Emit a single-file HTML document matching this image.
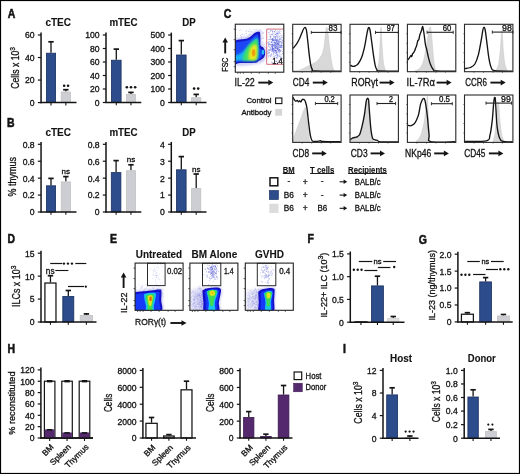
<!DOCTYPE html>
<html><head><meta charset="utf-8"><title>Figure</title>
<style>
html,body{margin:0;padding:0;background:#fff;}
body{width:520px;height:474px;overflow:hidden;}
svg{display:block;font-family:"Liberation Sans", sans-serif;will-change:transform;}
text{stroke:#141414;stroke-width:0.32px;}
text[font-weight=bold]{stroke-width:0.12px;}
</style></head><body>
<svg width="520" height="474" viewBox="0 0 520 474" fill="#141414">
<defs><filter id="b06" x="-30%" y="-30%" width="160%" height="160%"><feGaussianBlur stdDeviation="0.6"/></filter><filter id="b10" x="-30%" y="-30%" width="160%" height="160%"><feGaussianBlur stdDeviation="1.0"/></filter><filter id="b15" x="-30%" y="-30%" width="160%" height="160%"><feGaussianBlur stdDeviation="1.5"/></filter><filter id="b25" x="-30%" y="-30%" width="160%" height="160%"><feGaussianBlur stdDeviation="2.5"/></filter></defs>
<rect x="0" y="0" width="520" height="474" fill="#fff"/>
<rect x="0.5" y="0.5" width="519" height="473" fill="none" stroke="#000" stroke-width="1.2" />
<text font-size="12.2" font-weight="bold" style="stroke-width:0.55px" transform="translate(7.8 17.5) scale(0.86 1)" x="0" y="0">A</text>
<text x="58.2" y="26.4" font-size="10.2" text-anchor="middle" font-weight="bold" textLength="25.6" lengthAdjust="spacingAndGlyphs">cTEC</text>
<text x="123.5" y="26.4" font-size="10.2" text-anchor="middle" font-weight="bold" textLength="28.2" lengthAdjust="spacingAndGlyphs">mTEC</text>
<text x="189" y="26.4" font-size="10.2" text-anchor="middle" font-weight="bold" textLength="13.4" lengthAdjust="spacingAndGlyphs">DP</text>
<text font-size="10.4" transform="translate(19.4 88.7) rotate(-90)" textLength="41.7" lengthAdjust="spacingAndGlyphs" x="0" y="0">Cells x 10<tspan font-size="7.9" dy="-4.16">3</tspan></text>
<line x1="41.05" y1="103.2" x2="41.05" y2="32.6" stroke="#141414" stroke-width="1.5" />
<line x1="37.85" y1="102.6" x2="41.05" y2="102.6" stroke="#141414" stroke-width="1.2" />
<text x="34.65" y="106" font-size="8.6" text-anchor="end">0</text>
<line x1="37.85" y1="80.07" x2="41.05" y2="80.07" stroke="#141414" stroke-width="1.2" />
<text x="34.65" y="83.47" font-size="8.6" text-anchor="end">20</text>
<line x1="37.85" y1="57.53" x2="41.05" y2="57.53" stroke="#141414" stroke-width="1.2" />
<text x="34.65" y="60.93" font-size="8.6" text-anchor="end">40</text>
<line x1="37.85" y1="35" x2="41.05" y2="35" stroke="#141414" stroke-width="1.2" />
<text x="34.65" y="38.4" font-size="8.6" text-anchor="end">60</text>
<line x1="51" y1="52.8" x2="51" y2="41.8" stroke="#141414" stroke-width="1.3" />
<line x1="48.3" y1="41.8" x2="53.7" y2="41.8" stroke="#141414" stroke-width="1.7" />
<rect x="46.4" y="53.2" width="9.2" height="49.4" fill="#2c4c8c" stroke="#1b2f5e" stroke-width="0.8" />
<line x1="51" y1="102.6" x2="51" y2="105.4" stroke="#141414" stroke-width="1.1" />
<line x1="65.85" y1="91.6" x2="65.85" y2="89.7" stroke="#141414" stroke-width="1.3" />
<line x1="63.15" y1="89.7" x2="68.55" y2="89.7" stroke="#141414" stroke-width="1.7" />
<rect x="61.2" y="92" width="9.3" height="10.6" fill="#cdced3" stroke="#c2c2c2" stroke-width="0.8" />
<line x1="65.85" y1="102.6" x2="65.85" y2="105.4" stroke="#141414" stroke-width="1.1" />
<line x1="40.4" y1="102.6" x2="76.5" y2="102.6" stroke="#141414" stroke-width="1.5" />
<circle cx="64.15" cy="85.8" r="1.3" fill="#141414"/>
<circle cx="68.05" cy="85.8" r="1.3" fill="#141414"/>
<line x1="106" y1="103.1" x2="106" y2="32.6" stroke="#141414" stroke-width="1.5" />
<line x1="102.8" y1="102.5" x2="106" y2="102.5" stroke="#141414" stroke-width="1.2" />
<text x="99.6" y="105.9" font-size="8.6" text-anchor="end">0</text>
<line x1="102.8" y1="89" x2="106" y2="89" stroke="#141414" stroke-width="1.2" />
<text x="99.6" y="92.4" font-size="8.6" text-anchor="end">20</text>
<line x1="102.8" y1="75.5" x2="106" y2="75.5" stroke="#141414" stroke-width="1.2" />
<text x="99.6" y="78.9" font-size="8.6" text-anchor="end">40</text>
<line x1="102.8" y1="62" x2="106" y2="62" stroke="#141414" stroke-width="1.2" />
<text x="99.6" y="65.4" font-size="8.6" text-anchor="end">60</text>
<line x1="102.8" y1="48.5" x2="106" y2="48.5" stroke="#141414" stroke-width="1.2" />
<text x="99.6" y="51.9" font-size="8.6" text-anchor="end">80</text>
<line x1="102.8" y1="35" x2="106" y2="35" stroke="#141414" stroke-width="1.2" />
<text x="99.6" y="38.4" font-size="8.6" text-anchor="end">100</text>
<line x1="116.3" y1="59.8" x2="116.3" y2="49.1" stroke="#141414" stroke-width="1.3" />
<line x1="113.6" y1="49.1" x2="119" y2="49.1" stroke="#141414" stroke-width="1.7" />
<rect x="111.5" y="60.2" width="9.6" height="42.3" fill="#2c4c8c" stroke="#1b2f5e" stroke-width="0.8" />
<line x1="116.3" y1="102.5" x2="116.3" y2="105.3" stroke="#141414" stroke-width="1.1" />
<line x1="130.95" y1="94.1" x2="130.95" y2="92.4" stroke="#141414" stroke-width="1.3" />
<line x1="128.25" y1="92.4" x2="133.65" y2="92.4" stroke="#141414" stroke-width="1.7" />
<rect x="126.4" y="94.5" width="9.1" height="8" fill="#cdced3" stroke="#c2c2c2" stroke-width="0.8" />
<line x1="130.95" y1="102.5" x2="130.95" y2="105.3" stroke="#141414" stroke-width="1.1" />
<line x1="105.35" y1="102.5" x2="141.3" y2="102.5" stroke="#141414" stroke-width="1.5" />
<circle cx="126.85" cy="87.3" r="1.3" fill="#141414"/>
<circle cx="131" cy="87.3" r="1.3" fill="#141414"/>
<circle cx="135.15" cy="87.3" r="1.3" fill="#141414"/>
<line x1="171.3" y1="103.1" x2="171.3" y2="32.6" stroke="#141414" stroke-width="1.5" />
<line x1="168.1" y1="102.5" x2="171.3" y2="102.5" stroke="#141414" stroke-width="1.2" />
<text x="164.9" y="105.9" font-size="8.6" text-anchor="end">0</text>
<line x1="168.1" y1="89" x2="171.3" y2="89" stroke="#141414" stroke-width="1.2" />
<text x="164.9" y="92.4" font-size="8.6" text-anchor="end">100</text>
<line x1="168.1" y1="75.5" x2="171.3" y2="75.5" stroke="#141414" stroke-width="1.2" />
<text x="164.9" y="78.9" font-size="8.6" text-anchor="end">200</text>
<line x1="168.1" y1="62" x2="171.3" y2="62" stroke="#141414" stroke-width="1.2" />
<text x="164.9" y="65.4" font-size="8.6" text-anchor="end">300</text>
<line x1="168.1" y1="48.5" x2="171.3" y2="48.5" stroke="#141414" stroke-width="1.2" />
<text x="164.9" y="51.9" font-size="8.6" text-anchor="end">400</text>
<line x1="168.1" y1="35" x2="171.3" y2="35" stroke="#141414" stroke-width="1.2" />
<text x="164.9" y="38.4" font-size="8.6" text-anchor="end">500</text>
<line x1="181.3" y1="54.6" x2="181.3" y2="40.6" stroke="#141414" stroke-width="1.3" />
<line x1="178.6" y1="40.6" x2="184" y2="40.6" stroke="#141414" stroke-width="1.7" />
<rect x="176.5" y="55" width="9.6" height="47.5" fill="#2c4c8c" stroke="#1b2f5e" stroke-width="0.8" />
<line x1="181.3" y1="102.5" x2="181.3" y2="105.3" stroke="#141414" stroke-width="1.1" />
<line x1="196.2" y1="97.3" x2="196.2" y2="94.4" stroke="#141414" stroke-width="1.3" />
<line x1="193.5" y1="94.4" x2="198.9" y2="94.4" stroke="#141414" stroke-width="1.7" />
<rect x="191.6" y="97.7" width="9.2" height="4.8" fill="#cdced3" stroke="#c2c2c2" stroke-width="0.8" />
<line x1="196.2" y1="102.5" x2="196.2" y2="105.3" stroke="#141414" stroke-width="1.1" />
<line x1="170.65" y1="102.5" x2="206.5" y2="102.5" stroke="#141414" stroke-width="1.5" />
<circle cx="194.1" cy="88.6" r="1.3" fill="#141414"/>
<circle cx="198.2" cy="88.6" r="1.3" fill="#141414"/>
<text font-size="12.2" font-weight="bold" style="stroke-width:0.55px" transform="translate(7.1 127.3) scale(0.86 1)" x="0" y="0">B</text>
<text x="58.2" y="136.3" font-size="10.2" text-anchor="middle" font-weight="bold" textLength="25.6" lengthAdjust="spacingAndGlyphs">cTEC</text>
<text x="123.5" y="136.3" font-size="10.2" text-anchor="middle" font-weight="bold" textLength="28.2" lengthAdjust="spacingAndGlyphs">mTEC</text>
<text x="189" y="136.3" font-size="10.2" text-anchor="middle" font-weight="bold" textLength="13.4" lengthAdjust="spacingAndGlyphs">DP</text>
<text font-size="10.2" transform="translate(16.4 196.4) rotate(-90)" textLength="39.4" lengthAdjust="spacingAndGlyphs" x="0" y="0">% thymus</text>
<line x1="41.05" y1="212.6" x2="41.05" y2="141.9" stroke="#141414" stroke-width="1.5" />
<line x1="37.85" y1="212" x2="41.05" y2="212" stroke="#141414" stroke-width="1.2" />
<text x="34.65" y="215.4" font-size="8.6" text-anchor="end">0</text>
<line x1="37.85" y1="195.07" x2="41.05" y2="195.07" stroke="#141414" stroke-width="1.2" />
<text x="34.65" y="198.47" font-size="8.6" text-anchor="end">0.2</text>
<line x1="37.85" y1="178.15" x2="41.05" y2="178.15" stroke="#141414" stroke-width="1.2" />
<text x="34.65" y="181.55" font-size="8.6" text-anchor="end">0.4</text>
<line x1="37.85" y1="161.23" x2="41.05" y2="161.23" stroke="#141414" stroke-width="1.2" />
<text x="34.65" y="164.63" font-size="8.6" text-anchor="end">0.6</text>
<line x1="37.85" y1="144.3" x2="41.05" y2="144.3" stroke="#141414" stroke-width="1.2" />
<text x="34.65" y="147.7" font-size="8.6" text-anchor="end">0.8</text>
<line x1="51" y1="185.4" x2="51" y2="178.4" stroke="#141414" stroke-width="1.3" />
<line x1="48.3" y1="178.4" x2="53.7" y2="178.4" stroke="#141414" stroke-width="1.7" />
<rect x="46.4" y="185.8" width="9.2" height="26.2" fill="#2c4c8c" stroke="#1b2f5e" stroke-width="0.8" />
<line x1="51" y1="212" x2="51" y2="214.8" stroke="#141414" stroke-width="1.1" />
<line x1="65.85" y1="181.5" x2="65.85" y2="176.6" stroke="#141414" stroke-width="1.3" />
<line x1="63.15" y1="176.6" x2="68.55" y2="176.6" stroke="#141414" stroke-width="1.7" />
<rect x="61.2" y="181.9" width="9.3" height="30.1" fill="#cdced3" stroke="#c2c2c2" stroke-width="0.8" />
<line x1="65.85" y1="212" x2="65.85" y2="214.8" stroke="#141414" stroke-width="1.1" />
<line x1="40.4" y1="212" x2="76.5" y2="212" stroke="#141414" stroke-width="1.5" />
<text x="65.8" y="174.2" font-size="8" text-anchor="middle">ns</text>
<line x1="106" y1="212.6" x2="106" y2="141.9" stroke="#141414" stroke-width="1.5" />
<line x1="102.8" y1="212" x2="106" y2="212" stroke="#141414" stroke-width="1.2" />
<text x="99.6" y="215.4" font-size="8.6" text-anchor="end">0</text>
<line x1="102.8" y1="195.07" x2="106" y2="195.07" stroke="#141414" stroke-width="1.2" />
<text x="99.6" y="198.47" font-size="8.6" text-anchor="end">0.2</text>
<line x1="102.8" y1="178.15" x2="106" y2="178.15" stroke="#141414" stroke-width="1.2" />
<text x="99.6" y="181.55" font-size="8.6" text-anchor="end">0.4</text>
<line x1="102.8" y1="161.23" x2="106" y2="161.23" stroke="#141414" stroke-width="1.2" />
<text x="99.6" y="164.63" font-size="8.6" text-anchor="end">0.6</text>
<line x1="102.8" y1="144.3" x2="106" y2="144.3" stroke="#141414" stroke-width="1.2" />
<text x="99.6" y="147.7" font-size="8.6" text-anchor="end">0.8</text>
<line x1="116.1" y1="172.2" x2="116.1" y2="160.6" stroke="#141414" stroke-width="1.3" />
<line x1="113.4" y1="160.6" x2="118.8" y2="160.6" stroke="#141414" stroke-width="1.7" />
<rect x="111.3" y="172.6" width="9.6" height="39.4" fill="#2c4c8c" stroke="#1b2f5e" stroke-width="0.8" />
<line x1="116.1" y1="212" x2="116.1" y2="214.8" stroke="#141414" stroke-width="1.1" />
<line x1="130.95" y1="170.3" x2="130.95" y2="164.8" stroke="#141414" stroke-width="1.3" />
<line x1="128.25" y1="164.8" x2="133.65" y2="164.8" stroke="#141414" stroke-width="1.7" />
<rect x="126.4" y="170.7" width="9.1" height="41.3" fill="#cdced3" stroke="#c2c2c2" stroke-width="0.8" />
<line x1="130.95" y1="212" x2="130.95" y2="214.8" stroke="#141414" stroke-width="1.1" />
<line x1="105.35" y1="212" x2="141.3" y2="212" stroke="#141414" stroke-width="1.5" />
<text x="131" y="161.6" font-size="8" text-anchor="middle">ns</text>
<line x1="171.3" y1="212.6" x2="171.3" y2="141.9" stroke="#141414" stroke-width="1.5" />
<line x1="168.1" y1="212" x2="171.3" y2="212" stroke="#141414" stroke-width="1.2" />
<text x="164.9" y="215.4" font-size="8.6" text-anchor="end">0</text>
<line x1="168.1" y1="195.07" x2="171.3" y2="195.07" stroke="#141414" stroke-width="1.2" />
<text x="164.9" y="198.47" font-size="8.6" text-anchor="end">1</text>
<line x1="168.1" y1="178.15" x2="171.3" y2="178.15" stroke="#141414" stroke-width="1.2" />
<text x="164.9" y="181.55" font-size="8.6" text-anchor="end">2</text>
<line x1="168.1" y1="161.23" x2="171.3" y2="161.23" stroke="#141414" stroke-width="1.2" />
<text x="164.9" y="164.63" font-size="8.6" text-anchor="end">3</text>
<line x1="168.1" y1="144.3" x2="171.3" y2="144.3" stroke="#141414" stroke-width="1.2" />
<text x="164.9" y="147.7" font-size="8.6" text-anchor="end">4</text>
<line x1="181.3" y1="169.4" x2="181.3" y2="156.6" stroke="#141414" stroke-width="1.3" />
<line x1="178.6" y1="156.6" x2="184" y2="156.6" stroke="#141414" stroke-width="1.7" />
<rect x="176.5" y="169.8" width="9.6" height="42.2" fill="#2c4c8c" stroke="#1b2f5e" stroke-width="0.8" />
<line x1="181.3" y1="212" x2="181.3" y2="214.8" stroke="#141414" stroke-width="1.1" />
<line x1="196.2" y1="188.2" x2="196.2" y2="174" stroke="#141414" stroke-width="1.3" />
<line x1="193.5" y1="174" x2="198.9" y2="174" stroke="#141414" stroke-width="1.7" />
<rect x="191.6" y="188.6" width="9.2" height="23.4" fill="#cdced3" stroke="#c2c2c2" stroke-width="0.8" />
<line x1="196.2" y1="212" x2="196.2" y2="214.8" stroke="#141414" stroke-width="1.1" />
<line x1="170.65" y1="212" x2="206.5" y2="212" stroke="#141414" stroke-width="1.5" />
<text x="196.3" y="171.8" font-size="8" text-anchor="middle">ns</text>
<text font-size="12.2" font-weight="bold" style="stroke-width:0.55px" transform="translate(223.8 17.5) scale(0.86 1)" x="0" y="0">C</text>
<g transform="translate(292.7 24.3)">
<rect x="0" y="0" width="48.4" height="47.4" fill="#fff" />
<path d="M0 46.6 C1.33 46.4 5.58 46.13 8 45.4 C10.42 44.67 12.5 43.18 14.5 42.2 C16.5 41.22 18.25 40.48 20 39.5 C21.75 38.52 23.42 37.97 25 36.3 C26.58 34.63 28.42 32.05 29.5 29.5 C30.58 26.95 30.95 24.42 31.5 21 C32.05 17.58 32.45 11.9 32.8 9 C33.15 6.1 33.33 4.57 33.6 3.6 C33.87 2.63 34.13 2.47 34.4 3.2 C34.67 3.93 34.77 4.53 35.2 8 C35.63 11.47 36.37 19 37 24 C37.63 29 38.37 34.45 39 38 C39.63 41.55 40.3 43.87 40.8 45.3 C41.3 46.73 41.8 46.38 42 46.6 L42 47.4 L0 47.4 Z" fill="#d8d8d8" stroke="#c6c6c6" stroke-width="0.5"/>
<path d="M0.3 24 C0.82 23.4 2.38 21.87 3.4 20.4 C4.42 18.93 5.47 17.1 6.4 15.2 C7.33 13.3 8.28 10.7 9 9 C9.72 7.3 10.2 5.97 10.7 5 C11.2 4.03 11.6 3.38 12 3.2 C12.4 3.02 12.77 3.18 13.1 3.9 C13.43 4.62 13.63 4.98 14 7.5 C14.37 10.02 14.87 15.08 15.3 19 C15.73 22.92 16.15 27.42 16.6 31 C17.05 34.58 17.5 38.13 18 40.5 C18.5 42.87 18.93 44.2 19.6 45.2 C20.27 46.2 17.27 46.23 22 46.5 C26.73 46.77 43.67 46.75 48 46.8" fill="none" stroke="#141414" stroke-width="1.35" stroke-linejoin="round"/>
<line x1="-1.2" y1="9.5" x2="0.4" y2="9.5" stroke="#555" stroke-width="0.7" />
<line x1="-1.2" y1="19" x2="0.4" y2="19" stroke="#555" stroke-width="0.7" />
<line x1="-1.2" y1="28.5" x2="0.4" y2="28.5" stroke="#555" stroke-width="0.7" />
<line x1="-1.2" y1="38" x2="0.4" y2="38" stroke="#555" stroke-width="0.7" />
<line x1="9.5" y1="47" x2="9.5" y2="48.6" stroke="#555" stroke-width="0.7" />
<line x1="19" y1="47" x2="19" y2="48.6" stroke="#555" stroke-width="0.7" />
<line x1="28.5" y1="47" x2="28.5" y2="48.6" stroke="#555" stroke-width="0.7" />
<line x1="38" y1="47" x2="38" y2="48.6" stroke="#555" stroke-width="0.7" />
<line x1="18.6" y1="8.1" x2="48.4" y2="8.1" stroke="#222" stroke-width="1.1" />
<line x1="18.6" y1="6.5" x2="18.6" y2="9.7" stroke="#222" stroke-width="0.9" />
<line x1="48.4" y1="6.5" x2="48.4" y2="9.7" stroke="#222" stroke-width="0.9" />
<text x="35.9" y="7" font-size="8.3" textLength="9" lengthAdjust="spacingAndGlyphs" fill="#1a1a1a">83</text>
<rect x="0" y="0" width="48.4" height="47.4" fill="none" stroke="#2a2a2a" stroke-width="1.1" />
</g>
<g transform="translate(350 24.3)">
<rect x="0" y="0" width="48.4" height="47.4" fill="#fff" />
<path d="M26.8 46.6 C27.13 45.17 28.27 42.43 28.8 38 C29.33 33.57 29.63 25.87 30 20 C30.37 14.13 30.67 2.8 31 2.8 C31.33 2.8 31.6 14.13 32 20 C32.4 25.87 32.8 33.57 33.4 38 C34 42.43 35.23 45.17 35.6 46.6 L35.6 47.4 L26.8 47.4 Z" fill="#d8d8d8" stroke="#c6c6c6" stroke-width="0.5"/>
<path d="M0.3 40.8 C0.68 41 1.73 41.88 2.6 42 C3.47 42.12 4.53 41.97 5.5 41.5 C6.47 41.03 7.35 40.65 8.4 39.2 C9.45 37.75 10.87 35.17 11.8 32.8 C12.73 30.43 13.42 27.33 14 25 C14.58 22.67 14.8 21.47 15.3 18.8 C15.8 16.13 16.52 11.47 17 9 C17.48 6.53 17.87 4.97 18.2 4 C18.53 3.03 18.72 3 19 3.2 C19.28 3.4 19.55 3.57 19.9 5.2 C20.25 6.83 20.52 8.8 21.1 13 C21.68 17.2 22.7 25.65 23.4 30.4 C24.1 35.15 24.7 38.97 25.3 41.5 C25.9 44.03 26.38 44.75 27 45.6 C27.62 46.45 25.5 46.4 29 46.6 C32.5 46.8 44.83 46.77 48 46.8" fill="none" stroke="#141414" stroke-width="1.35" stroke-linejoin="round"/>
<line x1="-1.2" y1="9.5" x2="0.4" y2="9.5" stroke="#555" stroke-width="0.7" />
<line x1="-1.2" y1="19" x2="0.4" y2="19" stroke="#555" stroke-width="0.7" />
<line x1="-1.2" y1="28.5" x2="0.4" y2="28.5" stroke="#555" stroke-width="0.7" />
<line x1="-1.2" y1="38" x2="0.4" y2="38" stroke="#555" stroke-width="0.7" />
<line x1="9.5" y1="47" x2="9.5" y2="48.6" stroke="#555" stroke-width="0.7" />
<line x1="19" y1="47" x2="19" y2="48.6" stroke="#555" stroke-width="0.7" />
<line x1="28.5" y1="47" x2="28.5" y2="48.6" stroke="#555" stroke-width="0.7" />
<line x1="38" y1="47" x2="38" y2="48.6" stroke="#555" stroke-width="0.7" />
<line x1="25.5" y1="8.1" x2="48.4" y2="8.1" stroke="#222" stroke-width="1.1" />
<line x1="25.5" y1="6.5" x2="25.5" y2="9.7" stroke="#222" stroke-width="0.9" />
<line x1="48.4" y1="6.5" x2="48.4" y2="9.7" stroke="#222" stroke-width="0.9" />
<text x="36.7" y="7" font-size="8.3" textLength="8" lengthAdjust="spacingAndGlyphs" fill="#1a1a1a">97</text>
<rect x="0" y="0" width="48.4" height="47.4" fill="none" stroke="#2a2a2a" stroke-width="1.1" />
</g>
<g transform="translate(407.4 24.3)">
<rect x="0" y="0" width="48.4" height="47.4" fill="#fff" />
<path d="M7.5 46.6 C8.08 46.33 9.93 45.77 11 45 C12.07 44.23 13.07 43.33 13.9 42 C14.73 40.67 15.42 38.93 16 37 C16.58 35.07 16.9 32.9 17.4 30.4 C17.9 27.9 18.48 25.07 19 22 C19.52 18.93 20.03 14.83 20.5 12 C20.97 9.17 21.45 6.57 21.8 5 C22.15 3.43 22.32 2.6 22.6 2.6 C22.88 2.6 23.12 2.3 23.5 5 C23.88 7.7 24.48 14.3 24.9 18.8 C25.32 23.3 25.67 28.47 26 32 C26.33 35.53 26.5 37.75 26.9 40 C27.3 42.25 27.88 44.4 28.4 45.5 C28.92 46.6 29.73 46.42 30 46.6 L30 47.4 L7.5 47.4 Z" fill="#d8d8d8" stroke="#c6c6c6" stroke-width="0.5"/>
<path d="M0.3 35.6 C0.58 35.25 1.47 34.23 2 33.5 C2.53 32.77 3.12 31.4 3.5 31.2 C3.88 31 4.02 32.58 4.3 32.3 C4.58 32.02 4.85 30.22 5.2 29.5 C5.55 28.78 6.02 28.58 6.4 28 C6.78 27.42 7.22 26.67 7.5 26 C7.78 25.33 7.82 24.75 8.1 24 C8.38 23.25 8.82 22.75 9.2 21.5 C9.58 20.25 10.03 17.5 10.4 16.5 C10.77 15.5 11.1 16.33 11.4 15.5 C11.7 14.67 11.97 12.5 12.2 11.5 C12.43 10.5 12.5 10.33 12.8 9.5 C13.1 8.67 13.62 7.72 14 6.5 C14.38 5.28 14.77 2.37 15.1 2.2 C15.43 2.03 15.72 4.08 16 5.5 C16.28 6.92 16.47 8.28 16.8 10.7 C17.13 13.12 17.55 17.45 18 20 C18.45 22.55 19 23.83 19.5 26 C20 28.17 20.42 30.67 21 33 C21.58 35.33 22.17 37.92 23 40 C23.83 42.08 25 44.4 26 45.5 C27 46.6 25.33 46.38 29 46.6 C32.67 46.82 44.83 46.77 48 46.8" fill="none" stroke="#141414" stroke-width="1.35" stroke-linejoin="round"/>
<line x1="-1.2" y1="9.5" x2="0.4" y2="9.5" stroke="#555" stroke-width="0.7" />
<line x1="-1.2" y1="19" x2="0.4" y2="19" stroke="#555" stroke-width="0.7" />
<line x1="-1.2" y1="28.5" x2="0.4" y2="28.5" stroke="#555" stroke-width="0.7" />
<line x1="-1.2" y1="38" x2="0.4" y2="38" stroke="#555" stroke-width="0.7" />
<line x1="9.5" y1="47" x2="9.5" y2="48.6" stroke="#555" stroke-width="0.7" />
<line x1="19" y1="47" x2="19" y2="48.6" stroke="#555" stroke-width="0.7" />
<line x1="28.5" y1="47" x2="28.5" y2="48.6" stroke="#555" stroke-width="0.7" />
<line x1="38" y1="47" x2="38" y2="48.6" stroke="#555" stroke-width="0.7" />
<line x1="19.7" y1="8" x2="45.8" y2="8" stroke="#222" stroke-width="1.1" />
<line x1="19.7" y1="6.4" x2="19.7" y2="9.6" stroke="#222" stroke-width="0.9" />
<line x1="45.8" y1="6.4" x2="45.8" y2="9.6" stroke="#222" stroke-width="0.9" />
<text x="35.4" y="7" font-size="8.3" textLength="8.6" lengthAdjust="spacingAndGlyphs" fill="#1a1a1a">60</text>
<rect x="0" y="0" width="48.4" height="47.4" fill="none" stroke="#2a2a2a" stroke-width="1.1" />
</g>
<g transform="translate(464.5 24.3)">
<rect x="0" y="0" width="48.4" height="47.4" fill="#fff" />
<path d="M31.3 46.6 C31.75 45.5 33.25 43.43 34 40 C34.75 36.57 35.35 30.67 35.8 26 C36.25 21.33 36.45 15.23 36.7 12 C36.95 8.77 37.08 6.6 37.3 6.6 C37.52 6.6 37.75 8.77 38 12 C38.25 15.23 38.38 21.33 38.8 26 C39.22 30.67 39.82 36.57 40.5 40 C41.18 43.43 42.5 45.5 42.9 46.6 L42.9 47.4 L31.3 47.4 Z" fill="#d8d8d8" stroke="#c6c6c6" stroke-width="0.5"/>
<path d="M0.3 44.3 C1.22 44.12 4.12 43.97 5.8 43.2 C7.48 42.43 9.05 41.83 10.4 39.7 C11.75 37.57 12.83 34.47 13.9 30.4 C14.97 26.33 16.05 19.43 16.8 15.3 C17.55 11.17 17.95 7.68 18.4 5.6 C18.85 3.52 19.13 2.87 19.5 2.8 C19.87 2.73 20.18 3.12 20.6 5.2 C21.02 7.28 21.37 10.52 22 15.3 C22.63 20.08 23.62 29.25 24.4 33.9 C25.18 38.55 25.73 41.12 26.7 43.2 C27.67 45.28 26.65 45.8 30.2 46.4 C33.75 47 45.03 46.73 48 46.8" fill="none" stroke="#141414" stroke-width="1.35" stroke-linejoin="round"/>
<line x1="-1.2" y1="9.5" x2="0.4" y2="9.5" stroke="#555" stroke-width="0.7" />
<line x1="-1.2" y1="19" x2="0.4" y2="19" stroke="#555" stroke-width="0.7" />
<line x1="-1.2" y1="28.5" x2="0.4" y2="28.5" stroke="#555" stroke-width="0.7" />
<line x1="-1.2" y1="38" x2="0.4" y2="38" stroke="#555" stroke-width="0.7" />
<line x1="9.5" y1="47" x2="9.5" y2="48.6" stroke="#555" stroke-width="0.7" />
<line x1="19" y1="47" x2="19" y2="48.6" stroke="#555" stroke-width="0.7" />
<line x1="28.5" y1="47" x2="28.5" y2="48.6" stroke="#555" stroke-width="0.7" />
<line x1="38" y1="47" x2="38" y2="48.6" stroke="#555" stroke-width="0.7" />
<line x1="27.8" y1="7.8" x2="48.4" y2="7.8" stroke="#222" stroke-width="1.1" />
<line x1="27.8" y1="6.2" x2="27.8" y2="9.4" stroke="#222" stroke-width="0.9" />
<line x1="48.4" y1="6.2" x2="48.4" y2="9.4" stroke="#222" stroke-width="0.9" />
<text x="37.6" y="7" font-size="8.3" textLength="9.8" lengthAdjust="spacingAndGlyphs" fill="#1a1a1a">98</text>
<rect x="0" y="0" width="48.4" height="47.4" fill="none" stroke="#2a2a2a" stroke-width="1.1" />
</g>
<g transform="translate(292.7 95)">
<rect x="0" y="0" width="48.4" height="47.4" fill="#fff" />
<path d="M0 44 C0.5 42.83 2 39.5 3 37 C4 34.5 5 31.67 6 29 C7 26.33 8.1 23.4 9 21 C9.9 18.6 10.78 16.03 11.4 14.6 C12.02 13.17 12.3 11.83 12.7 12.4 C13.1 12.97 13.38 14.73 13.8 18 C14.22 21.27 14.73 27.67 15.2 32 C15.67 36.33 16.23 41.57 16.6 44 C16.97 46.43 17.27 46.17 17.4 46.6 L17.4 47.4 L0 47.4 Z" fill="#d8d8d8" stroke="#c6c6c6" stroke-width="0.5"/>
<path d="M0.3 2.3 C0.5 2.68 1.05 3.95 1.5 4.6 C1.95 5.25 2.5 6.07 3 6.2 C3.5 6.33 4.03 5.3 4.5 5.4 C4.97 5.5 5.38 6.73 5.8 6.8 C6.22 6.87 6.6 5.78 7 5.8 C7.4 5.82 7.8 7.07 8.2 6.9 C8.6 6.73 9 5.23 9.4 4.8 C9.8 4.37 10.2 4.27 10.6 4.3 C11 4.33 11.43 4.55 11.8 5 C12.17 5.45 12.38 5.62 12.8 7 C13.22 8.38 13.77 9.73 14.3 13.3 C14.83 16.87 15.42 23.75 16 28.4 C16.58 33.05 17.22 38.28 17.8 41.2 C18.38 44.12 18.8 45.03 19.5 45.9 C20.2 46.77 20.92 46.35 22 46.4 C23.08 46.45 25 46.33 26 46.2 C27 46.07 27.33 45.58 28 45.6 C28.67 45.62 26.67 46.13 30 46.3 C33.33 46.47 45 46.55 48 46.6" fill="none" stroke="#141414" stroke-width="1.35" stroke-linejoin="round"/>
<line x1="-1.2" y1="9.5" x2="0.4" y2="9.5" stroke="#555" stroke-width="0.7" />
<line x1="-1.2" y1="19" x2="0.4" y2="19" stroke="#555" stroke-width="0.7" />
<line x1="-1.2" y1="28.5" x2="0.4" y2="28.5" stroke="#555" stroke-width="0.7" />
<line x1="-1.2" y1="38" x2="0.4" y2="38" stroke="#555" stroke-width="0.7" />
<line x1="9.5" y1="47" x2="9.5" y2="48.6" stroke="#555" stroke-width="0.7" />
<line x1="19" y1="47" x2="19" y2="48.6" stroke="#555" stroke-width="0.7" />
<line x1="28.5" y1="47" x2="28.5" y2="48.6" stroke="#555" stroke-width="0.7" />
<line x1="38" y1="47" x2="38" y2="48.6" stroke="#555" stroke-width="0.7" />
<line x1="22.7" y1="8.5" x2="45" y2="8.5" stroke="#222" stroke-width="1.1" />
<line x1="22.7" y1="6.9" x2="22.7" y2="10.1" stroke="#222" stroke-width="0.9" />
<line x1="45" y1="6.9" x2="45" y2="10.1" stroke="#222" stroke-width="0.9" />
<text x="31.7" y="7" font-size="8.3" textLength="10.4" lengthAdjust="spacingAndGlyphs" fill="#1a1a1a">0.2</text>
<rect x="0" y="0" width="48.4" height="47.4" fill="none" stroke="#2a2a2a" stroke-width="1.1" />
</g>
<g transform="translate(350 95)">
<rect x="0" y="0" width="48.4" height="47.4" fill="#fff" />
<path d="M0 45.5 C0.5 45.25 1.75 44.42 3 44 C4.25 43.58 6.35 43.67 7.5 43 C8.65 42.33 9.12 41.83 9.9 40 C10.68 38.17 11.43 35.17 12.2 32 C12.97 28.83 13.83 24.83 14.5 21 C15.17 17.17 15.72 11.43 16.2 9 C16.68 6.57 17 6.4 17.4 6.4 C17.8 6.4 18.1 4.4 18.6 9 C19.1 13.6 19.8 28.17 20.4 34 C21 39.83 21.6 41.9 22.2 44 C22.8 46.1 23.7 46.17 24 46.6 L24 47.4 L0 47.4 Z" fill="#d8d8d8" stroke="#c6c6c6" stroke-width="0.5"/>
<path d="M0.3 44.7 C0.73 44.4 2.03 43.3 2.9 42.9 C3.77 42.5 4.73 42.52 5.5 42.3 C6.27 42.08 6.77 42.17 7.5 41.6 C8.23 41.03 9.12 40.72 9.9 38.9 C10.68 37.08 11.43 34 12.2 30.7 C12.97 27.4 13.83 23.15 14.5 19.1 C15.17 15.05 15.75 8.95 16.2 6.4 C16.65 3.85 16.92 4.3 17.2 3.8 C17.48 3.3 17.67 3.17 17.9 3.4 C18.13 3.63 18.38 3.55 18.6 5.2 C18.82 6.85 18.82 8.47 19.2 13.3 C19.58 18.13 20.33 29.22 20.9 34.2 C21.47 39.18 21.92 41.43 22.6 43.2 C23.28 44.97 24.22 44.45 25 44.8 C25.78 45.15 26.35 44.97 27.3 45.3 C28.25 45.63 27.25 46.55 30.7 46.8 C34.15 47.05 45.12 46.8 48 46.8" fill="none" stroke="#141414" stroke-width="1.35" stroke-linejoin="round"/>
<line x1="-1.2" y1="9.5" x2="0.4" y2="9.5" stroke="#555" stroke-width="0.7" />
<line x1="-1.2" y1="19" x2="0.4" y2="19" stroke="#555" stroke-width="0.7" />
<line x1="-1.2" y1="28.5" x2="0.4" y2="28.5" stroke="#555" stroke-width="0.7" />
<line x1="-1.2" y1="38" x2="0.4" y2="38" stroke="#555" stroke-width="0.7" />
<line x1="9.5" y1="47" x2="9.5" y2="48.6" stroke="#555" stroke-width="0.7" />
<line x1="19" y1="47" x2="19" y2="48.6" stroke="#555" stroke-width="0.7" />
<line x1="28.5" y1="47" x2="28.5" y2="48.6" stroke="#555" stroke-width="0.7" />
<line x1="38" y1="47" x2="38" y2="48.6" stroke="#555" stroke-width="0.7" />
<line x1="27" y1="8.5" x2="45.6" y2="8.5" stroke="#222" stroke-width="1.1" />
<line x1="27" y1="6.9" x2="27" y2="10.1" stroke="#222" stroke-width="0.9" />
<line x1="45.6" y1="6.9" x2="45.6" y2="10.1" stroke="#222" stroke-width="0.9" />
<text x="38.9" y="7" font-size="8.3" textLength="4" lengthAdjust="spacingAndGlyphs" fill="#1a1a1a">2</text>
<rect x="0" y="0" width="48.4" height="47.4" fill="none" stroke="#2a2a2a" stroke-width="1.1" />
</g>
<g transform="translate(407.4 95)">
<rect x="0" y="0" width="48.4" height="47.4" fill="#fff" />
<path d="M8.4 46.6 C8.92 46.08 10.53 44.98 11.5 43.5 C12.47 42.02 13.27 40.78 14.2 37.7 C15.13 34.62 16.33 29.45 17.1 25 C17.87 20.55 18.37 14.67 18.8 11 C19.23 7.33 19.47 4.33 19.7 3 C19.93 1.67 19.97 -0.67 20.2 3 C20.43 6.67 20.75 17.87 21.1 25 C21.45 32.13 21.98 42.2 22.3 45.8 C22.62 49.4 22.88 46.47 23 46.6 L23 47.4 L8.4 47.4 Z" fill="#d8d8d8" stroke="#c6c6c6" stroke-width="0.5"/>
<path d="M0.3 30.2 C0.77 30.3 2.05 31 3.1 30.8 C4.15 30.6 5.63 29.88 6.6 29 C7.57 28.12 8.12 27.15 8.9 25.5 C9.68 23.85 10.62 21.7 11.3 19.1 C11.98 16.5 12.42 12.25 13 9.9 C13.58 7.55 14.3 6.05 14.8 5 C15.3 3.95 15.6 3.73 16 3.6 C16.4 3.47 16.83 3.35 17.2 4.2 C17.57 5.05 17.73 5.82 18.2 8.7 C18.67 11.58 19.42 16.28 20 21.5 C20.58 26.72 21.13 35.82 21.7 40 C22.27 44.18 19.02 45.47 23.4 46.6 C27.78 47.73 43.9 46.77 48 46.8" fill="none" stroke="#141414" stroke-width="1.35" stroke-linejoin="round"/>
<line x1="-1.2" y1="9.5" x2="0.4" y2="9.5" stroke="#555" stroke-width="0.7" />
<line x1="-1.2" y1="19" x2="0.4" y2="19" stroke="#555" stroke-width="0.7" />
<line x1="-1.2" y1="28.5" x2="0.4" y2="28.5" stroke="#555" stroke-width="0.7" />
<line x1="-1.2" y1="38" x2="0.4" y2="38" stroke="#555" stroke-width="0.7" />
<line x1="9.5" y1="47" x2="9.5" y2="48.6" stroke="#555" stroke-width="0.7" />
<line x1="19" y1="47" x2="19" y2="48.6" stroke="#555" stroke-width="0.7" />
<line x1="28.5" y1="47" x2="28.5" y2="48.6" stroke="#555" stroke-width="0.7" />
<line x1="38" y1="47" x2="38" y2="48.6" stroke="#555" stroke-width="0.7" />
<line x1="24" y1="8.7" x2="44.9" y2="8.7" stroke="#222" stroke-width="1.1" />
<line x1="24" y1="7.1" x2="24" y2="10.3" stroke="#222" stroke-width="0.9" />
<line x1="44.9" y1="7.1" x2="44.9" y2="10.3" stroke="#222" stroke-width="0.9" />
<text x="31.6" y="7" font-size="8.3" textLength="11" lengthAdjust="spacingAndGlyphs" fill="#1a1a1a">0.5</text>
<rect x="0" y="0" width="48.4" height="47.4" fill="none" stroke="#2a2a2a" stroke-width="1.1" />
</g>
<g transform="translate(464.5 95)">
<rect x="0" y="0" width="48.4" height="47.4" fill="#fff" />
<path d="M28.5 46.6 C28.83 45.17 29.95 41.77 30.5 38 C31.05 34.23 31.38 28.67 31.8 24 C32.22 19.33 32.7 12.75 33 10 C33.3 7.25 33.37 7.17 33.6 7.5 C33.83 7.83 34.08 8.92 34.4 12 C34.72 15.08 35.03 21.33 35.5 26 C35.97 30.67 36.45 36.57 37.2 40 C37.95 43.43 39.53 45.5 40 46.6 L40 47.4 L28.5 47.4 Z" fill="#d8d8d8" stroke="#c6c6c6" stroke-width="0.5"/>
<path d="M0.3 46.5 C3.92 46.38 17.8 46.88 22 45.8 C26.2 44.72 24.53 43.47 25.5 40 C26.47 36.53 27.22 30.02 27.8 25 C28.38 19.98 28.67 13.5 29 9.9 C29.33 6.3 29.58 4.65 29.8 3.4 C30.02 2.15 30.13 2.37 30.3 2.4 C30.47 2.43 30.62 1.78 30.8 3.6 C30.98 5.42 31.12 8.78 31.4 13.3 C31.68 17.82 31.93 25.85 32.5 30.7 C33.07 35.55 33.83 39.78 34.8 42.4 C35.77 45.02 36.1 45.67 38.3 46.4 C40.5 47.13 46.38 46.73 48 46.8" fill="none" stroke="#141414" stroke-width="1.35" stroke-linejoin="round"/>
<line x1="-1.2" y1="9.5" x2="0.4" y2="9.5" stroke="#555" stroke-width="0.7" />
<line x1="-1.2" y1="19" x2="0.4" y2="19" stroke="#555" stroke-width="0.7" />
<line x1="-1.2" y1="28.5" x2="0.4" y2="28.5" stroke="#555" stroke-width="0.7" />
<line x1="-1.2" y1="38" x2="0.4" y2="38" stroke="#555" stroke-width="0.7" />
<line x1="9.5" y1="47" x2="9.5" y2="48.6" stroke="#555" stroke-width="0.7" />
<line x1="19" y1="47" x2="19" y2="48.6" stroke="#555" stroke-width="0.7" />
<line x1="28.5" y1="47" x2="28.5" y2="48.6" stroke="#555" stroke-width="0.7" />
<line x1="38" y1="47" x2="38" y2="48.6" stroke="#555" stroke-width="0.7" />
<line x1="21.5" y1="8.1" x2="47" y2="8.1" stroke="#222" stroke-width="1.1" />
<line x1="21.5" y1="6.5" x2="21.5" y2="9.7" stroke="#222" stroke-width="0.9" />
<line x1="47" y1="6.5" x2="47" y2="9.7" stroke="#222" stroke-width="0.9" />
<text x="36.6" y="7" font-size="8.3" textLength="9.8" lengthAdjust="spacingAndGlyphs" fill="#1a1a1a">99</text>
<rect x="0" y="0" width="48.4" height="47.4" fill="none" stroke="#2a2a2a" stroke-width="1.1" />
</g>
<text x="292.8" y="86.2" font-size="10.4" textLength="16.5" lengthAdjust="spacingAndGlyphs">CD4</text>
<line x1="312.8" y1="82.6" x2="323.3" y2="82.6" stroke="#141414" stroke-width="1.9" />
<path d="M322.8 79.8 L327.8 82.6 L322.8 85.4 Z" fill="#141414"/>
<text x="351.3" y="86.2" font-size="10.4" textLength="26.6" lengthAdjust="spacingAndGlyphs">ROR&#947;t</text>
<line x1="379.6" y1="82.6" x2="390.1" y2="82.6" stroke="#141414" stroke-width="1.9" />
<path d="M389.6 79.8 L394.6 82.6 L389.6 85.4 Z" fill="#141414"/>
<text x="406.6" y="86.2" font-size="10.4" textLength="28.3" lengthAdjust="spacingAndGlyphs">IL-7R&#945;</text>
<line x1="436.6" y1="82.6" x2="447.1" y2="82.6" stroke="#141414" stroke-width="1.9" />
<path d="M446.6 79.8 L451.6 82.6 L446.6 85.4 Z" fill="#141414"/>
<text x="465.3" y="86.2" font-size="10.4" textLength="21.7" lengthAdjust="spacingAndGlyphs">CCR6</text>
<line x1="490.4" y1="82.6" x2="501.2" y2="82.6" stroke="#141414" stroke-width="1.9" />
<path d="M500.7 79.8 L505.7 82.6 L500.7 85.4 Z" fill="#141414"/>
<text x="292.6" y="157" font-size="10.4" textLength="16.6" lengthAdjust="spacingAndGlyphs">CD8</text>
<line x1="312.2" y1="153.4" x2="322.3" y2="153.4" stroke="#141414" stroke-width="1.9" />
<path d="M321.8 150.6 L326.8 153.4 L321.8 156.2 Z" fill="#141414"/>
<text x="350.8" y="157" font-size="10.4" textLength="16.8" lengthAdjust="spacingAndGlyphs">CD3</text>
<line x1="370.6" y1="153.4" x2="380.5" y2="153.4" stroke="#141414" stroke-width="1.9" />
<path d="M380 150.6 L385 153.4 L380 156.2 Z" fill="#141414"/>
<text x="405.1" y="157" font-size="10.4" textLength="26.1" lengthAdjust="spacingAndGlyphs">NKp46</text>
<line x1="434.2" y1="153.4" x2="444.4" y2="153.4" stroke="#141414" stroke-width="1.9" />
<path d="M443.9 150.6 L448.9 153.4 L443.9 156.2 Z" fill="#141414"/>
<text x="464.2" y="157" font-size="10.4" textLength="21.2" lengthAdjust="spacingAndGlyphs">CD45</text>
<line x1="488.9" y1="153.4" x2="498.9" y2="153.4" stroke="#141414" stroke-width="1.9" />
<path d="M498.4 150.6 L503.4 153.4 L498.4 156.2 Z" fill="#141414"/>
<text x="234.6" y="86.2" font-size="10.4" textLength="20.2" lengthAdjust="spacingAndGlyphs">IL-22</text>
<line x1="258.3" y1="82.6" x2="268.8" y2="82.6" stroke="#141414" stroke-width="1.9" />
<path d="M268.3 79.8 L273.3 82.6 L268.3 85.4 Z" fill="#141414"/>
<text font-size="8.6" transform="translate(228.4 71.7) rotate(-90)" textLength="14.2" lengthAdjust="spacingAndGlyphs" x="0" y="0" fill="#141414">FSC</text>
<line x1="225.2" y1="53.4" x2="225.2" y2="42.1" stroke="#141414" stroke-width="1.9" />
<path d="M222.4 42.6 L225.2 37.6 L228 42.6 Z" fill="#141414"/>
<text x="271.5" y="103.3" font-size="7.8" text-anchor="end" textLength="25" lengthAdjust="spacingAndGlyphs">Control</text>
<rect x="275.6" y="98" width="6.3" height="5.6" fill="#fff" stroke="#141414" stroke-width="1.1" />
<text x="271.5" y="114.9" font-size="7.8" text-anchor="end" textLength="30.1" lengthAdjust="spacingAndGlyphs">Antibody</text>
<rect x="275.2" y="109" width="6.9" height="6.7" fill="#d6d6d6" />
<text x="282.8" y="172.7" font-size="8.6" font-weight="bold" textLength="11.9" lengthAdjust="spacingAndGlyphs">BM</text>
<line x1="282.8" y1="173.5" x2="294.7" y2="173.5" stroke="#141414" stroke-width="0.95" />
<text x="310.1" y="172.7" font-size="8.6" font-weight="bold" textLength="24.2" lengthAdjust="spacingAndGlyphs">T cells</text>
<line x1="310.1" y1="173.5" x2="334.3" y2="173.5" stroke="#141414" stroke-width="0.95" />
<text x="348.1" y="172.7" font-size="8.6" font-weight="bold" textLength="38.8" lengthAdjust="spacingAndGlyphs">Recipients</text>
<line x1="348.1" y1="173.5" x2="386.9" y2="173.5" stroke="#141414" stroke-width="0.95" />
<rect x="270" y="177.8" width="7.8" height="8" fill="#fff" stroke="#141414" stroke-width="1.5" />
<text x="289" y="184.2" font-size="8.4" text-anchor="middle">-</text>
<text x="305.1" y="184.7" font-size="8.4" text-anchor="middle">+</text>
<text x="322.2" y="184.2" font-size="8.4" text-anchor="middle">-</text>
<line x1="339.6" y1="181.8" x2="344.4" y2="181.8" stroke="#141414" stroke-width="1.1" />
<path d="M343.6 179.6 L347.2 181.8 L343.6 184 Z" fill="#141414"/>
<text x="354.8" y="184.7" font-size="8.3" textLength="25.8" lengthAdjust="spacingAndGlyphs">BALB/c</text>
<rect x="269.3" y="190.4" width="9.2" height="9.2" fill="#2c4c8c" stroke="#1b2f5e" stroke-width="0.6" />
<text x="283.8" y="198.1" font-size="8.5" textLength="10.1" lengthAdjust="spacingAndGlyphs">B6</text>
<text x="305.1" y="198" font-size="8.4" text-anchor="middle">+</text>
<text x="322.2" y="197.5" font-size="8.4" text-anchor="middle">-</text>
<line x1="339.6" y1="195.1" x2="344.4" y2="195.1" stroke="#141414" stroke-width="1.1" />
<path d="M343.6 192.9 L347.2 195.1 L343.6 197.3 Z" fill="#141414"/>
<text x="354.8" y="198" font-size="8.3" textLength="25.8" lengthAdjust="spacingAndGlyphs">BALB/c</text>
<rect x="269.3" y="203.7" width="9.2" height="9.2" fill="#dcdcdc" />
<text x="283.8" y="211.3" font-size="8.5" textLength="10.1" lengthAdjust="spacingAndGlyphs">B6</text>
<text x="305.1" y="211.2" font-size="8.4" text-anchor="middle">+</text>
<text x="317.5" y="211.3" font-size="8.5" textLength="9.7" lengthAdjust="spacingAndGlyphs">B6</text>
<line x1="339.6" y1="208.3" x2="344.4" y2="208.3" stroke="#141414" stroke-width="1.1" />
<path d="M343.6 206.1 L347.2 208.3 L343.6 210.5 Z" fill="#141414"/>
<text x="354.8" y="211.2" font-size="8.3" textLength="25.8" lengthAdjust="spacingAndGlyphs">BALB/c</text>
<clipPath id="cpC"><rect x="235.3" y="24.2" width="48.5" height="48.0"/></clipPath>
<rect x="235.3" y="24.2" width="48.5" height="48" fill="#fff" />
<g clip-path="url(#cpC)">
<circle cx="247.7" cy="43.58" r="0.5" fill="#8888e0" opacity="0.45"/>
<circle cx="247.97" cy="37.79" r="0.5" fill="#8888e0" opacity="0.45"/>
<circle cx="241.63" cy="38.51" r="0.5" fill="#8888e0" opacity="0.45"/>
<circle cx="260.01" cy="42.97" r="0.5" fill="#8888e0" opacity="0.45"/>
<circle cx="259.33" cy="41.74" r="0.5" fill="#8888e0" opacity="0.45"/>
<circle cx="253.55" cy="41.3" r="0.5" fill="#8888e0" opacity="0.45"/>
<circle cx="254.56" cy="43.49" r="0.5" fill="#8888e0" opacity="0.45"/>
<circle cx="241.99" cy="36.72" r="0.5" fill="#8888e0" opacity="0.45"/>
<circle cx="252.75" cy="39.68" r="0.5" fill="#8888e0" opacity="0.45"/>
<circle cx="254.69" cy="35.5" r="0.5" fill="#8888e0" opacity="0.45"/>
<circle cx="252.78" cy="42.76" r="0.5" fill="#8888e0" opacity="0.45"/>
<circle cx="244.05" cy="52.02" r="0.5" fill="#8888e0" opacity="0.45"/>
<circle cx="255.01" cy="48.38" r="0.5" fill="#8888e0" opacity="0.45"/>
<circle cx="244.42" cy="34.82" r="0.5" fill="#8888e0" opacity="0.45"/>
<circle cx="246.9" cy="39.26" r="0.5" fill="#8888e0" opacity="0.45"/>
<circle cx="255.69" cy="41.74" r="0.5" fill="#8888e0" opacity="0.45"/>
<circle cx="245.97" cy="33.3" r="0.5" fill="#8888e0" opacity="0.45"/>
<circle cx="245.31" cy="48.55" r="0.5" fill="#8888e0" opacity="0.45"/>
<circle cx="242.73" cy="41.71" r="0.5" fill="#8888e0" opacity="0.45"/>
<circle cx="253.84" cy="29.57" r="0.5" fill="#8888e0" opacity="0.45"/>
<circle cx="250.44" cy="49.14" r="0.5" fill="#8888e0" opacity="0.45"/>
<circle cx="249.04" cy="34.28" r="0.5" fill="#8888e0" opacity="0.45"/>
<circle cx="254.48" cy="39.56" r="0.5" fill="#8888e0" opacity="0.45"/>
<circle cx="236.82" cy="45.79" r="0.5" fill="#8888e0" opacity="0.45"/>
<circle cx="256.02" cy="46.62" r="0.5" fill="#8888e0" opacity="0.45"/>
<circle cx="262.97" cy="42.54" r="0.5" fill="#8888e0" opacity="0.45"/>
<circle cx="251.07" cy="30.91" r="0.5" fill="#8888e0" opacity="0.45"/>
<circle cx="255.54" cy="35.72" r="0.5" fill="#8888e0" opacity="0.45"/>
<circle cx="245.93" cy="31.15" r="0.5" fill="#8888e0" opacity="0.45"/>
<circle cx="241.29" cy="36.28" r="0.5" fill="#8888e0" opacity="0.45"/>
<circle cx="236.88" cy="41.68" r="0.5" fill="#8888e0" opacity="0.45"/>
<circle cx="262.99" cy="44.05" r="0.5" fill="#8888e0" opacity="0.45"/>
<circle cx="253.22" cy="34.85" r="0.5" fill="#8888e0" opacity="0.45"/>
<circle cx="239.92" cy="46.84" r="0.5" fill="#8888e0" opacity="0.45"/>
<circle cx="259.92" cy="41.1" r="0.5" fill="#8888e0" opacity="0.45"/>
<circle cx="252.21" cy="43.04" r="0.5" fill="#8888e0" opacity="0.45"/>
<circle cx="264.35" cy="44.33" r="0.5" fill="#8888e0" opacity="0.45"/>
<circle cx="254.67" cy="43.83" r="0.5" fill="#8888e0" opacity="0.45"/>
<circle cx="258.6" cy="43.71" r="0.5" fill="#8888e0" opacity="0.45"/>
<circle cx="248.34" cy="47.14" r="0.5" fill="#8888e0" opacity="0.45"/>
<circle cx="238.2" cy="51.27" r="0.5" fill="#8888e0" opacity="0.45"/>
<circle cx="254.97" cy="38.95" r="0.5" fill="#8888e0" opacity="0.45"/>
<circle cx="252.92" cy="44.55" r="0.5" fill="#8888e0" opacity="0.45"/>
<circle cx="251.08" cy="48.02" r="0.5" fill="#8888e0" opacity="0.45"/>
<circle cx="244.05" cy="37.1" r="0.5" fill="#8888e0" opacity="0.45"/>
<circle cx="259.38" cy="40.19" r="0.5" fill="#8888e0" opacity="0.45"/>
<circle cx="242.08" cy="46.63" r="0.5" fill="#8888e0" opacity="0.45"/>
<circle cx="263.19" cy="36.89" r="0.5" fill="#8888e0" opacity="0.45"/>
<circle cx="237.58" cy="39.06" r="0.5" fill="#8888e0" opacity="0.45"/>
<circle cx="248.66" cy="37.91" r="0.5" fill="#8888e0" opacity="0.45"/>
<circle cx="262.64" cy="32.81" r="0.5" fill="#8888e0" opacity="0.45"/>
<circle cx="261.35" cy="31.12" r="0.5" fill="#8888e0" opacity="0.45"/>
<circle cx="242.92" cy="44.42" r="0.5" fill="#8888e0" opacity="0.45"/>
<circle cx="260.16" cy="46.01" r="0.5" fill="#8888e0" opacity="0.45"/>
<circle cx="253.11" cy="41" r="0.5" fill="#8888e0" opacity="0.45"/>
<circle cx="251.37" cy="44.03" r="0.5" fill="#8888e0" opacity="0.45"/>
<circle cx="248.41" cy="41.94" r="0.5" fill="#8888e0" opacity="0.45"/>
<circle cx="255.15" cy="40.01" r="0.5" fill="#8888e0" opacity="0.45"/>
<circle cx="256.88" cy="43.96" r="0.5" fill="#8888e0" opacity="0.45"/>
<circle cx="246.15" cy="37.39" r="0.5" fill="#8888e0" opacity="0.45"/>
<circle cx="249.88" cy="46.47" r="0.5" fill="#8888e0" opacity="0.45"/>
<circle cx="246.97" cy="42.7" r="0.5" fill="#8888e0" opacity="0.45"/>
<circle cx="239.88" cy="41.71" r="0.5" fill="#8888e0" opacity="0.45"/>
<circle cx="253.59" cy="41.67" r="0.5" fill="#8888e0" opacity="0.45"/>
<circle cx="246.12" cy="44.59" r="0.5" fill="#8888e0" opacity="0.45"/>
<circle cx="252.54" cy="36.35" r="0.5" fill="#8888e0" opacity="0.45"/>
<circle cx="245.01" cy="39.3" r="0.5" fill="#8888e0" opacity="0.45"/>
<circle cx="247.97" cy="39.56" r="0.5" fill="#8888e0" opacity="0.45"/>
<circle cx="259.08" cy="31.82" r="0.5" fill="#8888e0" opacity="0.45"/>
<circle cx="249.4" cy="46.67" r="0.5" fill="#8888e0" opacity="0.45"/>
<circle cx="257.71" cy="50.44" r="0.5" fill="#8888e0" opacity="0.45"/>
<circle cx="246.93" cy="44.36" r="0.5" fill="#8888e0" opacity="0.45"/>
<circle cx="259.8" cy="29.87" r="0.5" fill="#8888e0" opacity="0.45"/>
<circle cx="256.15" cy="29.56" r="0.5" fill="#8888e0" opacity="0.45"/>
<circle cx="251.58" cy="48.36" r="0.5" fill="#8888e0" opacity="0.45"/>
<circle cx="248.66" cy="41.34" r="0.5" fill="#8888e0" opacity="0.45"/>
<circle cx="257.17" cy="40.99" r="0.5" fill="#8888e0" opacity="0.45"/>
<circle cx="249.2" cy="50.73" r="0.5" fill="#8888e0" opacity="0.45"/>
<circle cx="259.44" cy="37.94" r="0.5" fill="#8888e0" opacity="0.45"/>
<circle cx="258.23" cy="38.14" r="0.5" fill="#8888e0" opacity="0.45"/>
<circle cx="251.19" cy="44.94" r="0.5" fill="#8888e0" opacity="0.45"/>
<circle cx="252" cy="44.47" r="0.5" fill="#8888e0" opacity="0.45"/>
<circle cx="236.25" cy="29.43" r="0.5" fill="#8888e0" opacity="0.45"/>
<circle cx="255.53" cy="33.26" r="0.5" fill="#8888e0" opacity="0.45"/>
<circle cx="240.76" cy="29.71" r="0.5" fill="#8888e0" opacity="0.45"/>
<circle cx="261.4" cy="45.23" r="0.5" fill="#8888e0" opacity="0.45"/>
<circle cx="263.26" cy="33.44" r="0.5" fill="#8888e0" opacity="0.45"/>
<circle cx="250.01" cy="32.02" r="0.5" fill="#8888e0" opacity="0.45"/>
<circle cx="256.89" cy="51.13" r="0.5" fill="#8888e0" opacity="0.45"/>
<circle cx="241.99" cy="50.92" r="0.5" fill="#8888e0" opacity="0.45"/>
<circle cx="258.89" cy="38.76" r="0.5" fill="#8888e0" opacity="0.45"/>
<circle cx="249.13" cy="35.78" r="0.5" fill="#8888e0" opacity="0.45"/>
<circle cx="253.6" cy="42.87" r="0.5" fill="#8888e0" opacity="0.45"/>
<circle cx="263.48" cy="32.86" r="0.5" fill="#8888e0" opacity="0.45"/>
<circle cx="260.23" cy="50.41" r="0.5" fill="#8888e0" opacity="0.45"/>
<circle cx="263.07" cy="38.74" r="0.5" fill="#8888e0" opacity="0.45"/>
<circle cx="243.3" cy="47.13" r="0.5" fill="#8888e0" opacity="0.45"/>
<circle cx="251.04" cy="40.87" r="0.5" fill="#8888e0" opacity="0.45"/>
<circle cx="262.82" cy="38.16" r="0.5" fill="#8888e0" opacity="0.45"/>
<circle cx="252.85" cy="35.72" r="0.5" fill="#8888e0" opacity="0.45"/>
<circle cx="249.91" cy="45.83" r="0.5" fill="#8888e0" opacity="0.45"/>
<circle cx="250.71" cy="49.29" r="0.5" fill="#8888e0" opacity="0.45"/>
<circle cx="249.45" cy="47.28" r="0.5" fill="#8888e0" opacity="0.45"/>
<circle cx="263.42" cy="51.27" r="0.5" fill="#8888e0" opacity="0.45"/>
<circle cx="243.95" cy="46.16" r="0.5" fill="#8888e0" opacity="0.45"/>
<circle cx="238.91" cy="39.91" r="0.5" fill="#8888e0" opacity="0.45"/>
<circle cx="248.27" cy="39.8" r="0.5" fill="#8888e0" opacity="0.45"/>
<circle cx="244.68" cy="41.64" r="0.5" fill="#8888e0" opacity="0.45"/>
<circle cx="254.78" cy="47" r="0.5" fill="#8888e0" opacity="0.45"/>
<circle cx="248.22" cy="31.18" r="0.5" fill="#8888e0" opacity="0.45"/>
<circle cx="245" cy="47.52" r="0.5" fill="#8888e0" opacity="0.45"/>
<circle cx="259.07" cy="45.55" r="0.5" fill="#8888e0" opacity="0.45"/>
<circle cx="250.07" cy="45.64" r="0.5" fill="#8888e0" opacity="0.45"/>
<circle cx="251.49" cy="31.75" r="0.5" fill="#8888e0" opacity="0.45"/>
<circle cx="258.3" cy="36.04" r="0.5" fill="#8888e0" opacity="0.45"/>
<circle cx="241.88" cy="34.6" r="0.5" fill="#8888e0" opacity="0.45"/>
<circle cx="236.21" cy="39.18" r="0.5" fill="#8888e0" opacity="0.45"/>
<circle cx="239.38" cy="42.55" r="0.5" fill="#8888e0" opacity="0.45"/>
<circle cx="256.52" cy="38.07" r="0.5" fill="#8888e0" opacity="0.45"/>
<circle cx="252.62" cy="36.79" r="0.5" fill="#8888e0" opacity="0.45"/>
<circle cx="257.02" cy="45.23" r="0.5" fill="#8888e0" opacity="0.45"/>
<circle cx="256" cy="42.29" r="0.5" fill="#8888e0" opacity="0.45"/>
<circle cx="262" cy="44.62" r="0.5" fill="#8888e0" opacity="0.45"/>
<circle cx="258.07" cy="49.17" r="0.5" fill="#8888e0" opacity="0.45"/>
<circle cx="247.33" cy="36.71" r="0.5" fill="#8888e0" opacity="0.45"/>
<circle cx="254.22" cy="56.97" r="0.5" fill="#8888e0" opacity="0.45"/>
<circle cx="241.65" cy="44.83" r="0.5" fill="#8888e0" opacity="0.45"/>
<circle cx="255.05" cy="46.32" r="0.5" fill="#8888e0" opacity="0.45"/>
<circle cx="241.85" cy="39.38" r="0.5" fill="#8888e0" opacity="0.45"/>
<circle cx="252.64" cy="45.78" r="0.5" fill="#8888e0" opacity="0.45"/>
<circle cx="249.69" cy="38.63" r="0.5" fill="#8888e0" opacity="0.45"/>
<circle cx="240.86" cy="37.49" r="0.5" fill="#8888e0" opacity="0.45"/>
<circle cx="258.03" cy="40.71" r="0.5" fill="#8888e0" opacity="0.45"/>
<circle cx="242.32" cy="34.11" r="0.5" fill="#8888e0" opacity="0.45"/>
<circle cx="255.59" cy="43.36" r="0.5" fill="#8888e0" opacity="0.45"/>
<circle cx="265.16" cy="42.99" r="0.5" fill="#8888e0" opacity="0.45"/>
<circle cx="249.39" cy="43.66" r="0.5" fill="#8888e0" opacity="0.45"/>
<circle cx="252.92" cy="35.09" r="0.5" fill="#8888e0" opacity="0.45"/>
<circle cx="261.93" cy="52.67" r="0.5" fill="#8888e0" opacity="0.45"/>
<circle cx="237.38" cy="35.34" r="0.5" fill="#8888e0" opacity="0.45"/>
<circle cx="252.62" cy="41.28" r="0.5" fill="#8888e0" opacity="0.45"/>
<circle cx="246.41" cy="33.18" r="0.5" fill="#8888e0" opacity="0.45"/>
<circle cx="239.25" cy="30.58" r="0.5" fill="#8888e0" opacity="0.45"/>
<circle cx="265.33" cy="46.92" r="0.5" fill="#8888e0" opacity="0.45"/>
<circle cx="242.15" cy="41.82" r="0.5" fill="#8888e0" opacity="0.45"/>
<circle cx="249.47" cy="43.66" r="0.5" fill="#8888e0" opacity="0.45"/>
<circle cx="243.45" cy="39.13" r="0.5" fill="#8888e0" opacity="0.45"/>
<circle cx="254.13" cy="42.64" r="0.5" fill="#8888e0" opacity="0.45"/>
<circle cx="255.74" cy="41.46" r="0.5" fill="#8888e0" opacity="0.45"/>
<circle cx="247.08" cy="45.52" r="0.5" fill="#8888e0" opacity="0.45"/>
<circle cx="250.44" cy="34.22" r="0.5" fill="#8888e0" opacity="0.45"/>
<circle cx="244.37" cy="40" r="0.5" fill="#8888e0" opacity="0.45"/>
<circle cx="249.01" cy="41.1" r="0.5" fill="#8888e0" opacity="0.45"/>
<circle cx="250" cy="41.23" r="0.5" fill="#8888e0" opacity="0.45"/>
<circle cx="248.79" cy="31.19" r="0.5" fill="#8888e0" opacity="0.45"/>
<circle cx="253.79" cy="47.38" r="0.5" fill="#8888e0" opacity="0.45"/>
<circle cx="253.91" cy="38.68" r="0.5" fill="#8888e0" opacity="0.45"/>
<circle cx="254.02" cy="33.24" r="0.5" fill="#8888e0" opacity="0.45"/>
<circle cx="241.63" cy="45.18" r="0.5" fill="#8888e0" opacity="0.45"/>
<circle cx="240.64" cy="51.05" r="0.5" fill="#8888e0" opacity="0.45"/>
<circle cx="246.56" cy="30.41" r="0.5" fill="#8888e0" opacity="0.45"/>
<circle cx="243.13" cy="43.65" r="0.5" fill="#8888e0" opacity="0.45"/>
<circle cx="254.47" cy="41.24" r="0.5" fill="#8888e0" opacity="0.45"/>
<circle cx="263.35" cy="44.95" r="0.5" fill="#8888e0" opacity="0.45"/>
<circle cx="249.81" cy="44.18" r="0.5" fill="#8888e0" opacity="0.45"/>
<circle cx="264.89" cy="46.8" r="0.5" fill="#8888e0" opacity="0.45"/>
<circle cx="259.21" cy="32.42" r="0.5" fill="#8888e0" opacity="0.45"/>
<circle cx="248.66" cy="45.11" r="0.5" fill="#8888e0" opacity="0.45"/>
<circle cx="247.33" cy="47.48" r="0.5" fill="#8888e0" opacity="0.45"/>
<circle cx="255.37" cy="46.36" r="0.5" fill="#8888e0" opacity="0.45"/>
<circle cx="248.09" cy="57.82" r="0.5" fill="#8888e0" opacity="0.45"/>
<circle cx="261.16" cy="38.49" r="0.5" fill="#8888e0" opacity="0.45"/>
<circle cx="250.82" cy="58.17" r="0.5" fill="#8888e0" opacity="0.45"/>
<circle cx="246.91" cy="46.12" r="0.5" fill="#8888e0" opacity="0.45"/>
<circle cx="258.82" cy="40.05" r="0.5" fill="#8888e0" opacity="0.45"/>
<circle cx="239.5" cy="41.31" r="0.5" fill="#8888e0" opacity="0.45"/>
<circle cx="253.23" cy="47.91" r="0.5" fill="#8888e0" opacity="0.45"/>
<circle cx="257.05" cy="40.17" r="0.5" fill="#8888e0" opacity="0.45"/>
<circle cx="257.68" cy="43.78" r="0.5" fill="#8888e0" opacity="0.45"/>
<circle cx="251.85" cy="40.39" r="0.5" fill="#8888e0" opacity="0.45"/>
<circle cx="247.81" cy="44.8" r="0.5" fill="#8888e0" opacity="0.45"/>
<circle cx="240.51" cy="35.6" r="0.5" fill="#8888e0" opacity="0.45"/>
<circle cx="250.04" cy="29.75" r="0.5" fill="#8888e0" opacity="0.45"/>
<path d="M233 39.2 C234.17 38.97 237.5 38.33 240 37.8 C242.5 37.27 245.67 37.05 248 36 C250.33 34.95 252.25 32.47 254 31.5 C255.75 30.53 257.23 30.2 258.5 30.2 C259.77 30.2 261.02 29.12 261.6 31.5 C262.18 33.88 261.2 41.58 262 44.5 C262.8 47.42 265.67 46.92 266.4 49 C267.13 51.08 267.63 54.57 266.4 57 C265.17 59.43 264.57 62.43 259 63.6 C253.43 64.77 237.33 68.07 233 64 C228.67 59.93 233 43.33 233 39.2 Z" fill="#a8a8ee" filter="url(#b10)" opacity="0.55"/>
<path d="M233 40.8 C234.17 40.6 237.83 39.93 240 39.6 C242.17 39.27 244.33 39.23 246 38.8 C247.67 38.37 248.83 37.72 250 37 C251.17 36.28 252.08 35.23 253 34.5 C253.92 33.77 254.67 33.05 255.5 32.6 C256.33 32.15 257.25 31.8 258 31.8 C258.75 31.8 259.6 31.23 260 32.6 C260.4 33.97 260.3 37.8 260.4 40 C260.5 42.2 260.17 44.58 260.6 45.8 C261.03 47.02 262.27 46.38 263 47.3 C263.73 48.22 264.73 49.85 265 51.3 C265.27 52.75 265.03 54.75 264.6 56 C264.17 57.25 263.5 57.9 262.4 58.8 C261.3 59.7 259.23 60.75 258 61.4 C256.77 62.05 258 62.45 255 62.7 C252 62.95 243.67 62.87 240 62.9 C236.33 62.93 234.17 66.58 233 62.9 C231.83 59.22 233 44.48 233 40.8 Z" fill="#1212c8" filter="url(#b06)"/>
<path d="M233 42.8 C234.33 42.58 238.67 41.87 241 41.5 C243.33 41.13 245.33 41.05 247 40.6 C248.67 40.15 249.75 39.6 251 38.8 C252.25 38 253.37 36.53 254.5 35.8 C255.63 35.07 257.12 33.53 257.8 34.4 C258.48 35.27 258.43 38.82 258.6 41 C258.77 43.18 258.27 46.07 258.8 47.5 C259.33 48.93 261.07 48.68 261.8 49.6 C262.53 50.52 263.27 51.73 263.2 53 C263.13 54.27 262.52 56.03 261.4 57.2 C260.28 58.37 260.07 59.4 256.5 60 C252.93 60.6 243.92 60.67 240 60.8 C236.08 60.93 234.17 63.8 233 60.8 C231.83 57.8 233 45.8 233 42.8 Z" fill="#1a44f6" filter="url(#b06)"/>
<path d="M233 55.5 C233.83 55.33 236.33 55.17 238 54.5 C239.67 53.83 241.5 52.67 243 51.5 C244.5 50.33 245.67 48.92 247 47.5 C248.33 46.08 249.75 44.38 251 43 C252.25 41.62 253.47 40.1 254.5 39.2 C255.53 38.3 256.58 37.3 257.2 37.6 C257.82 37.9 258 38.93 258.2 41 C258.4 43.07 258.47 47.27 258.4 50 C258.33 52.73 258.45 55.7 257.8 57.4 C257.15 59.1 258.63 59.7 254.5 60.2 C250.37 60.7 236.58 61.18 233 60.4 C229.42 59.62 233 56.32 233 55.5 Z" fill="#18b4f2" filter="url(#b10)"/>
<path d="M242.6 60.4 C242.8 59.42 243.17 56.47 243.8 54.5 C244.43 52.53 245.33 50.42 246.4 48.6 C247.47 46.78 248.9 44.97 250.2 43.6 C251.5 42.23 253 41.07 254.2 40.4 C255.4 39.73 256.77 38.33 257.4 39.6 C258.03 40.87 257.97 45.1 258 48 C258.03 50.9 258.17 54.9 257.6 57 C257.03 59.1 257.1 60.03 254.6 60.6 C252.1 61.17 244.6 60.43 242.6 60.4 Z" fill="#3ce068" filter="url(#b10)"/>
<path d="M248.4 59.6 C248.47 58.5 248.43 54.97 248.8 53 C249.17 51.03 249.77 49.17 250.6 47.8 C251.43 46.43 252.77 45.17 253.8 44.8 C254.83 44.43 256.27 43.9 256.8 45.6 C257.33 47.3 257.23 52.63 257 55 C256.77 57.37 256.83 59.03 255.4 59.8 C253.97 60.57 249.57 59.63 248.4 59.6 Z" fill="#e6e820" filter="url(#b10)"/>
<ellipse cx="253.6" cy="52.8" rx="1.8" ry="3.6" fill="#f0a010" filter="url(#b06)"/>
<ellipse cx="263" cy="52.3" rx="1.3" ry="2.8" fill="#20c0f0" filter="url(#b06)"/>
</g>
<circle cx="272.36" cy="49.26" r="0.5" fill="#3c44d4" opacity="0.42"/>
<circle cx="278.11" cy="44.59" r="0.5" fill="#3c44d4" opacity="0.42"/>
<circle cx="274.43" cy="34.37" r="0.5" fill="#3c44d4" opacity="0.42"/>
<circle cx="280.53" cy="38.38" r="0.5" fill="#3c44d4" opacity="0.42"/>
<circle cx="274.65" cy="31.35" r="0.5" fill="#3c44d4" opacity="0.42"/>
<circle cx="279.09" cy="52.01" r="0.5" fill="#3c44d4" opacity="0.42"/>
<circle cx="278.4" cy="31.78" r="0.5" fill="#3c44d4" opacity="0.42"/>
<circle cx="272.61" cy="34.48" r="0.5" fill="#3c44d4" opacity="0.42"/>
<circle cx="275.65" cy="46.87" r="0.5" fill="#3c44d4" opacity="0.42"/>
<circle cx="278.42" cy="50.27" r="0.5" fill="#3c44d4" opacity="0.42"/>
<circle cx="282.41" cy="53.73" r="0.5" fill="#3c44d4" opacity="0.42"/>
<circle cx="269.47" cy="41.21" r="0.5" fill="#3c44d4" opacity="0.42"/>
<circle cx="270.62" cy="36.93" r="0.5" fill="#3c44d4" opacity="0.42"/>
<circle cx="275.13" cy="45.04" r="0.5" fill="#3c44d4" opacity="0.42"/>
<circle cx="277.76" cy="33.1" r="0.5" fill="#3c44d4" opacity="0.42"/>
<circle cx="269.81" cy="44.83" r="0.5" fill="#3c44d4" opacity="0.42"/>
<circle cx="274.58" cy="42.67" r="0.5" fill="#3c44d4" opacity="0.42"/>
<circle cx="275.21" cy="39.3" r="0.5" fill="#3c44d4" opacity="0.42"/>
<circle cx="278.73" cy="47.66" r="0.5" fill="#3c44d4" opacity="0.42"/>
<circle cx="275.1" cy="39.96" r="0.5" fill="#3c44d4" opacity="0.42"/>
<circle cx="270.99" cy="45.28" r="0.5" fill="#3c44d4" opacity="0.42"/>
<circle cx="268.58" cy="46.5" r="0.5" fill="#3c44d4" opacity="0.42"/>
<circle cx="276.18" cy="34.67" r="0.5" fill="#3c44d4" opacity="0.42"/>
<circle cx="274.35" cy="42.65" r="0.5" fill="#3c44d4" opacity="0.42"/>
<circle cx="277.62" cy="49.59" r="0.5" fill="#3c44d4" opacity="0.42"/>
<circle cx="275.33" cy="38.62" r="0.5" fill="#3c44d4" opacity="0.42"/>
<circle cx="274.84" cy="44.51" r="0.5" fill="#3c44d4" opacity="0.42"/>
<circle cx="278.88" cy="47.21" r="0.5" fill="#3c44d4" opacity="0.42"/>
<circle cx="272.18" cy="34.84" r="0.5" fill="#3c44d4" opacity="0.42"/>
<circle cx="273.78" cy="39.45" r="0.5" fill="#3c44d4" opacity="0.42"/>
<circle cx="270.39" cy="44.13" r="0.5" fill="#3c44d4" opacity="0.42"/>
<circle cx="273.24" cy="45.79" r="0.5" fill="#3c44d4" opacity="0.42"/>
<circle cx="277.91" cy="41.9" r="0.5" fill="#3c44d4" opacity="0.42"/>
<circle cx="280.57" cy="45.91" r="0.5" fill="#3c44d4" opacity="0.42"/>
<circle cx="272.04" cy="46.85" r="0.5" fill="#3c44d4" opacity="0.42"/>
<circle cx="278.27" cy="62.52" r="0.5" fill="#3c44d4" opacity="0.42"/>
<circle cx="276.98" cy="54.6" r="0.5" fill="#3c44d4" opacity="0.42"/>
<circle cx="279.03" cy="52.11" r="0.5" fill="#3c44d4" opacity="0.42"/>
<circle cx="277.85" cy="43.83" r="0.5" fill="#3c44d4" opacity="0.42"/>
<circle cx="277.84" cy="36.91" r="0.5" fill="#3c44d4" opacity="0.42"/>
<circle cx="280.93" cy="37.37" r="0.5" fill="#3c44d4" opacity="0.42"/>
<circle cx="276.65" cy="60.91" r="0.5" fill="#3c44d4" opacity="0.42"/>
<circle cx="274.47" cy="45.15" r="0.5" fill="#3c44d4" opacity="0.42"/>
<circle cx="280.85" cy="45.2" r="0.5" fill="#3c44d4" opacity="0.42"/>
<circle cx="271.78" cy="46.94" r="0.5" fill="#3c44d4" opacity="0.42"/>
<circle cx="278.18" cy="50.33" r="0.5" fill="#3c44d4" opacity="0.42"/>
<circle cx="271.95" cy="58.14" r="0.5" fill="#3c44d4" opacity="0.42"/>
<circle cx="283.17" cy="45.14" r="0.5" fill="#3c44d4" opacity="0.42"/>
<circle cx="276.74" cy="41.79" r="0.5" fill="#3c44d4" opacity="0.42"/>
<circle cx="282" cy="39.71" r="0.5" fill="#3c44d4" opacity="0.42"/>
<circle cx="278.6" cy="41.4" r="0.5" fill="#3c44d4" opacity="0.42"/>
<circle cx="272.31" cy="50.39" r="0.5" fill="#3c44d4" opacity="0.42"/>
<circle cx="281.64" cy="44.92" r="0.5" fill="#3c44d4" opacity="0.42"/>
<circle cx="272.38" cy="51.09" r="0.5" fill="#3c44d4" opacity="0.42"/>
<circle cx="275.27" cy="47.33" r="0.5" fill="#3c44d4" opacity="0.42"/>
<circle cx="282.51" cy="53.49" r="0.5" fill="#3c44d4" opacity="0.42"/>
<circle cx="273.11" cy="62.13" r="0.5" fill="#3c44d4" opacity="0.42"/>
<circle cx="275.52" cy="50.89" r="0.5" fill="#3c44d4" opacity="0.42"/>
<circle cx="272.52" cy="44.67" r="0.5" fill="#3c44d4" opacity="0.42"/>
<circle cx="281.78" cy="35.89" r="0.5" fill="#3c44d4" opacity="0.42"/>
<circle cx="268.58" cy="32.84" r="0.5" fill="#3c44d4" opacity="0.42"/>
<circle cx="280.91" cy="41.55" r="0.5" fill="#3c44d4" opacity="0.42"/>
<circle cx="275.22" cy="42.65" r="0.5" fill="#3c44d4" opacity="0.42"/>
<circle cx="274.94" cy="36.84" r="0.5" fill="#3c44d4" opacity="0.42"/>
<circle cx="275.61" cy="34.22" r="0.5" fill="#3c44d4" opacity="0.42"/>
<circle cx="275.17" cy="47.32" r="0.5" fill="#3c44d4" opacity="0.42"/>
<circle cx="277.65" cy="43.26" r="0.5" fill="#3c44d4" opacity="0.42"/>
<circle cx="271.34" cy="46.2" r="0.5" fill="#3c44d4" opacity="0.42"/>
<circle cx="273.27" cy="56.74" r="0.5" fill="#3c44d4" opacity="0.42"/>
<circle cx="279.03" cy="44.14" r="0.5" fill="#3c44d4" opacity="0.42"/>
<circle cx="273.33" cy="39.73" r="0.5" fill="#3c44d4" opacity="0.42"/>
<circle cx="271.19" cy="42.35" r="0.5" fill="#3c44d4" opacity="0.42"/>
<circle cx="276.86" cy="48.87" r="0.5" fill="#3c44d4" opacity="0.42"/>
<circle cx="278.12" cy="60.74" r="0.5" fill="#3c44d4" opacity="0.42"/>
<circle cx="272.26" cy="45.1" r="0.5" fill="#3c44d4" opacity="0.42"/>
<circle cx="273.1" cy="46.27" r="0.5" fill="#3c44d4" opacity="0.42"/>
<circle cx="276.21" cy="48.06" r="0.5" fill="#3c44d4" opacity="0.42"/>
<circle cx="274.4" cy="47.75" r="0.5" fill="#3c44d4" opacity="0.42"/>
<circle cx="275.74" cy="50.79" r="0.5" fill="#3c44d4" opacity="0.42"/>
<circle cx="275.49" cy="37.26" r="0.5" fill="#3c44d4" opacity="0.42"/>
<circle cx="270.69" cy="49.71" r="0.5" fill="#3c44d4" opacity="0.42"/>
<circle cx="272.51" cy="49.76" r="0.5" fill="#3c44d4" opacity="0.42"/>
<circle cx="278.93" cy="47.3" r="0.5" fill="#3c44d4" opacity="0.42"/>
<circle cx="277.84" cy="44.22" r="0.5" fill="#3c44d4" opacity="0.42"/>
<circle cx="269.02" cy="44.77" r="0.5" fill="#3c44d4" opacity="0.42"/>
<circle cx="277.59" cy="41.03" r="0.5" fill="#3c44d4" opacity="0.42"/>
<circle cx="275.04" cy="50.62" r="0.5" fill="#3c44d4" opacity="0.42"/>
<circle cx="271.46" cy="49.8" r="0.5" fill="#3c44d4" opacity="0.42"/>
<circle cx="276.17" cy="43.87" r="0.5" fill="#3c44d4" opacity="0.42"/>
<circle cx="282.59" cy="47.37" r="0.5" fill="#3c44d4" opacity="0.42"/>
<circle cx="279.63" cy="39.82" r="0.5" fill="#3c44d4" opacity="0.42"/>
<circle cx="275.43" cy="44.93" r="0.5" fill="#3c44d4" opacity="0.42"/>
<circle cx="279.64" cy="31.88" r="0.5" fill="#3c44d4" opacity="0.42"/>
<circle cx="278.92" cy="44.02" r="0.5" fill="#3c44d4" opacity="0.42"/>
<circle cx="277.56" cy="47.75" r="0.5" fill="#3c44d4" opacity="0.42"/>
<circle cx="268.6" cy="43.41" r="0.5" fill="#3c44d4" opacity="0.42"/>
<circle cx="282.37" cy="40.69" r="0.5" fill="#3c44d4" opacity="0.42"/>
<circle cx="270.79" cy="34.8" r="0.5" fill="#3c44d4" opacity="0.42"/>
<circle cx="269.88" cy="47.52" r="0.5" fill="#3c44d4" opacity="0.42"/>
<circle cx="283.29" cy="48.22" r="0.5" fill="#3c44d4" opacity="0.42"/>
<circle cx="276.63" cy="61.75" r="0.5" fill="#3c44d4" opacity="0.42"/>
<circle cx="273.11" cy="39.94" r="0.5" fill="#3c44d4" opacity="0.42"/>
<circle cx="277.93" cy="49.11" r="0.5" fill="#3c44d4" opacity="0.42"/>
<circle cx="270.83" cy="36.23" r="0.5" fill="#3c44d4" opacity="0.42"/>
<circle cx="276.84" cy="46.86" r="0.5" fill="#3c44d4" opacity="0.42"/>
<circle cx="269.49" cy="43.48" r="0.5" fill="#3c44d4" opacity="0.42"/>
<circle cx="273" cy="48.45" r="0.5" fill="#3c44d4" opacity="0.42"/>
<circle cx="274.96" cy="44.35" r="0.5" fill="#3c44d4" opacity="0.42"/>
<circle cx="273.87" cy="52.9" r="0.5" fill="#3c44d4" opacity="0.42"/>
<circle cx="281.9" cy="42.25" r="0.5" fill="#3c44d4" opacity="0.42"/>
<circle cx="279.39" cy="39.32" r="0.5" fill="#3c44d4" opacity="0.42"/>
<circle cx="275.83" cy="50.62" r="0.5" fill="#3c44d4" opacity="0.42"/>
<circle cx="282.47" cy="42.13" r="0.5" fill="#3c44d4" opacity="0.42"/>
<circle cx="275.16" cy="46.47" r="0.5" fill="#3c44d4" opacity="0.42"/>
<circle cx="268.61" cy="45.12" r="0.5" fill="#3c44d4" opacity="0.42"/>
<circle cx="272.39" cy="47.79" r="0.5" fill="#3c44d4" opacity="0.42"/>
<circle cx="270.3" cy="30.17" r="0.5" fill="#3c44d4" opacity="0.42"/>
<circle cx="275.68" cy="46.95" r="0.5" fill="#3c44d4" opacity="0.42"/>
<circle cx="272.97" cy="51.67" r="0.5" fill="#3c44d4" opacity="0.42"/>
<circle cx="274.24" cy="40.46" r="0.5" fill="#3c44d4" opacity="0.42"/>
<circle cx="277.7" cy="33.24" r="0.5" fill="#3c44d4" opacity="0.42"/>
<circle cx="272.38" cy="44.84" r="0.5" fill="#3c44d4" opacity="0.42"/>
<circle cx="279.4" cy="43.78" r="0.5" fill="#3c44d4" opacity="0.42"/>
<circle cx="276.92" cy="40.08" r="0.5" fill="#3c44d4" opacity="0.42"/>
<circle cx="276.89" cy="57.48" r="0.5" fill="#3c44d4" opacity="0.42"/>
<circle cx="272.34" cy="62.75" r="0.5" fill="#3c44d4" opacity="0.42"/>
<circle cx="272.54" cy="45.13" r="0.5" fill="#3c44d4" opacity="0.42"/>
<circle cx="276.3" cy="52.68" r="0.5" fill="#3c44d4" opacity="0.42"/>
<circle cx="278.29" cy="50.97" r="0.5" fill="#3c44d4" opacity="0.42"/>
<circle cx="276.44" cy="46.9" r="0.5" fill="#3c44d4" opacity="0.42"/>
<circle cx="279.77" cy="47.77" r="0.5" fill="#3c44d4" opacity="0.42"/>
<circle cx="283.15" cy="35.71" r="0.5" fill="#3c44d4" opacity="0.42"/>
<circle cx="279.24" cy="42.21" r="0.5" fill="#3c44d4" opacity="0.42"/>
<circle cx="279.75" cy="61.16" r="0.5" fill="#3c44d4" opacity="0.42"/>
<circle cx="275.47" cy="43.09" r="0.5" fill="#3c44d4" opacity="0.42"/>
<circle cx="273.2" cy="38.72" r="0.5" fill="#3c44d4" opacity="0.42"/>
<circle cx="272.6" cy="49.79" r="0.5" fill="#3c44d4" opacity="0.42"/>
<circle cx="275.67" cy="45.5" r="0.5" fill="#3c44d4" opacity="0.42"/>
<circle cx="274.7" cy="51.86" r="0.5" fill="#3c44d4" opacity="0.42"/>
<circle cx="277.77" cy="43.94" r="0.5" fill="#3c44d4" opacity="0.42"/>
<circle cx="278.56" cy="43.86" r="0.5" fill="#3c44d4" opacity="0.42"/>
<circle cx="270.2" cy="55.91" r="0.5" fill="#3c44d4" opacity="0.42"/>
<circle cx="277.64" cy="37.82" r="0.5" fill="#3c44d4" opacity="0.42"/>
<circle cx="280.46" cy="47.59" r="0.5" fill="#3c44d4" opacity="0.42"/>
<circle cx="268.3" cy="57.07" r="0.5" fill="#3c44d4" opacity="0.42"/>
<circle cx="277.03" cy="51.69" r="0.5" fill="#3c44d4" opacity="0.42"/>
<circle cx="276.41" cy="43.88" r="0.5" fill="#3c44d4" opacity="0.42"/>
<circle cx="268.38" cy="52.29" r="0.5" fill="#3c44d4" opacity="0.42"/>
<circle cx="275.64" cy="42.85" r="0.5" fill="#3c44d4" opacity="0.42"/>
<circle cx="277.11" cy="45.59" r="0.5" fill="#3c44d4" opacity="0.42"/>
<circle cx="278.61" cy="42.22" r="0.5" fill="#3c44d4" opacity="0.42"/>
<circle cx="273.55" cy="50.07" r="0.5" fill="#3c44d4" opacity="0.42"/>
<circle cx="281.65" cy="42.27" r="0.5" fill="#3c44d4" opacity="0.42"/>
<circle cx="274.94" cy="56.88" r="0.5" fill="#3c44d4" opacity="0.42"/>
<circle cx="274" cy="50.51" r="0.5" fill="#3c44d4" opacity="0.42"/>
<circle cx="283.22" cy="45.3" r="0.5" fill="#3c44d4" opacity="0.42"/>
<circle cx="281.14" cy="39.67" r="0.5" fill="#3c44d4" opacity="0.42"/>
<circle cx="276.46" cy="44.42" r="0.5" fill="#3c44d4" opacity="0.42"/>
<circle cx="276.03" cy="53.47" r="0.5" fill="#3c44d4" opacity="0.42"/>
<circle cx="272.85" cy="48.73" r="0.5" fill="#3c44d4" opacity="0.42"/>
<circle cx="270.65" cy="48.73" r="0.5" fill="#3c44d4" opacity="0.42"/>
<circle cx="278.13" cy="42.92" r="0.5" fill="#3c44d4" opacity="0.42"/>
<circle cx="277.94" cy="33.38" r="0.5" fill="#3c44d4" opacity="0.42"/>
<circle cx="279" cy="33.41" r="0.5" fill="#3c44d4" opacity="0.42"/>
<circle cx="272.3" cy="40.83" r="0.5" fill="#3c44d4" opacity="0.42"/>
<circle cx="273.65" cy="51.44" r="0.5" fill="#3c44d4" opacity="0.42"/>
<circle cx="275.88" cy="42.02" r="0.5" fill="#3c44d4" opacity="0.42"/>
<circle cx="278" cy="56.86" r="0.5" fill="#3c44d4" opacity="0.42"/>
<circle cx="275.53" cy="47.74" r="0.5" fill="#3c44d4" opacity="0.42"/>
<circle cx="281.2" cy="47.01" r="0.5" fill="#3c44d4" opacity="0.42"/>
<circle cx="275.32" cy="48.13" r="0.5" fill="#3c44d4" opacity="0.42"/>
<circle cx="279.94" cy="50.02" r="0.5" fill="#3c44d4" opacity="0.42"/>
<circle cx="274.25" cy="37.1" r="0.5" fill="#3c44d4" opacity="0.42"/>
<circle cx="275.97" cy="52.75" r="0.5" fill="#3c44d4" opacity="0.42"/>
<circle cx="270.49" cy="37.3" r="0.5" fill="#3c44d4" opacity="0.42"/>
<circle cx="275.39" cy="30.47" r="0.5" fill="#3c44d4" opacity="0.42"/>
<circle cx="274.3" cy="41.73" r="0.5" fill="#3c44d4" opacity="0.42"/>
<circle cx="277.57" cy="39.74" r="0.5" fill="#3c44d4" opacity="0.42"/>
<circle cx="271.44" cy="42.04" r="0.5" fill="#3c44d4" opacity="0.42"/>
<circle cx="275.27" cy="40.02" r="0.5" fill="#3c44d4" opacity="0.42"/>
<circle cx="275.56" cy="50.63" r="0.5" fill="#3c44d4" opacity="0.42"/>
<circle cx="280.95" cy="57.79" r="0.5" fill="#3c44d4" opacity="0.42"/>
<circle cx="271.9" cy="41.85" r="0.5" fill="#3c44d4" opacity="0.42"/>
<circle cx="272.17" cy="44.75" r="0.5" fill="#3c44d4" opacity="0.42"/>
<circle cx="277.9" cy="34.81" r="0.5" fill="#3c44d4" opacity="0.42"/>
<circle cx="277.63" cy="44.8" r="0.5" fill="#3c44d4" opacity="0.42"/>
<circle cx="280.99" cy="30.99" r="0.5" fill="#3c44d4" opacity="0.42"/>
<circle cx="279.21" cy="46.57" r="0.5" fill="#3c44d4" opacity="0.42"/>
<circle cx="277.68" cy="48.31" r="0.5" fill="#3c44d4" opacity="0.42"/>
<circle cx="281.5" cy="43.32" r="0.5" fill="#3c44d4" opacity="0.42"/>
<circle cx="279.52" cy="41.93" r="0.5" fill="#3c44d4" opacity="0.42"/>
<circle cx="278.85" cy="38.9" r="0.5" fill="#3c44d4" opacity="0.42"/>
<circle cx="275" cy="57.98" r="0.5" fill="#3c44d4" opacity="0.42"/>
<circle cx="277.55" cy="43.81" r="0.5" fill="#3c44d4" opacity="0.42"/>
<circle cx="270.23" cy="39.07" r="0.5" fill="#3c44d4" opacity="0.42"/>
<circle cx="276.39" cy="52.05" r="0.5" fill="#3c44d4" opacity="0.42"/>
<circle cx="277.46" cy="48.93" r="0.5" fill="#3c44d4" opacity="0.42"/>
<circle cx="275.31" cy="55.14" r="0.5" fill="#3c44d4" opacity="0.42"/>
<circle cx="273.7" cy="40.88" r="0.5" fill="#3c44d4" opacity="0.42"/>
<circle cx="279.59" cy="45.48" r="0.5" fill="#3c44d4" opacity="0.42"/>
<circle cx="274.22" cy="40.68" r="0.5" fill="#3c44d4" opacity="0.42"/>
<circle cx="274.32" cy="49.68" r="0.5" fill="#3c44d4" opacity="0.42"/>
<circle cx="277.13" cy="35.93" r="0.5" fill="#3c44d4" opacity="0.42"/>
<circle cx="277.46" cy="46.34" r="0.5" fill="#3c44d4" opacity="0.42"/>
<circle cx="270.9" cy="50.8" r="0.5" fill="#3c44d4" opacity="0.42"/>
<circle cx="274.21" cy="42.48" r="0.5" fill="#3c44d4" opacity="0.42"/>
<circle cx="279.16" cy="54.91" r="0.5" fill="#3c44d4" opacity="0.42"/>
<circle cx="272.33" cy="48.29" r="0.5" fill="#3c44d4" opacity="0.42"/>
<circle cx="271.47" cy="62.36" r="0.5" fill="#3c44d4" opacity="0.42"/>
<circle cx="273.23" cy="53.96" r="0.5" fill="#3c44d4" opacity="0.42"/>
<circle cx="272.52" cy="51.08" r="0.5" fill="#3c44d4" opacity="0.42"/>
<circle cx="273.5" cy="48.75" r="0.5" fill="#3c44d4" opacity="0.42"/>
<circle cx="275.07" cy="39.99" r="0.5" fill="#3c44d4" opacity="0.42"/>
<circle cx="267.94" cy="51.41" r="0.5" fill="#3c44d4" opacity="0.42"/>
<circle cx="267.58" cy="53.63" r="0.5" fill="#3c44d4" opacity="0.42"/>
<circle cx="272.84" cy="46.09" r="0.5" fill="#3c44d4" opacity="0.42"/>
<circle cx="281.3" cy="45.88" r="0.5" fill="#3c44d4" opacity="0.42"/>
<circle cx="269.1" cy="32.28" r="0.5" fill="#3c44d4" opacity="0.42"/>
<circle cx="280.94" cy="50.55" r="0.5" fill="#3c44d4" opacity="0.42"/>
<circle cx="271.75" cy="51.45" r="0.5" fill="#3c44d4" opacity="0.42"/>
<circle cx="277.78" cy="49.86" r="0.5" fill="#3c44d4" opacity="0.42"/>
<circle cx="279.64" cy="50.5" r="0.5" fill="#3c44d4" opacity="0.42"/>
<circle cx="276.28" cy="48.69" r="0.5" fill="#3c44d4" opacity="0.42"/>
<circle cx="273.99" cy="45.27" r="0.5" fill="#3c44d4" opacity="0.42"/>
<circle cx="279.58" cy="41.68" r="0.5" fill="#3c44d4" opacity="0.42"/>
<circle cx="280.78" cy="39.09" r="0.5" fill="#3c44d4" opacity="0.42"/>
<circle cx="276.73" cy="41.04" r="0.5" fill="#3c44d4" opacity="0.42"/>
<circle cx="276.23" cy="39.82" r="0.5" fill="#3c44d4" opacity="0.42"/>
<circle cx="268.15" cy="53.2" r="0.5" fill="#3c44d4" opacity="0.42"/>
<circle cx="276.9" cy="40.81" r="0.5" fill="#3c44d4" opacity="0.42"/>
<circle cx="276.42" cy="52.43" r="0.5" fill="#3c44d4" opacity="0.42"/>
<circle cx="271" cy="44.17" r="0.5" fill="#3c44d4" opacity="0.42"/>
<circle cx="277.98" cy="48.95" r="0.5" fill="#3c44d4" opacity="0.42"/>
<circle cx="281.22" cy="47.46" r="0.5" fill="#3c44d4" opacity="0.42"/>
<circle cx="275.56" cy="42.91" r="0.5" fill="#3c44d4" opacity="0.42"/>
<circle cx="276.71" cy="41.81" r="0.5" fill="#3c44d4" opacity="0.42"/>
<circle cx="270.79" cy="39.45" r="0.5" fill="#3c44d4" opacity="0.42"/>
<circle cx="272.75" cy="40.41" r="0.5" fill="#3c44d4" opacity="0.42"/>
<circle cx="270.17" cy="49.77" r="0.5" fill="#3c44d4" opacity="0.42"/>
<circle cx="269.47" cy="49.95" r="0.5" fill="#3c44d4" opacity="0.42"/>
<circle cx="270.83" cy="47.64" r="0.5" fill="#3c44d4" opacity="0.42"/>
<circle cx="281.82" cy="46.52" r="0.5" fill="#3c44d4" opacity="0.42"/>
<circle cx="272.14" cy="45.36" r="0.5" fill="#3c44d4" opacity="0.42"/>
<circle cx="276.18" cy="32" r="0.5" fill="#3c44d4" opacity="0.42"/>
<circle cx="272.7" cy="46.22" r="0.5" fill="#3c44d4" opacity="0.42"/>
<circle cx="273.34" cy="45.6" r="0.5" fill="#3c44d4" opacity="0.42"/>
<circle cx="278.88" cy="50.75" r="0.5" fill="#3c44d4" opacity="0.42"/>
<circle cx="279.67" cy="49.41" r="0.5" fill="#3c44d4" opacity="0.42"/>
<circle cx="274.18" cy="44.86" r="0.5" fill="#3c44d4" opacity="0.42"/>
<circle cx="274.25" cy="42.65" r="0.5" fill="#3c44d4" opacity="0.42"/>
<circle cx="274.67" cy="32.06" r="0.5" fill="#3c44d4" opacity="0.42"/>
<circle cx="273.97" cy="44.82" r="0.5" fill="#3c44d4" opacity="0.42"/>
<circle cx="271.02" cy="44.82" r="0.5" fill="#3c44d4" opacity="0.42"/>
<circle cx="277.87" cy="43.77" r="0.5" fill="#3c44d4" opacity="0.42"/>
<circle cx="274.55" cy="31.31" r="0.5" fill="#3c44d4" opacity="0.42"/>
<circle cx="277.89" cy="42.73" r="0.5" fill="#3c44d4" opacity="0.42"/>
<circle cx="279.42" cy="47.79" r="0.5" fill="#3c44d4" opacity="0.42"/>
<circle cx="275.61" cy="40.59" r="0.5" fill="#3c44d4" opacity="0.42"/>
<circle cx="278.44" cy="41.36" r="0.5" fill="#3c44d4" opacity="0.42"/>
<circle cx="276.53" cy="41.17" r="0.5" fill="#3c44d4" opacity="0.42"/>
<circle cx="276.43" cy="50.66" r="0.5" fill="#3c44d4" opacity="0.42"/>
<circle cx="271.47" cy="44.75" r="0.5" fill="#3c44d4" opacity="0.42"/>
<circle cx="278.34" cy="46.09" r="0.5" fill="#3c44d4" opacity="0.42"/>
<circle cx="281.22" cy="59.94" r="0.5" fill="#3c44d4" opacity="0.42"/>
<circle cx="271.32" cy="30.59" r="0.5" fill="#3c44d4" opacity="0.42"/>
<circle cx="279.44" cy="56.47" r="0.5" fill="#3c44d4" opacity="0.42"/>
<circle cx="279.74" cy="51.1" r="0.5" fill="#3c44d4" opacity="0.42"/>
<circle cx="272.65" cy="39.65" r="0.5" fill="#3c44d4" opacity="0.42"/>
<circle cx="279.59" cy="38.16" r="0.5" fill="#3c44d4" opacity="0.42"/>
<circle cx="272.34" cy="39.53" r="0.5" fill="#3c44d4" opacity="0.42"/>
<circle cx="276.56" cy="39.38" r="0.5" fill="#3c44d4" opacity="0.42"/>
<circle cx="281.53" cy="44.41" r="0.5" fill="#3c44d4" opacity="0.42"/>
<circle cx="270.5" cy="54.82" r="0.5" fill="#3c44d4" opacity="0.42"/>
<circle cx="272.82" cy="46.66" r="0.5" fill="#3c44d4" opacity="0.42"/>
<circle cx="275.44" cy="42.64" r="0.5" fill="#3c44d4" opacity="0.42"/>
<circle cx="276.99" cy="39.81" r="0.5" fill="#3c44d4" opacity="0.42"/>
<circle cx="269.67" cy="39.31" r="0.5" fill="#3c44d4" opacity="0.42"/>
<circle cx="275.39" cy="45.41" r="0.5" fill="#3c44d4" opacity="0.42"/>
<circle cx="278.06" cy="45.9" r="0.5" fill="#3c44d4" opacity="0.42"/>
<circle cx="271.85" cy="39.68" r="0.5" fill="#3c44d4" opacity="0.42"/>
<circle cx="277.73" cy="48.97" r="0.5" fill="#3c44d4" opacity="0.42"/>
<circle cx="274.94" cy="43.69" r="0.5" fill="#3c44d4" opacity="0.42"/>
<circle cx="279.81" cy="45.12" r="0.5" fill="#3c44d4" opacity="0.42"/>
<circle cx="278.89" cy="49.37" r="0.5" fill="#3c44d4" opacity="0.42"/>
<circle cx="276.48" cy="54.8" r="0.5" fill="#3c44d4" opacity="0.42"/>
<circle cx="272.87" cy="42.31" r="0.5" fill="#3c44d4" opacity="0.42"/>
<circle cx="271.78" cy="39.02" r="0.5" fill="#3c44d4" opacity="0.42"/>
<circle cx="282.66" cy="58.19" r="0.5" fill="#3c44d4" opacity="0.42"/>
<circle cx="275.61" cy="49.26" r="0.5" fill="#3c44d4" opacity="0.42"/>
<circle cx="280.91" cy="51.06" r="0.5" fill="#3c44d4" opacity="0.42"/>
<circle cx="281.04" cy="35.53" r="0.5" fill="#3c44d4" opacity="0.42"/>
<circle cx="272.56" cy="48.39" r="0.5" fill="#3c44d4" opacity="0.42"/>
<circle cx="282.1" cy="45.78" r="0.5" fill="#3c44d4" opacity="0.42"/>
<circle cx="271.55" cy="42.34" r="0.5" fill="#3c44d4" opacity="0.42"/>
<circle cx="272.46" cy="38.56" r="0.5" fill="#3c44d4" opacity="0.42"/>
<circle cx="282.41" cy="40.31" r="0.5" fill="#3c44d4" opacity="0.42"/>
<circle cx="275.59" cy="61.22" r="0.5" fill="#3c44d4" opacity="0.42"/>
<circle cx="280.95" cy="47.52" r="0.5" fill="#3c44d4" opacity="0.42"/>
<circle cx="272.69" cy="48.08" r="0.5" fill="#3c44d4" opacity="0.42"/>
<circle cx="282.96" cy="49.67" r="0.5" fill="#3c44d4" opacity="0.42"/>
<circle cx="281.3" cy="45.74" r="0.5" fill="#3c44d4" opacity="0.42"/>
<circle cx="277.87" cy="43.49" r="0.5" fill="#3c44d4" opacity="0.42"/>
<circle cx="277.46" cy="54.75" r="0.5" fill="#3c44d4" opacity="0.42"/>
<circle cx="268.92" cy="44.53" r="0.5" fill="#3c44d4" opacity="0.42"/>
<circle cx="276.61" cy="40.72" r="0.5" fill="#3c44d4" opacity="0.42"/>
<circle cx="274.08" cy="50.9" r="0.5" fill="#3c44d4" opacity="0.42"/>
<circle cx="277" cy="33.36" r="0.5" fill="#3c44d4" opacity="0.42"/>
<circle cx="275.34" cy="36.61" r="0.5" fill="#3c44d4" opacity="0.42"/>
<circle cx="275.24" cy="36.78" r="0.5" fill="#3c44d4" opacity="0.42"/>
<circle cx="275.83" cy="48.5" r="0.5" fill="#3c44d4" opacity="0.42"/>
<circle cx="275.64" cy="47.1" r="0.5" fill="#3c44d4" opacity="0.42"/>
<circle cx="271.58" cy="55.72" r="0.5" fill="#3c44d4" opacity="0.42"/>
<circle cx="272.5" cy="31.36" r="0.5" fill="#3c44d4" opacity="0.42"/>
<circle cx="274.64" cy="39.27" r="0.5" fill="#3c44d4" opacity="0.42"/>
<circle cx="270.86" cy="42.34" r="0.5" fill="#3c44d4" opacity="0.42"/>
<circle cx="276.84" cy="36.14" r="0.5" fill="#3c44d4" opacity="0.42"/>
<circle cx="274.87" cy="55.7" r="0.5" fill="#3c44d4" opacity="0.42"/>
<circle cx="278.64" cy="43.86" r="0.5" fill="#3c44d4" opacity="0.42"/>
<circle cx="276.09" cy="44.1" r="0.5" fill="#3c44d4" opacity="0.42"/>
<circle cx="275.28" cy="50.49" r="0.5" fill="#3c44d4" opacity="0.42"/>
<circle cx="275.4" cy="38.33" r="0.5" fill="#3c44d4" opacity="0.42"/>
<circle cx="278.5" cy="40.42" r="0.5" fill="#3c44d4" opacity="0.42"/>
<circle cx="276.18" cy="61.33" r="0.5" fill="#3c44d4" opacity="0.42"/>
<circle cx="270.68" cy="36.57" r="0.5" fill="#3c44d4" opacity="0.42"/>
<circle cx="272.56" cy="30.99" r="0.5" fill="#3c44d4" opacity="0.42"/>
<circle cx="268.68" cy="49.63" r="0.5" fill="#3c44d4" opacity="0.42"/>
<circle cx="271.93" cy="42.25" r="0.5" fill="#3c44d4" opacity="0.42"/>
<circle cx="277.02" cy="55.17" r="0.5" fill="#3c44d4" opacity="0.42"/>
<circle cx="276.16" cy="46.38" r="0.5" fill="#3c44d4" opacity="0.42"/>
<circle cx="274.07" cy="48.43" r="0.5" fill="#3c44d4" opacity="0.42"/>
<circle cx="276.82" cy="45.39" r="0.5" fill="#3c44d4" opacity="0.42"/>
<circle cx="273.2" cy="35.05" r="0.5" fill="#3c44d4" opacity="0.42"/>
<circle cx="273.04" cy="33.42" r="0.5" fill="#3c44d4" opacity="0.42"/>
<circle cx="281.13" cy="49.02" r="0.5" fill="#3c44d4" opacity="0.42"/>
<circle cx="269.95" cy="55.47" r="0.5" fill="#3c44d4" opacity="0.42"/>
<circle cx="279.6" cy="30.69" r="0.5" fill="#3c44d4" opacity="0.42"/>
<circle cx="277.94" cy="48.17" r="0.5" fill="#3c44d4" opacity="0.42"/>
<circle cx="276.43" cy="46.28" r="0.5" fill="#3c44d4" opacity="0.42"/>
<circle cx="280.35" cy="33.79" r="0.5" fill="#3c44d4" opacity="0.42"/>
<circle cx="269.79" cy="34.54" r="0.5" fill="#3c44d4" opacity="0.42"/>
<circle cx="272.93" cy="40.46" r="0.5" fill="#3c44d4" opacity="0.42"/>
<circle cx="277.19" cy="47" r="0.5" fill="#3c44d4" opacity="0.42"/>
<circle cx="275.64" cy="39.93" r="0.5" fill="#3c44d4" opacity="0.42"/>
<circle cx="273.47" cy="52.14" r="0.5" fill="#3c44d4" opacity="0.42"/>
<circle cx="279.01" cy="45.76" r="0.5" fill="#3c44d4" opacity="0.42"/>
<circle cx="274.02" cy="56.65" r="0.5" fill="#3c44d4" opacity="0.42"/>
<circle cx="272.77" cy="49.86" r="0.5" fill="#3c44d4" opacity="0.42"/>
<circle cx="280.81" cy="43.01" r="0.5" fill="#3c44d4" opacity="0.42"/>
<circle cx="279.3" cy="36.63" r="0.5" fill="#3c44d4" opacity="0.42"/>
<circle cx="280.16" cy="46.5" r="0.5" fill="#3c44d4" opacity="0.42"/>
<circle cx="268.2" cy="50.02" r="0.5" fill="#3c44d4" opacity="0.42"/>
<circle cx="271.4" cy="54.61" r="0.5" fill="#3c44d4" opacity="0.42"/>
<circle cx="272.38" cy="43.76" r="0.5" fill="#3c44d4" opacity="0.42"/>
<circle cx="276.8" cy="42.51" r="0.5" fill="#3c44d4" opacity="0.42"/>
<circle cx="276.69" cy="40.85" r="0.5" fill="#3c44d4" opacity="0.42"/>
<circle cx="278.59" cy="45.04" r="0.5" fill="#3c44d4" opacity="0.42"/>
<circle cx="280.84" cy="45.24" r="0.5" fill="#3c44d4" opacity="0.42"/>
<circle cx="277.65" cy="53.03" r="0.5" fill="#3c44d4" opacity="0.42"/>
<circle cx="270.52" cy="56.6" r="0.5" fill="#3c44d4" opacity="0.42"/>
<circle cx="274.77" cy="62.96" r="0.5" fill="#3c44d4" opacity="0.42"/>
<circle cx="274.83" cy="50.1" r="0.5" fill="#3c44d4" opacity="0.42"/>
<circle cx="273.81" cy="36.63" r="0.5" fill="#3c44d4" opacity="0.42"/>
<circle cx="280.54" cy="51.8" r="0.5" fill="#3c44d4" opacity="0.42"/>
<circle cx="282.58" cy="51.43" r="0.5" fill="#3c44d4" opacity="0.42"/>
<circle cx="272.86" cy="32.53" r="0.5" fill="#3c44d4" opacity="0.42"/>
<circle cx="272.51" cy="39.94" r="0.5" fill="#3c44d4" opacity="0.42"/>
<circle cx="271.75" cy="49.37" r="0.5" fill="#3c44d4" opacity="0.42"/>
<circle cx="277.01" cy="42.98" r="0.5" fill="#3c44d4" opacity="0.42"/>
<circle cx="276.29" cy="43.91" r="0.5" fill="#3c44d4" opacity="0.42"/>
<circle cx="276.48" cy="50.64" r="0.5" fill="#3c44d4" opacity="0.42"/>
<circle cx="279.91" cy="39.86" r="0.5" fill="#3c44d4" opacity="0.42"/>
<circle cx="268.57" cy="55.71" r="0.5" fill="#3c44d4" opacity="0.42"/>
<circle cx="276.03" cy="53.29" r="0.5" fill="#3c44d4" opacity="0.42"/>
<circle cx="267.94" cy="42.53" r="0.5" fill="#3c44d4" opacity="0.42"/>
<circle cx="275.62" cy="34.19" r="0.5" fill="#3c44d4" opacity="0.42"/>
<circle cx="273.13" cy="50.43" r="0.5" fill="#3c44d4" opacity="0.42"/>
<circle cx="280.46" cy="56.96" r="0.5" fill="#3c44d4" opacity="0.42"/>
<circle cx="271.53" cy="34.49" r="0.5" fill="#3c44d4" opacity="0.42"/>
<circle cx="277.89" cy="52.05" r="0.5" fill="#3c44d4" opacity="0.42"/>
<circle cx="276.39" cy="35.24" r="0.5" fill="#3c44d4" opacity="0.42"/>
<circle cx="279.1" cy="50.94" r="0.5" fill="#3c44d4" opacity="0.42"/>
<circle cx="278.05" cy="41.35" r="0.5" fill="#3c44d4" opacity="0.42"/>
<circle cx="276.9" cy="50.93" r="0.5" fill="#3c44d4" opacity="0.42"/>
<circle cx="272.93" cy="31.17" r="0.5" fill="#3c44d4" opacity="0.42"/>
<circle cx="277.01" cy="48.61" r="0.5" fill="#3c44d4" opacity="0.42"/>
<circle cx="275.56" cy="51.67" r="0.5" fill="#3c44d4" opacity="0.42"/>
<circle cx="272.8" cy="44.38" r="0.5" fill="#3c44d4" opacity="0.42"/>
<circle cx="274.1" cy="49.29" r="0.5" fill="#3c44d4" opacity="0.42"/>
<circle cx="282.84" cy="43.12" r="0.5" fill="#3c44d4" opacity="0.42"/>
<circle cx="279.14" cy="49.4" r="0.5" fill="#3c44d4" opacity="0.42"/>
<circle cx="274.99" cy="37.03" r="0.5" fill="#3c44d4" opacity="0.42"/>
<circle cx="277.68" cy="55.09" r="0.5" fill="#3c44d4" opacity="0.42"/>
<circle cx="277.95" cy="48.17" r="0.5" fill="#3c44d4" opacity="0.42"/>
<circle cx="274.58" cy="46.27" r="0.5" fill="#3c44d4" opacity="0.42"/>
<circle cx="268.94" cy="52.87" r="0.5" fill="#3c44d4" opacity="0.42"/>
<circle cx="273.61" cy="36.72" r="0.5" fill="#3c44d4" opacity="0.42"/>
<circle cx="272.04" cy="38.82" r="0.5" fill="#3c44d4" opacity="0.42"/>
<circle cx="279.43" cy="52.94" r="0.5" fill="#3c44d4" opacity="0.42"/>
<circle cx="269.25" cy="51.95" r="0.5" fill="#3c44d4" opacity="0.42"/>
<circle cx="279.59" cy="40.65" r="0.5" fill="#3c44d4" opacity="0.42"/>
<circle cx="268.66" cy="39.41" r="0.5" fill="#3c44d4" opacity="0.42"/>
<circle cx="272.58" cy="47.57" r="0.5" fill="#3c44d4" opacity="0.42"/>
<circle cx="276.57" cy="33.49" r="0.5" fill="#3c44d4" opacity="0.42"/>
<circle cx="279.67" cy="35.95" r="0.5" fill="#3c44d4" opacity="0.42"/>
<circle cx="272.31" cy="38.59" r="0.5" fill="#3c44d4" opacity="0.42"/>
<circle cx="273" cy="54.74" r="0.5" fill="#3c44d4" opacity="0.42"/>
<circle cx="279.42" cy="49.51" r="0.5" fill="#3c44d4" opacity="0.42"/>
<circle cx="276.97" cy="33.39" r="0.5" fill="#3c44d4" opacity="0.42"/>
<circle cx="273.1" cy="40.86" r="0.5" fill="#3c44d4" opacity="0.42"/>
<circle cx="271" cy="48.82" r="0.5" fill="#3c44d4" opacity="0.42"/>
<circle cx="272.09" cy="39.68" r="0.5" fill="#3c44d4" opacity="0.42"/>
<circle cx="278.24" cy="54.98" r="0.5" fill="#3c44d4" opacity="0.42"/>
<circle cx="276.3" cy="37.68" r="0.5" fill="#3c44d4" opacity="0.42"/>
<circle cx="281.09" cy="47.23" r="0.5" fill="#3c44d4" opacity="0.42"/>
<circle cx="279.76" cy="56.09" r="0.5" fill="#3c44d4" opacity="0.42"/>
<circle cx="280.68" cy="41.69" r="0.5" fill="#3c44d4" opacity="0.42"/>
<circle cx="280.34" cy="50.82" r="0.5" fill="#3c44d4" opacity="0.42"/>
<circle cx="268.43" cy="41.96" r="0.5" fill="#3c44d4" opacity="0.42"/>
<circle cx="268.95" cy="44.18" r="0.5" fill="#3c44d4" opacity="0.42"/>
<circle cx="278.16" cy="36.99" r="0.5" fill="#3c44d4" opacity="0.42"/>
<circle cx="277.23" cy="56.03" r="0.5" fill="#3c44d4" opacity="0.42"/>
<circle cx="269.41" cy="52.95" r="0.5" fill="#3c44d4" opacity="0.42"/>
<circle cx="274.53" cy="47.02" r="0.5" fill="#3c44d4" opacity="0.42"/>
<circle cx="274.79" cy="52.49" r="0.5" fill="#3c44d4" opacity="0.42"/>
<circle cx="280.27" cy="45.65" r="0.5" fill="#3c44d4" opacity="0.42"/>
<circle cx="269.25" cy="50.56" r="0.5" fill="#3c44d4" opacity="0.42"/>
<circle cx="273.34" cy="49.72" r="0.5" fill="#3c44d4" opacity="0.42"/>
<circle cx="276.71" cy="57.18" r="0.5" fill="#3c44d4" opacity="0.42"/>
<circle cx="280.73" cy="41.62" r="0.5" fill="#3c44d4" opacity="0.42"/>
<circle cx="277.11" cy="58.23" r="0.5" fill="#3c44d4" opacity="0.42"/>
<circle cx="273.03" cy="48.25" r="0.5" fill="#3c44d4" opacity="0.42"/>
<circle cx="280.98" cy="54.43" r="0.5" fill="#3c44d4" opacity="0.42"/>
<circle cx="277.89" cy="35.1" r="0.5" fill="#3c44d4" opacity="0.42"/>
<circle cx="269.7" cy="46.86" r="0.5" fill="#3c44d4" opacity="0.42"/>
<circle cx="271.54" cy="53.53" r="0.5" fill="#3c44d4" opacity="0.42"/>
<circle cx="279.04" cy="32.46" r="0.5" fill="#3c44d4" opacity="0.42"/>
<circle cx="271.74" cy="46.25" r="0.5" fill="#3c44d4" opacity="0.42"/>
<circle cx="273.23" cy="43.84" r="0.5" fill="#3c44d4" opacity="0.42"/>
<circle cx="277.66" cy="38.93" r="0.5" fill="#3c44d4" opacity="0.42"/>
<circle cx="277.65" cy="40.23" r="0.5" fill="#3c44d4" opacity="0.42"/>
<circle cx="272.99" cy="49.03" r="0.5" fill="#3c44d4" opacity="0.42"/>
<circle cx="272.86" cy="47.15" r="0.5" fill="#3c44d4" opacity="0.42"/>
<circle cx="282.86" cy="45.2" r="0.5" fill="#3c44d4" opacity="0.42"/>
<circle cx="274.83" cy="50.51" r="0.5" fill="#3c44d4" opacity="0.42"/>
<circle cx="273.82" cy="53.12" r="0.5" fill="#3c44d4" opacity="0.42"/>
<circle cx="269.6" cy="49.64" r="0.5" fill="#3c44d4" opacity="0.42"/>
<circle cx="273.14" cy="39.01" r="0.5" fill="#3c44d4" opacity="0.42"/>
<circle cx="282.18" cy="37.67" r="0.5" fill="#3c44d4" opacity="0.42"/>
<circle cx="281.02" cy="55.93" r="0.5" fill="#3c44d4" opacity="0.42"/>
<circle cx="274.96" cy="44.03" r="0.5" fill="#3c44d4" opacity="0.42"/>
<circle cx="273.56" cy="40.28" r="0.5" fill="#3c44d4" opacity="0.42"/>
<circle cx="277.55" cy="47.48" r="0.5" fill="#3c44d4" opacity="0.42"/>
<circle cx="276.32" cy="57.91" r="0.5" fill="#3c44d4" opacity="0.42"/>
<circle cx="273.99" cy="48.55" r="0.5" fill="#3c44d4" opacity="0.42"/>
<circle cx="282.21" cy="37.47" r="0.5" fill="#3c44d4" opacity="0.42"/>
<circle cx="280.28" cy="58.74" r="0.5" fill="#3c44d4" opacity="0.42"/>
<circle cx="269.27" cy="36.77" r="0.5" fill="#3c44d4" opacity="0.42"/>
<circle cx="270.72" cy="31.15" r="0.5" fill="#3c44d4" opacity="0.42"/>
<circle cx="277.58" cy="31.08" r="0.5" fill="#3c44d4" opacity="0.42"/>
<circle cx="277.79" cy="55.9" r="0.5" fill="#3c44d4" opacity="0.42"/>
<circle cx="268.07" cy="42.63" r="0.5" fill="#3c44d4" opacity="0.42"/>
<path d="M283.8 29.1 L266.7 29.1 L266.7 64.3 L283.8 64.3" fill="none" stroke="#d06070" stroke-width="0.9"/>
<text x="272.2" y="63.8" font-size="8.8" textLength="10.6" lengthAdjust="spacingAndGlyphs">1.4</text>
<rect x="235.3" y="24.2" width="48.5" height="48" fill="none" stroke="#222" stroke-width="1.1" />
<line x1="233.7" y1="29.2" x2="235.3" y2="29.2" stroke="#333" stroke-width="0.8" />
<line x1="233.7" y1="39.7" x2="235.3" y2="39.7" stroke="#333" stroke-width="0.8" />
<line x1="233.7" y1="49.7" x2="235.3" y2="49.7" stroke="#333" stroke-width="0.8" />
<line x1="233.7" y1="61.7" x2="235.3" y2="61.7" stroke="#333" stroke-width="0.8" />
<line x1="233.7" y1="66.7" x2="235.3" y2="66.7" stroke="#333" stroke-width="0.8" />
<line x1="237.8" y1="72.2" x2="237.8" y2="73.8" stroke="#333" stroke-width="0.8" />
<line x1="240.3" y1="72.2" x2="240.3" y2="73.8" stroke="#333" stroke-width="0.8" />
<line x1="243.3" y1="72.2" x2="243.3" y2="73.8" stroke="#333" stroke-width="0.8" />
<line x1="251.3" y1="72.2" x2="251.3" y2="73.8" stroke="#333" stroke-width="0.8" />
<line x1="259.3" y1="72.2" x2="259.3" y2="73.8" stroke="#333" stroke-width="0.8" />
<line x1="268.3" y1="72.2" x2="268.3" y2="73.8" stroke="#333" stroke-width="0.8" />
<line x1="275.3" y1="72.2" x2="275.3" y2="73.8" stroke="#333" stroke-width="0.8" />
<clipPath id="cpE0"><rect x="135.1" y="263.1" width="48.0" height="47.2"/></clipPath>
<rect x="135.1" y="263.1" width="48" height="47.2" fill="#fff" />
<clipPath id="cpE1"><rect x="189.9" y="263.1" width="48.0" height="47.2"/></clipPath>
<rect x="189.9" y="263.1" width="48" height="47.2" fill="#fff" />
<clipPath id="cpE2"><rect x="245.3" y="263.1" width="48.0" height="47.2"/></clipPath>
<rect x="245.3" y="263.1" width="48" height="47.2" fill="#fff" />
<g clip-path="url(#cpE0)">
<circle cx="144.1" cy="290.94" r="0.5" fill="#9090e0" opacity="0.35"/>
<circle cx="150.44" cy="294.18" r="0.5" fill="#9090e0" opacity="0.35"/>
<circle cx="147.23" cy="292.06" r="0.5" fill="#9090e0" opacity="0.35"/>
<circle cx="145.63" cy="292.46" r="0.5" fill="#9090e0" opacity="0.35"/>
<circle cx="140.62" cy="292.25" r="0.5" fill="#9090e0" opacity="0.35"/>
<circle cx="134.54" cy="290.04" r="0.5" fill="#9090e0" opacity="0.35"/>
<circle cx="139.92" cy="293.03" r="0.5" fill="#9090e0" opacity="0.35"/>
<circle cx="142.22" cy="285.39" r="0.5" fill="#9090e0" opacity="0.35"/>
<circle cx="144.11" cy="294.95" r="0.5" fill="#9090e0" opacity="0.35"/>
<circle cx="153.07" cy="291.61" r="0.5" fill="#9090e0" opacity="0.35"/>
<circle cx="142.59" cy="287.69" r="0.5" fill="#9090e0" opacity="0.35"/>
<circle cx="160.8" cy="292.98" r="0.5" fill="#9090e0" opacity="0.35"/>
<circle cx="139.04" cy="301.9" r="0.5" fill="#9090e0" opacity="0.35"/>
<circle cx="140.81" cy="291.69" r="0.5" fill="#9090e0" opacity="0.35"/>
<circle cx="151.68" cy="291.37" r="0.5" fill="#9090e0" opacity="0.35"/>
<circle cx="147.77" cy="286.51" r="0.5" fill="#9090e0" opacity="0.35"/>
<circle cx="141.59" cy="298.75" r="0.5" fill="#9090e0" opacity="0.35"/>
<circle cx="143.95" cy="295.38" r="0.5" fill="#9090e0" opacity="0.35"/>
<circle cx="136.45" cy="290.9" r="0.5" fill="#9090e0" opacity="0.35"/>
<circle cx="152.09" cy="296.15" r="0.5" fill="#9090e0" opacity="0.35"/>
<circle cx="141.02" cy="294.38" r="0.5" fill="#9090e0" opacity="0.35"/>
<circle cx="153.09" cy="289.05" r="0.5" fill="#9090e0" opacity="0.35"/>
<circle cx="153.82" cy="288.41" r="0.5" fill="#9090e0" opacity="0.35"/>
<circle cx="143.63" cy="291.92" r="0.5" fill="#9090e0" opacity="0.35"/>
<circle cx="142" cy="286.15" r="0.5" fill="#9090e0" opacity="0.35"/>
<circle cx="146.6" cy="295.05" r="0.5" fill="#9090e0" opacity="0.35"/>
<circle cx="146.76" cy="297.06" r="0.5" fill="#9090e0" opacity="0.35"/>
<circle cx="140.72" cy="286.75" r="0.5" fill="#9090e0" opacity="0.35"/>
<circle cx="162.41" cy="293.6" r="0.5" fill="#9090e0" opacity="0.35"/>
<circle cx="157.56" cy="288.69" r="0.5" fill="#9090e0" opacity="0.35"/>
<circle cx="156.44" cy="293.04" r="0.5" fill="#9090e0" opacity="0.35"/>
<circle cx="155.19" cy="292.1" r="0.5" fill="#9090e0" opacity="0.35"/>
<circle cx="159.65" cy="289.4" r="0.5" fill="#9090e0" opacity="0.35"/>
<circle cx="142.29" cy="286.09" r="0.5" fill="#9090e0" opacity="0.35"/>
<circle cx="159.28" cy="289.05" r="0.5" fill="#9090e0" opacity="0.35"/>
<circle cx="141.65" cy="288.24" r="0.5" fill="#9090e0" opacity="0.35"/>
<circle cx="146.44" cy="286.91" r="0.5" fill="#9090e0" opacity="0.35"/>
<circle cx="147.68" cy="289.49" r="0.5" fill="#9090e0" opacity="0.35"/>
<circle cx="145.59" cy="288.16" r="0.5" fill="#9090e0" opacity="0.35"/>
<circle cx="150.29" cy="290.16" r="0.5" fill="#9090e0" opacity="0.35"/>
<circle cx="150.92" cy="293" r="0.5" fill="#9090e0" opacity="0.35"/>
<circle cx="145.71" cy="288.82" r="0.5" fill="#9090e0" opacity="0.35"/>
<circle cx="156.19" cy="285.69" r="0.5" fill="#9090e0" opacity="0.35"/>
<circle cx="144.28" cy="290.82" r="0.5" fill="#9090e0" opacity="0.35"/>
<circle cx="147.31" cy="295.97" r="0.5" fill="#9090e0" opacity="0.35"/>
<circle cx="146.46" cy="295.86" r="0.5" fill="#9090e0" opacity="0.35"/>
<circle cx="138.28" cy="284.75" r="0.5" fill="#9090e0" opacity="0.35"/>
<circle cx="159.75" cy="293.74" r="0.5" fill="#9090e0" opacity="0.35"/>
<circle cx="153.9" cy="292.49" r="0.5" fill="#9090e0" opacity="0.35"/>
<circle cx="153.87" cy="287.14" r="0.5" fill="#9090e0" opacity="0.35"/>
<circle cx="157.59" cy="289.87" r="0.5" fill="#9090e0" opacity="0.35"/>
<circle cx="157.89" cy="292.35" r="0.5" fill="#9090e0" opacity="0.35"/>
<circle cx="134.21" cy="286.85" r="0.5" fill="#9090e0" opacity="0.35"/>
<circle cx="159.02" cy="291.45" r="0.5" fill="#9090e0" opacity="0.35"/>
<circle cx="146.84" cy="292.97" r="0.5" fill="#9090e0" opacity="0.35"/>
<circle cx="146.6" cy="289.82" r="0.5" fill="#9090e0" opacity="0.35"/>
<circle cx="150.82" cy="292.58" r="0.5" fill="#9090e0" opacity="0.35"/>
<circle cx="162.13" cy="292.18" r="0.5" fill="#9090e0" opacity="0.35"/>
<circle cx="163.73" cy="296.25" r="0.5" fill="#9090e0" opacity="0.35"/>
<circle cx="151.04" cy="292.55" r="0.5" fill="#9090e0" opacity="0.35"/>
<circle cx="148.86" cy="289.08" r="0.5" fill="#9090e0" opacity="0.35"/>
<circle cx="149.47" cy="289.44" r="0.5" fill="#9090e0" opacity="0.35"/>
<circle cx="163.12" cy="294.14" r="0.5" fill="#9090e0" opacity="0.35"/>
<circle cx="146.43" cy="284.34" r="0.5" fill="#9090e0" opacity="0.35"/>
<circle cx="149.57" cy="290.33" r="0.5" fill="#9090e0" opacity="0.35"/>
<circle cx="141.31" cy="287.45" r="0.5" fill="#9090e0" opacity="0.35"/>
<circle cx="149.47" cy="302.32" r="0.5" fill="#9090e0" opacity="0.35"/>
<circle cx="149.75" cy="291.41" r="0.5" fill="#9090e0" opacity="0.35"/>
<circle cx="161.55" cy="292.54" r="0.5" fill="#9090e0" opacity="0.35"/>
<circle cx="151.34" cy="290.51" r="0.5" fill="#9090e0" opacity="0.35"/>
<circle cx="145.16" cy="298" r="0.5" fill="#9090e0" opacity="0.35"/>
<circle cx="158" cy="298.86" r="0.5" fill="#9090e0" opacity="0.35"/>
<circle cx="147.2" cy="292.12" r="0.5" fill="#9090e0" opacity="0.35"/>
<circle cx="142.95" cy="295.87" r="0.5" fill="#9090e0" opacity="0.35"/>
<circle cx="138.86" cy="294.26" r="0.5" fill="#9090e0" opacity="0.35"/>
<circle cx="158.77" cy="297.64" r="0.5" fill="#9090e0" opacity="0.35"/>
<circle cx="142.48" cy="296.36" r="0.5" fill="#9090e0" opacity="0.35"/>
<circle cx="144.29" cy="288.97" r="0.5" fill="#9090e0" opacity="0.35"/>
<circle cx="139.42" cy="296.62" r="0.5" fill="#9090e0" opacity="0.35"/>
<circle cx="163.19" cy="289.62" r="0.5" fill="#9090e0" opacity="0.35"/>
<circle cx="143.92" cy="290.64" r="0.5" fill="#9090e0" opacity="0.35"/>
<circle cx="145.66" cy="284.82" r="0.5" fill="#9090e0" opacity="0.35"/>
<circle cx="144.62" cy="296.75" r="0.5" fill="#9090e0" opacity="0.35"/>
<circle cx="144.47" cy="289.96" r="0.5" fill="#9090e0" opacity="0.35"/>
<circle cx="134.91" cy="295.63" r="0.5" fill="#9090e0" opacity="0.35"/>
<circle cx="141.31" cy="296.25" r="0.5" fill="#9090e0" opacity="0.35"/>
<circle cx="136.34" cy="286.92" r="0.5" fill="#9090e0" opacity="0.35"/>
<circle cx="152.31" cy="288.95" r="0.5" fill="#9090e0" opacity="0.35"/>
<circle cx="156.25" cy="292.03" r="0.5" fill="#9090e0" opacity="0.35"/>
<circle cx="140.6" cy="294.49" r="0.5" fill="#9090e0" opacity="0.35"/>
<circle cx="156.74" cy="284.35" r="0.5" fill="#9090e0" opacity="0.35"/>
<circle cx="156.08" cy="284.56" r="0.5" fill="#9090e0" opacity="0.35"/>
<circle cx="144.24" cy="290.6" r="0.5" fill="#9090e0" opacity="0.35"/>
<circle cx="158.62" cy="286.16" r="0.5" fill="#9090e0" opacity="0.35"/>
<circle cx="148.07" cy="293.38" r="0.5" fill="#9090e0" opacity="0.35"/>
<circle cx="136.51" cy="289.63" r="0.5" fill="#9090e0" opacity="0.35"/>
<circle cx="154.08" cy="298.34" r="0.5" fill="#9090e0" opacity="0.35"/>
<circle cx="155.31" cy="290.79" r="0.5" fill="#9090e0" opacity="0.35"/>
<circle cx="140.58" cy="288.25" r="0.5" fill="#9090e0" opacity="0.35"/>
<circle cx="144.69" cy="292.59" r="0.5" fill="#9090e0" opacity="0.35"/>
<circle cx="149.6" cy="298.67" r="0.5" fill="#9090e0" opacity="0.35"/>
<circle cx="152.3" cy="287.71" r="0.5" fill="#9090e0" opacity="0.35"/>
<circle cx="162.35" cy="295.8" r="0.5" fill="#9090e0" opacity="0.35"/>
<circle cx="150.81" cy="289.12" r="0.5" fill="#9090e0" opacity="0.35"/>
<circle cx="135.03" cy="287.91" r="0.5" fill="#9090e0" opacity="0.35"/>
<circle cx="157.29" cy="288.79" r="0.5" fill="#9090e0" opacity="0.35"/>
<circle cx="139.44" cy="292.78" r="0.5" fill="#9090e0" opacity="0.35"/>
<circle cx="151.95" cy="294.43" r="0.5" fill="#9090e0" opacity="0.35"/>
<circle cx="155.24" cy="297.64" r="0.5" fill="#9090e0" opacity="0.35"/>
<circle cx="143.29" cy="295.91" r="0.5" fill="#9090e0" opacity="0.35"/>
<path d="M133 291.2 C134.17 291.03 137.67 290.47 140 290.2 C142.33 289.93 144.67 289.83 147 289.6 C149.33 289.37 151.92 289 154 288.8 C156.08 288.6 158.1 288.3 159.5 288.4 C160.9 288.5 161.88 287.47 162.4 289.4 C162.92 291.33 162.8 296.23 162.6 300 C162.4 303.77 166.13 310 161.2 312 C156.27 314 137.7 315.47 133 312 C128.3 308.53 133 294.67 133 291.2 Z" fill="#b0b0ee" filter="url(#b10)" opacity="0.6"/>
<path d="M133 292.4 C134.17 292.27 137.73 291.85 140 291.6 C142.27 291.35 144.12 291.18 146.6 290.9 C149.08 290.62 152.63 290.12 154.9 289.9 C157.17 289.68 159.12 289.42 160.2 289.6 C161.28 289.78 161.23 289.27 161.4 291 C161.57 292.73 161.43 296.5 161.2 300 C160.97 303.5 164.7 310 160 312 C155.3 314 137.5 315.27 133 312 C128.5 308.73 133 295.67 133 292.4 Z" fill="#1410c8" filter="url(#b06)"/>
<path d="M133 294.4 C134.17 294.27 137.73 293.85 140 293.6 C142.27 293.35 144.12 293.18 146.6 292.9 C149.08 292.62 152.87 292.08 154.9 291.9 C156.93 291.72 158.05 291.62 158.8 291.8 C159.55 291.98 159.33 291.63 159.4 293 C159.47 294.37 159.4 296.83 159.2 300 C159 303.17 162.57 310 158.2 312 C153.83 314 137.2 314.93 133 312 C128.8 309.07 133 297.33 133 294.4 Z" fill="#1238f8" filter="url(#b06)"/>
<path d="M144 294.2 C144.5 294.03 145.67 293.43 147 293.2 C148.33 292.97 150.53 292.75 152 292.8 C153.47 292.85 155.27 292.3 155.8 293.5 C156.33 294.7 155.53 297.92 155.2 300 C154.87 302.08 154.03 304 153.8 306 C153.57 308 155.07 311 153.8 312 C152.53 313 147.5 313 146.2 312 C144.9 311 146.27 308 146 306 C145.73 304 144.93 301.97 144.6 300 C144.27 298.03 144.1 295.17 144 294.2 Z" fill="#18c4ec" filter="url(#b06)"/>
<path d="M145.6 295.6 C146.08 295.4 147.43 294.62 148.5 294.4 C149.57 294.18 151.03 294.13 152 294.3 C152.97 294.47 154.03 294.45 154.3 295.4 C154.57 296.35 153.92 298.4 153.6 300 C153.28 301.6 152.63 303.33 152.4 305 C152.17 306.67 152.93 309.17 152.2 310 C151.47 310.83 148.77 310.83 148 310 C147.23 309.17 147.9 306.67 147.6 305 C147.3 303.33 146.53 301.57 146.2 300 C145.87 298.43 145.7 296.33 145.6 295.6 Z" fill="#40dc50" filter="url(#b06)"/>
<path d="M147.6 296.2 C148.07 296.05 149.57 295.27 150.4 295.3 C151.23 295.33 152.3 295.53 152.6 296.4 C152.9 297.27 152.43 298.98 152.2 300.5 C151.97 302.02 151.7 304.67 151.2 305.5 C150.7 306.33 149.73 306.33 149.2 305.5 C148.67 304.67 148.27 302.05 148 300.5 C147.73 298.95 147.67 296.92 147.6 296.2 Z" fill="#e4e41c" filter="url(#b06)"/>
<ellipse cx="150.6" cy="298.8" rx="1.3" ry="2.5" fill="#ec6a08" filter="url(#b06)"/>
</g>
<circle cx="152.54" cy="278.16" r="0.45" fill="#6068d8" opacity="0.35"/>
<circle cx="156.63" cy="275.46" r="0.45" fill="#6068d8" opacity="0.35"/>
<circle cx="159.39" cy="273.9" r="0.45" fill="#6068d8" opacity="0.35"/>
<circle cx="159.89" cy="279.25" r="0.45" fill="#6068d8" opacity="0.35"/>
<circle cx="156.47" cy="270.6" r="0.45" fill="#6068d8" opacity="0.35"/>
<circle cx="153.36" cy="270.83" r="0.45" fill="#6068d8" opacity="0.35"/>
<circle cx="155.29" cy="273.85" r="0.45" fill="#6068d8" opacity="0.35"/>
<circle cx="158.69" cy="268.84" r="0.45" fill="#6068d8" opacity="0.35"/>
<circle cx="153.51" cy="272.09" r="0.45" fill="#6068d8" opacity="0.35"/>
<circle cx="156.67" cy="267.78" r="0.45" fill="#6068d8" opacity="0.35"/>
<circle cx="161.64" cy="270.62" r="0.45" fill="#6068d8" opacity="0.35"/>
<circle cx="155.98" cy="275.67" r="0.45" fill="#6068d8" opacity="0.35"/>
<circle cx="156.67" cy="277.61" r="0.45" fill="#6068d8" opacity="0.35"/>
<circle cx="156.98" cy="274.97" r="0.45" fill="#6068d8" opacity="0.35"/>
<circle cx="149.38" cy="269.72" r="0.45" fill="#6068d8" opacity="0.35"/>
<circle cx="157.08" cy="272.83" r="0.45" fill="#6068d8" opacity="0.35"/>
<circle cx="153.13" cy="270.51" r="0.45" fill="#6068d8" opacity="0.35"/>
<circle cx="162.46" cy="284.39" r="0.45" fill="#6068d8" opacity="0.35"/>
<circle cx="155.8" cy="281.73" r="0.45" fill="#6068d8" opacity="0.35"/>
<circle cx="154.31" cy="268.75" r="0.45" fill="#6068d8" opacity="0.35"/>
<circle cx="154.04" cy="275.13" r="0.45" fill="#6068d8" opacity="0.35"/>
<circle cx="156.17" cy="275.66" r="0.45" fill="#6068d8" opacity="0.35"/>
<circle cx="155.88" cy="279.59" r="0.45" fill="#6068d8" opacity="0.35"/>
<circle cx="162.21" cy="266.54" r="0.45" fill="#6068d8" opacity="0.35"/>
<circle cx="156.57" cy="272.41" r="0.45" fill="#6068d8" opacity="0.35"/>
<circle cx="157.25" cy="264.81" r="0.45" fill="#6068d8" opacity="0.35"/>
<circle cx="157.84" cy="275.15" r="0.45" fill="#6068d8" opacity="0.35"/>
<circle cx="154.69" cy="269.47" r="0.45" fill="#6068d8" opacity="0.35"/>
<circle cx="151.05" cy="268.51" r="0.45" fill="#6068d8" opacity="0.35"/>
<circle cx="158.44" cy="277.26" r="0.45" fill="#6068d8" opacity="0.35"/>
<circle cx="155.92" cy="277.09" r="0.45" fill="#6068d8" opacity="0.35"/>
<circle cx="153.89" cy="274.43" r="0.45" fill="#6068d8" opacity="0.35"/>
<circle cx="156.14" cy="277.33" r="0.45" fill="#6068d8" opacity="0.35"/>
<circle cx="155.76" cy="273.14" r="0.45" fill="#6068d8" opacity="0.35"/>
<circle cx="155.53" cy="270.13" r="0.45" fill="#6068d8" opacity="0.35"/>
<circle cx="163.82" cy="277.09" r="0.45" fill="#6068d8" opacity="0.35"/>
<circle cx="160.91" cy="264.66" r="0.45" fill="#6068d8" opacity="0.35"/>
<circle cx="158.43" cy="279.03" r="0.45" fill="#6068d8" opacity="0.35"/>
<circle cx="162.6" cy="281.89" r="0.45" fill="#6068d8" opacity="0.35"/>
<circle cx="158.7" cy="266.94" r="0.45" fill="#6068d8" opacity="0.35"/>
<circle cx="152.95" cy="275.61" r="0.45" fill="#6068d8" opacity="0.35"/>
<circle cx="157.77" cy="267.87" r="0.45" fill="#6068d8" opacity="0.35"/>
<circle cx="154.65" cy="271.6" r="0.45" fill="#6068d8" opacity="0.35"/>
<circle cx="156.21" cy="276.02" r="0.45" fill="#6068d8" opacity="0.35"/>
<circle cx="155" cy="266.58" r="0.45" fill="#6068d8" opacity="0.35"/>
<circle cx="160.35" cy="283.58" r="0.45" fill="#6068d8" opacity="0.35"/>
<circle cx="155.63" cy="280.15" r="0.45" fill="#6068d8" opacity="0.35"/>
<rect x="147.5" y="263.3" width="17.6" height="22.3" fill="none" stroke="#2a2a2a" stroke-width="1" />
<text x="167" y="274.2" font-size="8.4" textLength="15.2" lengthAdjust="spacingAndGlyphs">0.02</text>
<g clip-path="url(#cpE1)">
<path d="M191 290 C192 289.77 195 288.87 197 288.6 C199 288.33 201.83 284.5 203 288.4 C204.17 292.3 206 308.07 204 312 C202 315.93 193.17 315.67 191 312 C188.83 308.33 191 293.67 191 290 Z" fill="#c4c4f2" filter="url(#b15)" opacity="0.55"/>
<circle cx="202.22" cy="304.62" r="0.5" fill="#8080dc" opacity="0.3"/>
<circle cx="202.41" cy="294.66" r="0.5" fill="#8080dc" opacity="0.3"/>
<circle cx="202.87" cy="307.07" r="0.5" fill="#8080dc" opacity="0.3"/>
<circle cx="198.31" cy="295.8" r="0.5" fill="#8080dc" opacity="0.3"/>
<circle cx="195.94" cy="300.81" r="0.5" fill="#8080dc" opacity="0.3"/>
<circle cx="199.84" cy="304.69" r="0.5" fill="#8080dc" opacity="0.3"/>
<circle cx="203.38" cy="303.33" r="0.5" fill="#8080dc" opacity="0.3"/>
<circle cx="201.37" cy="298.54" r="0.5" fill="#8080dc" opacity="0.3"/>
<circle cx="199.39" cy="294.23" r="0.5" fill="#8080dc" opacity="0.3"/>
<circle cx="200.89" cy="299.83" r="0.5" fill="#8080dc" opacity="0.3"/>
<circle cx="201.6" cy="294.01" r="0.5" fill="#8080dc" opacity="0.3"/>
<circle cx="200.2" cy="300.33" r="0.5" fill="#8080dc" opacity="0.3"/>
<circle cx="203.02" cy="292.56" r="0.5" fill="#8080dc" opacity="0.3"/>
<circle cx="202.1" cy="306.88" r="0.5" fill="#8080dc" opacity="0.3"/>
<circle cx="202.99" cy="297.42" r="0.5" fill="#8080dc" opacity="0.3"/>
<circle cx="197.54" cy="298.35" r="0.5" fill="#8080dc" opacity="0.3"/>
<circle cx="203.65" cy="310.87" r="0.5" fill="#8080dc" opacity="0.3"/>
<circle cx="199.21" cy="295.5" r="0.5" fill="#8080dc" opacity="0.3"/>
<circle cx="201.88" cy="301.43" r="0.5" fill="#8080dc" opacity="0.3"/>
<circle cx="195.46" cy="294.84" r="0.5" fill="#8080dc" opacity="0.3"/>
<circle cx="199.49" cy="304.7" r="0.5" fill="#8080dc" opacity="0.3"/>
<circle cx="194.03" cy="292.87" r="0.5" fill="#8080dc" opacity="0.3"/>
<circle cx="202.5" cy="291.43" r="0.5" fill="#8080dc" opacity="0.3"/>
<circle cx="200.54" cy="302.47" r="0.5" fill="#8080dc" opacity="0.3"/>
<circle cx="199.44" cy="292.87" r="0.5" fill="#8080dc" opacity="0.3"/>
<circle cx="199.7" cy="297.67" r="0.5" fill="#8080dc" opacity="0.3"/>
<circle cx="201.68" cy="294.13" r="0.5" fill="#8080dc" opacity="0.3"/>
<circle cx="205.46" cy="288.27" r="0.5" fill="#8080dc" opacity="0.3"/>
<circle cx="199.12" cy="300.05" r="0.5" fill="#8080dc" opacity="0.3"/>
<circle cx="204.81" cy="295.74" r="0.5" fill="#8080dc" opacity="0.3"/>
<circle cx="202.73" cy="296.03" r="0.5" fill="#8080dc" opacity="0.3"/>
<circle cx="197.99" cy="303.1" r="0.5" fill="#8080dc" opacity="0.3"/>
<circle cx="195.36" cy="306.81" r="0.5" fill="#8080dc" opacity="0.3"/>
<circle cx="194.33" cy="302.82" r="0.5" fill="#8080dc" opacity="0.3"/>
<circle cx="205.75" cy="307.63" r="0.5" fill="#8080dc" opacity="0.3"/>
<circle cx="204.07" cy="287.19" r="0.5" fill="#8080dc" opacity="0.3"/>
<circle cx="196.6" cy="309.95" r="0.5" fill="#8080dc" opacity="0.3"/>
<circle cx="193.87" cy="307.92" r="0.5" fill="#8080dc" opacity="0.3"/>
<circle cx="205.6" cy="297.67" r="0.5" fill="#8080dc" opacity="0.3"/>
<circle cx="193.87" cy="299.28" r="0.5" fill="#8080dc" opacity="0.3"/>
<circle cx="199.01" cy="299.67" r="0.5" fill="#8080dc" opacity="0.3"/>
<circle cx="203.48" cy="298.99" r="0.5" fill="#8080dc" opacity="0.3"/>
<circle cx="200.96" cy="302.97" r="0.5" fill="#8080dc" opacity="0.3"/>
<circle cx="202.21" cy="300.59" r="0.5" fill="#8080dc" opacity="0.3"/>
<circle cx="198.96" cy="295.62" r="0.5" fill="#8080dc" opacity="0.3"/>
<circle cx="194.61" cy="296.06" r="0.5" fill="#8080dc" opacity="0.3"/>
<circle cx="199.32" cy="296.88" r="0.5" fill="#8080dc" opacity="0.3"/>
<circle cx="205.42" cy="291.87" r="0.5" fill="#8080dc" opacity="0.3"/>
<circle cx="202.46" cy="301" r="0.5" fill="#8080dc" opacity="0.3"/>
<circle cx="194.11" cy="300.33" r="0.5" fill="#8080dc" opacity="0.3"/>
<circle cx="199.53" cy="303.51" r="0.5" fill="#8080dc" opacity="0.3"/>
<circle cx="197.75" cy="302.12" r="0.5" fill="#8080dc" opacity="0.3"/>
<circle cx="191.67" cy="292.41" r="0.5" fill="#8080dc" opacity="0.3"/>
<circle cx="203.92" cy="307.29" r="0.5" fill="#8080dc" opacity="0.3"/>
<circle cx="199.94" cy="295.81" r="0.5" fill="#8080dc" opacity="0.3"/>
<circle cx="196" cy="304.71" r="0.5" fill="#8080dc" opacity="0.3"/>
<circle cx="203.26" cy="292.77" r="0.5" fill="#8080dc" opacity="0.3"/>
<circle cx="190.56" cy="310.16" r="0.5" fill="#8080dc" opacity="0.3"/>
<circle cx="200.76" cy="293.73" r="0.5" fill="#8080dc" opacity="0.3"/>
<circle cx="200.27" cy="306.31" r="0.5" fill="#8080dc" opacity="0.3"/>
<circle cx="203.85" cy="287.54" r="0.5" fill="#8080dc" opacity="0.3"/>
<circle cx="205.7" cy="302.79" r="0.5" fill="#8080dc" opacity="0.3"/>
<circle cx="200.02" cy="307.33" r="0.5" fill="#8080dc" opacity="0.3"/>
<circle cx="196.8" cy="295.07" r="0.5" fill="#8080dc" opacity="0.3"/>
<circle cx="198.14" cy="299.49" r="0.5" fill="#8080dc" opacity="0.3"/>
<circle cx="194.59" cy="303.39" r="0.5" fill="#8080dc" opacity="0.3"/>
<circle cx="202.72" cy="300.5" r="0.5" fill="#8080dc" opacity="0.3"/>
<circle cx="200.99" cy="298.77" r="0.5" fill="#8080dc" opacity="0.3"/>
<circle cx="197.52" cy="295.73" r="0.5" fill="#8080dc" opacity="0.3"/>
<circle cx="198.26" cy="294.96" r="0.5" fill="#8080dc" opacity="0.3"/>
<circle cx="197.25" cy="296.33" r="0.5" fill="#8080dc" opacity="0.3"/>
<circle cx="194.71" cy="299.05" r="0.5" fill="#8080dc" opacity="0.3"/>
<circle cx="203.92" cy="298.25" r="0.5" fill="#8080dc" opacity="0.3"/>
<circle cx="197.54" cy="309.5" r="0.5" fill="#8080dc" opacity="0.3"/>
<circle cx="204.88" cy="306.45" r="0.5" fill="#8080dc" opacity="0.3"/>
<circle cx="205.78" cy="297.71" r="0.5" fill="#8080dc" opacity="0.3"/>
<circle cx="199.35" cy="307.79" r="0.5" fill="#8080dc" opacity="0.3"/>
<circle cx="197.23" cy="299.16" r="0.5" fill="#8080dc" opacity="0.3"/>
<circle cx="201.89" cy="302.61" r="0.5" fill="#8080dc" opacity="0.3"/>
<circle cx="198.62" cy="306.88" r="0.5" fill="#8080dc" opacity="0.3"/>
<circle cx="199.11" cy="305.08" r="0.5" fill="#8080dc" opacity="0.3"/>
<circle cx="205.35" cy="304.61" r="0.5" fill="#8080dc" opacity="0.3"/>
<circle cx="203.67" cy="291.88" r="0.5" fill="#8080dc" opacity="0.3"/>
<circle cx="193.44" cy="295.67" r="0.5" fill="#8080dc" opacity="0.3"/>
<circle cx="202.38" cy="310.51" r="0.5" fill="#8080dc" opacity="0.3"/>
<circle cx="193.89" cy="302.15" r="0.5" fill="#8080dc" opacity="0.3"/>
<circle cx="195.73" cy="294.87" r="0.5" fill="#8080dc" opacity="0.3"/>
<circle cx="198.62" cy="304.84" r="0.5" fill="#8080dc" opacity="0.3"/>
<circle cx="201.06" cy="308.26" r="0.5" fill="#8080dc" opacity="0.3"/>
<circle cx="195.07" cy="306.22" r="0.5" fill="#8080dc" opacity="0.3"/>
<circle cx="204.65" cy="300.49" r="0.5" fill="#8080dc" opacity="0.3"/>
<circle cx="202.39" cy="296.06" r="0.5" fill="#8080dc" opacity="0.3"/>
<circle cx="194.55" cy="297.16" r="0.5" fill="#8080dc" opacity="0.3"/>
<circle cx="201.01" cy="302.19" r="0.5" fill="#8080dc" opacity="0.3"/>
<circle cx="203.72" cy="294.55" r="0.5" fill="#8080dc" opacity="0.3"/>
<circle cx="204.58" cy="302.63" r="0.5" fill="#8080dc" opacity="0.3"/>
<circle cx="192.42" cy="304.21" r="0.5" fill="#8080dc" opacity="0.3"/>
<circle cx="202.76" cy="303.17" r="0.5" fill="#8080dc" opacity="0.3"/>
<circle cx="202.56" cy="305.24" r="0.5" fill="#8080dc" opacity="0.3"/>
<circle cx="195.5" cy="308.4" r="0.5" fill="#8080dc" opacity="0.3"/>
<circle cx="192.75" cy="290.9" r="0.5" fill="#8080dc" opacity="0.3"/>
<circle cx="202.61" cy="292.38" r="0.5" fill="#8080dc" opacity="0.3"/>
<circle cx="199.42" cy="288.49" r="0.5" fill="#8080dc" opacity="0.3"/>
<circle cx="200.35" cy="292.07" r="0.5" fill="#8080dc" opacity="0.3"/>
<circle cx="201.71" cy="289.27" r="0.5" fill="#8080dc" opacity="0.3"/>
<circle cx="202.24" cy="298.13" r="0.5" fill="#8080dc" opacity="0.3"/>
<circle cx="200.32" cy="299.53" r="0.5" fill="#8080dc" opacity="0.3"/>
<circle cx="200.65" cy="290.75" r="0.5" fill="#8080dc" opacity="0.3"/>
<circle cx="195.32" cy="296.82" r="0.5" fill="#8080dc" opacity="0.3"/>
<circle cx="196.18" cy="295.73" r="0.5" fill="#8080dc" opacity="0.3"/>
<circle cx="194.71" cy="302.29" r="0.5" fill="#8080dc" opacity="0.3"/>
<circle cx="199.3" cy="294.26" r="0.5" fill="#8080dc" opacity="0.3"/>
<circle cx="195.08" cy="305.65" r="0.5" fill="#8080dc" opacity="0.3"/>
<circle cx="196.7" cy="304.1" r="0.5" fill="#8080dc" opacity="0.3"/>
<circle cx="202.25" cy="286.74" r="0.5" fill="#8080dc" opacity="0.3"/>
<circle cx="194.58" cy="300.02" r="0.5" fill="#8080dc" opacity="0.3"/>
<circle cx="201.71" cy="305.46" r="0.5" fill="#8080dc" opacity="0.3"/>
<circle cx="204.01" cy="307.24" r="0.5" fill="#8080dc" opacity="0.3"/>
<circle cx="198.13" cy="298.53" r="0.5" fill="#8080dc" opacity="0.3"/>
<circle cx="203.88" cy="297.02" r="0.5" fill="#8080dc" opacity="0.3"/>
<circle cx="205.28" cy="288.88" r="0.5" fill="#8080dc" opacity="0.3"/>
<circle cx="203.27" cy="298.79" r="0.5" fill="#8080dc" opacity="0.3"/>
<circle cx="201.56" cy="300.15" r="0.5" fill="#8080dc" opacity="0.3"/>
<circle cx="194.62" cy="296.74" r="0.5" fill="#8080dc" opacity="0.3"/>
<circle cx="194" cy="299.08" r="0.5" fill="#8080dc" opacity="0.3"/>
<circle cx="198.03" cy="293.61" r="0.5" fill="#8080dc" opacity="0.3"/>
<circle cx="195.79" cy="307.33" r="0.5" fill="#8080dc" opacity="0.3"/>
<circle cx="197.28" cy="292.35" r="0.5" fill="#8080dc" opacity="0.3"/>
<circle cx="203.94" cy="303.95" r="0.5" fill="#8080dc" opacity="0.3"/>
<circle cx="194.79" cy="305.24" r="0.5" fill="#8080dc" opacity="0.3"/>
<circle cx="190.8" cy="293.53" r="0.5" fill="#8080dc" opacity="0.3"/>
<circle cx="205.63" cy="298.21" r="0.5" fill="#8080dc" opacity="0.3"/>
<circle cx="193.49" cy="303.6" r="0.5" fill="#8080dc" opacity="0.3"/>
<circle cx="204.58" cy="299.84" r="0.5" fill="#8080dc" opacity="0.3"/>
<circle cx="190.97" cy="297.58" r="0.5" fill="#8080dc" opacity="0.3"/>
<circle cx="202.09" cy="305.38" r="0.5" fill="#8080dc" opacity="0.3"/>
<circle cx="197.59" cy="299.73" r="0.5" fill="#8080dc" opacity="0.3"/>
<circle cx="203.99" cy="295.27" r="0.5" fill="#8080dc" opacity="0.3"/>
<circle cx="202.3" cy="304.82" r="0.5" fill="#8080dc" opacity="0.3"/>
<circle cx="194.09" cy="299.4" r="0.5" fill="#8080dc" opacity="0.3"/>
<circle cx="201.2" cy="304.11" r="0.5" fill="#8080dc" opacity="0.3"/>
<circle cx="195.35" cy="293.06" r="0.5" fill="#8080dc" opacity="0.3"/>
<circle cx="199.04" cy="298.44" r="0.5" fill="#8080dc" opacity="0.3"/>
<circle cx="192.53" cy="306.51" r="0.5" fill="#8080dc" opacity="0.3"/>
<circle cx="197.33" cy="310.05" r="0.5" fill="#8080dc" opacity="0.3"/>
<circle cx="204.26" cy="300.15" r="0.5" fill="#8080dc" opacity="0.3"/>
<circle cx="203.63" cy="292.22" r="0.5" fill="#8080dc" opacity="0.3"/>
<circle cx="198.37" cy="295.97" r="0.5" fill="#8080dc" opacity="0.3"/>
<circle cx="193.65" cy="300.12" r="0.5" fill="#8080dc" opacity="0.3"/>
<circle cx="199.28" cy="310.05" r="0.5" fill="#8080dc" opacity="0.3"/>
<circle cx="195.41" cy="296.75" r="0.5" fill="#8080dc" opacity="0.3"/>
<circle cx="202.11" cy="302.83" r="0.5" fill="#8080dc" opacity="0.3"/>
<circle cx="200.14" cy="296.68" r="0.5" fill="#8080dc" opacity="0.3"/>
<circle cx="202.47" cy="302.52" r="0.5" fill="#8080dc" opacity="0.3"/>
<circle cx="190.79" cy="298.16" r="0.5" fill="#8080dc" opacity="0.3"/>
<circle cx="193.13" cy="291.73" r="0.5" fill="#8080dc" opacity="0.3"/>
<circle cx="200.73" cy="300.42" r="0.5" fill="#8080dc" opacity="0.3"/>
<circle cx="200.57" cy="293.87" r="0.5" fill="#8080dc" opacity="0.3"/>
<circle cx="198.99" cy="293.61" r="0.5" fill="#8080dc" opacity="0.3"/>
<circle cx="201.91" cy="304.82" r="0.5" fill="#8080dc" opacity="0.3"/>
<circle cx="195.97" cy="296.8" r="0.5" fill="#8080dc" opacity="0.3"/>
<circle cx="195.31" cy="302.14" r="0.5" fill="#8080dc" opacity="0.3"/>
<circle cx="193.54" cy="303.61" r="0.5" fill="#8080dc" opacity="0.3"/>
<circle cx="200.01" cy="302.1" r="0.5" fill="#8080dc" opacity="0.3"/>
<circle cx="201.71" cy="294.55" r="0.5" fill="#8080dc" opacity="0.3"/>
<circle cx="200.22" cy="306.95" r="0.5" fill="#8080dc" opacity="0.3"/>
<circle cx="199.3" cy="295.14" r="0.5" fill="#8080dc" opacity="0.3"/>
<circle cx="191.17" cy="301.22" r="0.5" fill="#8080dc" opacity="0.3"/>
<circle cx="200.13" cy="304.32" r="0.5" fill="#8080dc" opacity="0.3"/>
<circle cx="197.98" cy="303.49" r="0.5" fill="#8080dc" opacity="0.3"/>
<circle cx="204.08" cy="298.97" r="0.5" fill="#8080dc" opacity="0.3"/>
<circle cx="197.71" cy="298.7" r="0.5" fill="#8080dc" opacity="0.3"/>
<circle cx="195.18" cy="298.55" r="0.5" fill="#8080dc" opacity="0.3"/>
<circle cx="198.49" cy="301.47" r="0.5" fill="#8080dc" opacity="0.3"/>
<circle cx="197.77" cy="304.22" r="0.5" fill="#8080dc" opacity="0.3"/>
<circle cx="201.47" cy="305.33" r="0.5" fill="#8080dc" opacity="0.3"/>
<circle cx="200.11" cy="301.86" r="0.5" fill="#8080dc" opacity="0.3"/>
<circle cx="197.66" cy="294.51" r="0.5" fill="#8080dc" opacity="0.3"/>
<circle cx="204.36" cy="309.09" r="0.5" fill="#8080dc" opacity="0.3"/>
<circle cx="203.31" cy="303.05" r="0.5" fill="#8080dc" opacity="0.3"/>
<circle cx="201.33" cy="296.85" r="0.5" fill="#8080dc" opacity="0.3"/>
<circle cx="191.08" cy="304.64" r="0.5" fill="#8080dc" opacity="0.3"/>
<circle cx="201" cy="296.12" r="0.5" fill="#8080dc" opacity="0.3"/>
<circle cx="195.18" cy="308.95" r="0.5" fill="#8080dc" opacity="0.3"/>
<circle cx="196.41" cy="299.85" r="0.5" fill="#8080dc" opacity="0.3"/>
<circle cx="197.47" cy="301.09" r="0.5" fill="#8080dc" opacity="0.3"/>
<circle cx="198.95" cy="294.76" r="0.5" fill="#8080dc" opacity="0.3"/>
<circle cx="205.37" cy="294.51" r="0.5" fill="#8080dc" opacity="0.3"/>
<circle cx="197.46" cy="303.88" r="0.5" fill="#8080dc" opacity="0.3"/>
<circle cx="197.31" cy="296.96" r="0.5" fill="#8080dc" opacity="0.3"/>
<circle cx="201.78" cy="297.43" r="0.5" fill="#8080dc" opacity="0.3"/>
<circle cx="193.77" cy="299.28" r="0.5" fill="#8080dc" opacity="0.3"/>
<circle cx="194.51" cy="306.79" r="0.5" fill="#8080dc" opacity="0.3"/>
<circle cx="196.07" cy="297.51" r="0.5" fill="#8080dc" opacity="0.3"/>
<circle cx="198.37" cy="301.89" r="0.5" fill="#8080dc" opacity="0.3"/>
<circle cx="196.82" cy="309.31" r="0.5" fill="#8080dc" opacity="0.3"/>
<circle cx="204.98" cy="305.69" r="0.5" fill="#8080dc" opacity="0.3"/>
<circle cx="196.2" cy="306.3" r="0.5" fill="#8080dc" opacity="0.3"/>
<circle cx="199.46" cy="302.47" r="0.5" fill="#8080dc" opacity="0.3"/>
<circle cx="198.65" cy="304.65" r="0.5" fill="#8080dc" opacity="0.3"/>
<circle cx="205.58" cy="307.92" r="0.5" fill="#8080dc" opacity="0.3"/>
<circle cx="198.97" cy="306.97" r="0.5" fill="#8080dc" opacity="0.3"/>
<circle cx="202.71" cy="304.16" r="0.5" fill="#8080dc" opacity="0.3"/>
<circle cx="197.6" cy="294.42" r="0.5" fill="#8080dc" opacity="0.3"/>
<circle cx="193.74" cy="305.36" r="0.5" fill="#8080dc" opacity="0.3"/>
<circle cx="198.82" cy="294.98" r="0.5" fill="#8080dc" opacity="0.3"/>
<circle cx="202.66" cy="294.65" r="0.5" fill="#8080dc" opacity="0.3"/>
<circle cx="197.82" cy="296.79" r="0.5" fill="#8080dc" opacity="0.3"/>
<circle cx="199.21" cy="289" r="0.5" fill="#8080dc" opacity="0.3"/>
<circle cx="201.38" cy="300.5" r="0.5" fill="#8080dc" opacity="0.3"/>
<circle cx="201.74" cy="303.96" r="0.5" fill="#8080dc" opacity="0.3"/>
<circle cx="198.4" cy="306.48" r="0.5" fill="#8080dc" opacity="0.3"/>
<circle cx="204.18" cy="301.47" r="0.5" fill="#8080dc" opacity="0.3"/>
<circle cx="197.97" cy="296.64" r="0.5" fill="#8080dc" opacity="0.3"/>
<circle cx="203.46" cy="292.3" r="0.5" fill="#8080dc" opacity="0.3"/>
<circle cx="199.2" cy="294.75" r="0.5" fill="#8080dc" opacity="0.3"/>
<circle cx="193.03" cy="304.23" r="0.5" fill="#8080dc" opacity="0.3"/>
<circle cx="199.87" cy="300.25" r="0.5" fill="#8080dc" opacity="0.3"/>
<circle cx="204.37" cy="289.54" r="0.5" fill="#8080dc" opacity="0.3"/>
<circle cx="199.66" cy="302.02" r="0.5" fill="#8080dc" opacity="0.3"/>
<circle cx="204.16" cy="292.41" r="0.5" fill="#8080dc" opacity="0.3"/>
<circle cx="203.58" cy="301.54" r="0.5" fill="#8080dc" opacity="0.3"/>
<circle cx="199.99" cy="297.03" r="0.5" fill="#8080dc" opacity="0.3"/>
<circle cx="198.3" cy="293.42" r="0.5" fill="#8080dc" opacity="0.3"/>
<circle cx="199.86" cy="286.85" r="0.5" fill="#8080dc" opacity="0.3"/>
<circle cx="199.58" cy="302.98" r="0.5" fill="#8080dc" opacity="0.3"/>
<circle cx="204.96" cy="297.57" r="0.5" fill="#8080dc" opacity="0.3"/>
<circle cx="199.33" cy="286.86" r="0.5" fill="#8080dc" opacity="0.3"/>
<circle cx="196.19" cy="294.46" r="0.5" fill="#8080dc" opacity="0.3"/>
<circle cx="194.61" cy="303.65" r="0.5" fill="#8080dc" opacity="0.3"/>
<circle cx="202.35" cy="298.4" r="0.5" fill="#8080dc" opacity="0.3"/>
<circle cx="200.11" cy="297.91" r="0.5" fill="#8080dc" opacity="0.3"/>
<circle cx="197.35" cy="287.88" r="0.5" fill="#8080dc" opacity="0.3"/>
<circle cx="199.56" cy="308.78" r="0.5" fill="#8080dc" opacity="0.3"/>
<circle cx="196.35" cy="298.55" r="0.5" fill="#8080dc" opacity="0.3"/>
<circle cx="204.38" cy="302.4" r="0.5" fill="#8080dc" opacity="0.3"/>
<circle cx="197.15" cy="302.47" r="0.5" fill="#8080dc" opacity="0.3"/>
<circle cx="198.99" cy="303.52" r="0.5" fill="#8080dc" opacity="0.3"/>
<circle cx="198.01" cy="289.95" r="0.5" fill="#8080dc" opacity="0.3"/>
<circle cx="200.28" cy="305.19" r="0.5" fill="#8080dc" opacity="0.3"/>
<circle cx="194.6" cy="299.27" r="0.5" fill="#8080dc" opacity="0.3"/>
<circle cx="204.28" cy="297.44" r="0.5" fill="#8080dc" opacity="0.3"/>
<circle cx="204.04" cy="307.01" r="0.5" fill="#8080dc" opacity="0.3"/>
<circle cx="191.93" cy="296.47" r="0.5" fill="#8080dc" opacity="0.3"/>
<circle cx="204.8" cy="309.07" r="0.5" fill="#3a44d8" opacity="0.3"/>
<circle cx="200.74" cy="295.48" r="0.5" fill="#3a44d8" opacity="0.3"/>
<circle cx="204.55" cy="303.81" r="0.5" fill="#3a44d8" opacity="0.3"/>
<circle cx="201.91" cy="303.66" r="0.5" fill="#3a44d8" opacity="0.3"/>
<circle cx="204.89" cy="302.1" r="0.5" fill="#3a44d8" opacity="0.3"/>
<circle cx="204.27" cy="310.29" r="0.5" fill="#3a44d8" opacity="0.3"/>
<circle cx="201.84" cy="301.1" r="0.5" fill="#3a44d8" opacity="0.3"/>
<circle cx="201.73" cy="307.03" r="0.5" fill="#3a44d8" opacity="0.3"/>
<circle cx="202.01" cy="303.22" r="0.5" fill="#3a44d8" opacity="0.3"/>
<circle cx="203.33" cy="300.45" r="0.5" fill="#3a44d8" opacity="0.3"/>
<circle cx="205.25" cy="305.12" r="0.5" fill="#3a44d8" opacity="0.3"/>
<circle cx="201.51" cy="301.82" r="0.5" fill="#3a44d8" opacity="0.3"/>
<circle cx="202.69" cy="299.76" r="0.5" fill="#3a44d8" opacity="0.3"/>
<circle cx="198.94" cy="288.22" r="0.5" fill="#3a44d8" opacity="0.3"/>
<circle cx="201.91" cy="295.64" r="0.5" fill="#3a44d8" opacity="0.3"/>
<circle cx="203.03" cy="303.82" r="0.5" fill="#3a44d8" opacity="0.3"/>
<circle cx="204.12" cy="295.04" r="0.5" fill="#3a44d8" opacity="0.3"/>
<circle cx="204.4" cy="309.18" r="0.5" fill="#3a44d8" opacity="0.3"/>
<circle cx="205.15" cy="310.69" r="0.5" fill="#3a44d8" opacity="0.3"/>
<circle cx="204.99" cy="289.91" r="0.5" fill="#3a44d8" opacity="0.3"/>
<circle cx="202.26" cy="303.96" r="0.5" fill="#3a44d8" opacity="0.3"/>
<circle cx="204" cy="294.53" r="0.5" fill="#3a44d8" opacity="0.3"/>
<circle cx="200.86" cy="306.51" r="0.5" fill="#3a44d8" opacity="0.3"/>
<circle cx="199.79" cy="309.67" r="0.5" fill="#3a44d8" opacity="0.3"/>
<circle cx="203.05" cy="302.03" r="0.5" fill="#3a44d8" opacity="0.3"/>
<circle cx="199.79" cy="295.98" r="0.5" fill="#3a44d8" opacity="0.3"/>
<circle cx="204.66" cy="290.09" r="0.5" fill="#3a44d8" opacity="0.3"/>
<circle cx="200.06" cy="300.29" r="0.5" fill="#3a44d8" opacity="0.3"/>
<circle cx="204.16" cy="304.94" r="0.5" fill="#3a44d8" opacity="0.3"/>
<circle cx="202.11" cy="298.6" r="0.5" fill="#3a44d8" opacity="0.3"/>
<circle cx="202.43" cy="296.13" r="0.5" fill="#3a44d8" opacity="0.3"/>
<circle cx="196.8" cy="306.47" r="0.5" fill="#3a44d8" opacity="0.3"/>
<circle cx="203.6" cy="301.07" r="0.5" fill="#3a44d8" opacity="0.3"/>
<circle cx="201.49" cy="301.69" r="0.5" fill="#3a44d8" opacity="0.3"/>
<circle cx="202.97" cy="299.48" r="0.5" fill="#3a44d8" opacity="0.3"/>
<circle cx="205.66" cy="288.42" r="0.5" fill="#3a44d8" opacity="0.3"/>
<circle cx="203.61" cy="292.83" r="0.5" fill="#3a44d8" opacity="0.3"/>
<circle cx="202.24" cy="310.08" r="0.5" fill="#3a44d8" opacity="0.3"/>
<circle cx="200.4" cy="299.33" r="0.5" fill="#3a44d8" opacity="0.3"/>
<circle cx="201.58" cy="306.39" r="0.5" fill="#3a44d8" opacity="0.3"/>
<circle cx="200.65" cy="288.68" r="0.5" fill="#3a44d8" opacity="0.3"/>
<circle cx="204.23" cy="297.62" r="0.5" fill="#3a44d8" opacity="0.3"/>
<circle cx="202.23" cy="307.26" r="0.5" fill="#3a44d8" opacity="0.3"/>
<circle cx="200.87" cy="297.49" r="0.5" fill="#3a44d8" opacity="0.3"/>
<circle cx="203.35" cy="302.78" r="0.5" fill="#3a44d8" opacity="0.3"/>
<circle cx="201.76" cy="306.96" r="0.5" fill="#3a44d8" opacity="0.3"/>
<circle cx="203.33" cy="297.72" r="0.5" fill="#3a44d8" opacity="0.3"/>
<circle cx="201.47" cy="291.41" r="0.5" fill="#3a44d8" opacity="0.3"/>
<circle cx="202.05" cy="308.71" r="0.5" fill="#3a44d8" opacity="0.3"/>
<circle cx="205.74" cy="297.66" r="0.5" fill="#3a44d8" opacity="0.3"/>
<circle cx="201.73" cy="295.28" r="0.5" fill="#3a44d8" opacity="0.3"/>
<circle cx="204.59" cy="300.79" r="0.5" fill="#3a44d8" opacity="0.3"/>
<circle cx="201.82" cy="293.13" r="0.5" fill="#3a44d8" opacity="0.3"/>
<circle cx="200.71" cy="306.65" r="0.5" fill="#3a44d8" opacity="0.3"/>
<circle cx="200.34" cy="304.31" r="0.5" fill="#3a44d8" opacity="0.3"/>
<circle cx="200.69" cy="297.21" r="0.5" fill="#3a44d8" opacity="0.3"/>
<circle cx="204.19" cy="302.91" r="0.5" fill="#3a44d8" opacity="0.3"/>
<path d="M201.6 290.2 C202.17 289.9 203.6 288.9 205 288.4 C206.4 287.9 208.05 287.47 210 287.2 C211.95 286.93 214.9 286.73 216.7 286.8 C218.5 286.87 219.92 286.98 220.8 287.6 C221.68 288.22 221.97 288.93 222 290.5 C222.03 292.07 221.37 294.92 221 297 C220.63 299.08 220.05 300.5 219.8 303 C219.55 305.5 222.2 310.5 219.5 312 C216.8 313.5 206.45 313.67 203.6 312 C200.75 310.33 202.73 305.63 202.4 302 C202.07 298.37 201.73 292.17 201.6 290.2 Z" fill="#a8a8ee" filter="url(#b10)" opacity="0.6"/>
<path d="M202.4 290.6 C202.92 290.3 204.23 289.25 205.5 288.8 C206.77 288.35 208.13 288.13 210 287.9 C211.87 287.67 215 287.32 216.7 287.4 C218.4 287.48 219.48 287.8 220.2 288.4 C220.92 289 221.05 289.57 221 291 C220.95 292.43 220.27 295 219.9 297 C219.53 299 219.05 300.5 218.8 303 C218.55 305.5 220.77 310.5 218.4 312 C216.03 313.5 207.1 313.67 204.6 312 C202.1 310.33 203.77 305.57 203.4 302 C203.03 298.43 202.57 292.5 202.4 290.6 Z" fill="#1410c8" filter="url(#b06)"/>
<path d="M204.8 291.6 C205.33 291.37 206.8 290.55 208 290.2 C209.2 289.85 210.53 289.65 212 289.5 C213.47 289.35 215.63 289.12 216.8 289.3 C217.97 289.48 218.7 289.32 219 290.6 C219.3 291.88 218.9 294.93 218.6 297 C218.3 299.07 217.53 300.5 217.2 303 C216.87 305.5 218.37 310.5 216.6 312 C214.83 313.5 208.4 313.67 206.6 312 C204.8 310.33 206.1 305.4 205.8 302 C205.5 298.6 204.97 293.33 204.8 291.6 Z" fill="#1238f8" filter="url(#b06)"/>
<path d="M206.6 291.8 C207.17 291.52 208.77 290.43 210 290.1 C211.23 289.77 212.77 289.65 214 289.8 C215.23 289.95 216.9 290.13 217.4 291 C217.9 291.87 217.3 293.67 217 295 C216.7 296.33 215.97 297.5 215.6 299 C215.23 300.5 214.9 301.83 214.8 304 C214.7 306.17 216.03 310.67 215 312 C213.97 313.33 209.63 313.33 208.6 312 C207.57 310.67 208.9 306.33 208.8 304 C208.7 301.67 208.37 300.03 208 298 C207.63 295.97 206.83 292.83 206.6 291.8 Z" fill="#18c4ec" filter="url(#b06)"/>
<path d="M207.4 291.5 C207.92 291.3 209.4 290.53 210.5 290.3 C211.6 290.07 212.97 289.93 214 290.1 C215.03 290.27 216.37 290.57 216.7 291.3 C217.03 292.03 216.37 293.3 216 294.5 C215.63 295.7 214.9 297.25 214.5 298.5 C214.1 299.75 213.82 300.83 213.6 302 C213.38 303.17 213.73 304.92 213.2 305.5 C212.67 306.08 210.93 306.08 210.4 305.5 C209.87 304.92 210.23 303.17 210 302 C209.77 300.83 209.37 299.75 209 298.5 C208.63 297.25 208.07 295.67 207.8 294.5 C207.53 293.33 207.47 292 207.4 291.5 Z" fill="#40dc50" filter="url(#b06)"/>
<ellipse cx="212.3" cy="293.2" rx="2.7" ry="2.6" fill="#e2e41e" filter="url(#b06)"/>
<ellipse cx="212.3" cy="292.9" rx="1.1" ry="1" fill="#eeb010" filter="url(#b06)"/>
</g>
<circle cx="215.41" cy="266.98" r="0.5" fill="#4a52d0" opacity="0.42"/>
<circle cx="217.05" cy="277.45" r="0.5" fill="#4a52d0" opacity="0.42"/>
<circle cx="212.47" cy="273.23" r="0.5" fill="#4a52d0" opacity="0.42"/>
<circle cx="210.26" cy="270.27" r="0.5" fill="#4a52d0" opacity="0.42"/>
<circle cx="208.7" cy="271.43" r="0.5" fill="#4a52d0" opacity="0.42"/>
<circle cx="213.07" cy="277.45" r="0.5" fill="#4a52d0" opacity="0.42"/>
<circle cx="215.23" cy="274.91" r="0.5" fill="#4a52d0" opacity="0.42"/>
<circle cx="211.46" cy="269.92" r="0.5" fill="#4a52d0" opacity="0.42"/>
<circle cx="211.52" cy="272.07" r="0.5" fill="#4a52d0" opacity="0.42"/>
<circle cx="206.94" cy="274.7" r="0.5" fill="#4a52d0" opacity="0.42"/>
<circle cx="207.99" cy="268.53" r="0.5" fill="#4a52d0" opacity="0.42"/>
<circle cx="212.56" cy="268.54" r="0.5" fill="#4a52d0" opacity="0.42"/>
<circle cx="217.29" cy="270.53" r="0.5" fill="#4a52d0" opacity="0.42"/>
<circle cx="217.03" cy="276.63" r="0.5" fill="#4a52d0" opacity="0.42"/>
<circle cx="211.07" cy="272.92" r="0.5" fill="#4a52d0" opacity="0.42"/>
<circle cx="216.24" cy="269.4" r="0.5" fill="#4a52d0" opacity="0.42"/>
<circle cx="212.75" cy="268.32" r="0.5" fill="#4a52d0" opacity="0.42"/>
<circle cx="212.67" cy="269.3" r="0.5" fill="#4a52d0" opacity="0.42"/>
<circle cx="212.74" cy="275.81" r="0.5" fill="#4a52d0" opacity="0.42"/>
<circle cx="216.51" cy="271.64" r="0.5" fill="#4a52d0" opacity="0.42"/>
<circle cx="213.08" cy="275.11" r="0.5" fill="#4a52d0" opacity="0.42"/>
<circle cx="211.66" cy="265.92" r="0.5" fill="#4a52d0" opacity="0.42"/>
<circle cx="215.7" cy="266.51" r="0.5" fill="#4a52d0" opacity="0.42"/>
<circle cx="215.18" cy="266.37" r="0.5" fill="#4a52d0" opacity="0.42"/>
<circle cx="217.77" cy="265.99" r="0.5" fill="#4a52d0" opacity="0.42"/>
<circle cx="214.95" cy="278.2" r="0.5" fill="#4a52d0" opacity="0.42"/>
<circle cx="209.73" cy="278.13" r="0.5" fill="#4a52d0" opacity="0.42"/>
<circle cx="214.58" cy="274.37" r="0.5" fill="#4a52d0" opacity="0.42"/>
<circle cx="212.34" cy="269.53" r="0.5" fill="#4a52d0" opacity="0.42"/>
<circle cx="211.41" cy="269.61" r="0.5" fill="#4a52d0" opacity="0.42"/>
<circle cx="207.34" cy="268.28" r="0.5" fill="#4a52d0" opacity="0.42"/>
<circle cx="217.68" cy="278.42" r="0.5" fill="#4a52d0" opacity="0.42"/>
<circle cx="211.46" cy="267.58" r="0.5" fill="#4a52d0" opacity="0.42"/>
<circle cx="213.64" cy="276.1" r="0.5" fill="#4a52d0" opacity="0.42"/>
<circle cx="214.58" cy="265.39" r="0.5" fill="#4a52d0" opacity="0.42"/>
<circle cx="212.97" cy="271.67" r="0.5" fill="#4a52d0" opacity="0.42"/>
<circle cx="216.64" cy="276.74" r="0.5" fill="#4a52d0" opacity="0.42"/>
<circle cx="214.01" cy="276.84" r="0.5" fill="#4a52d0" opacity="0.42"/>
<circle cx="211.36" cy="278.38" r="0.5" fill="#4a52d0" opacity="0.42"/>
<circle cx="211.27" cy="272.9" r="0.5" fill="#4a52d0" opacity="0.42"/>
<circle cx="215.14" cy="266.61" r="0.5" fill="#4a52d0" opacity="0.42"/>
<circle cx="212.97" cy="270.74" r="0.5" fill="#4a52d0" opacity="0.42"/>
<circle cx="211.56" cy="273.39" r="0.5" fill="#4a52d0" opacity="0.42"/>
<circle cx="206.41" cy="270.89" r="0.5" fill="#4a52d0" opacity="0.42"/>
<circle cx="212.75" cy="269.72" r="0.5" fill="#4a52d0" opacity="0.42"/>
<circle cx="214.79" cy="279.41" r="0.5" fill="#4a52d0" opacity="0.42"/>
<circle cx="211.22" cy="266.49" r="0.5" fill="#4a52d0" opacity="0.42"/>
<circle cx="210.76" cy="271.45" r="0.5" fill="#4a52d0" opacity="0.42"/>
<circle cx="214.19" cy="266.87" r="0.5" fill="#4a52d0" opacity="0.42"/>
<circle cx="215.38" cy="266.08" r="0.5" fill="#4a52d0" opacity="0.42"/>
<circle cx="214.88" cy="273.05" r="0.5" fill="#4a52d0" opacity="0.42"/>
<circle cx="213.84" cy="281.36" r="0.5" fill="#4a52d0" opacity="0.42"/>
<circle cx="211.74" cy="270.21" r="0.5" fill="#4a52d0" opacity="0.42"/>
<circle cx="213.87" cy="275.14" r="0.5" fill="#4a52d0" opacity="0.42"/>
<circle cx="208.64" cy="272.32" r="0.5" fill="#4a52d0" opacity="0.42"/>
<circle cx="210.36" cy="274.03" r="0.5" fill="#4a52d0" opacity="0.42"/>
<circle cx="216.44" cy="271.25" r="0.5" fill="#4a52d0" opacity="0.42"/>
<circle cx="212.19" cy="271.88" r="0.5" fill="#4a52d0" opacity="0.42"/>
<circle cx="203.99" cy="274.7" r="0.5" fill="#4a52d0" opacity="0.42"/>
<circle cx="214.12" cy="271.79" r="0.5" fill="#4a52d0" opacity="0.42"/>
<circle cx="211.36" cy="267.49" r="0.5" fill="#4a52d0" opacity="0.42"/>
<circle cx="211.98" cy="276.82" r="0.5" fill="#4a52d0" opacity="0.42"/>
<circle cx="212.21" cy="277.47" r="0.5" fill="#4a52d0" opacity="0.42"/>
<circle cx="205.09" cy="268.79" r="0.5" fill="#4a52d0" opacity="0.42"/>
<circle cx="213.29" cy="270.94" r="0.5" fill="#4a52d0" opacity="0.42"/>
<circle cx="207.72" cy="267.81" r="0.5" fill="#4a52d0" opacity="0.42"/>
<circle cx="216.1" cy="264.8" r="0.5" fill="#4a52d0" opacity="0.42"/>
<circle cx="209.65" cy="265.73" r="0.5" fill="#4a52d0" opacity="0.42"/>
<circle cx="210.91" cy="274.09" r="0.5" fill="#4a52d0" opacity="0.42"/>
<circle cx="216.7" cy="268.16" r="0.5" fill="#4a52d0" opacity="0.42"/>
<circle cx="210.81" cy="279" r="0.5" fill="#4a52d0" opacity="0.42"/>
<circle cx="212.26" cy="265.05" r="0.5" fill="#4a52d0" opacity="0.42"/>
<circle cx="210.66" cy="267.51" r="0.5" fill="#4a52d0" opacity="0.42"/>
<circle cx="209.59" cy="269.4" r="0.5" fill="#4a52d0" opacity="0.42"/>
<circle cx="215.03" cy="272.68" r="0.5" fill="#4a52d0" opacity="0.42"/>
<circle cx="208.52" cy="284.38" r="0.5" fill="#4a52d0" opacity="0.42"/>
<circle cx="209.65" cy="271.56" r="0.5" fill="#4a52d0" opacity="0.42"/>
<circle cx="212.59" cy="274.65" r="0.5" fill="#4a52d0" opacity="0.42"/>
<circle cx="211.55" cy="273.19" r="0.5" fill="#4a52d0" opacity="0.42"/>
<circle cx="218.56" cy="271.46" r="0.5" fill="#4a52d0" opacity="0.42"/>
<circle cx="209.38" cy="272.58" r="0.5" fill="#4a52d0" opacity="0.42"/>
<circle cx="210.19" cy="269.22" r="0.5" fill="#4a52d0" opacity="0.42"/>
<circle cx="213.04" cy="272.62" r="0.5" fill="#4a52d0" opacity="0.42"/>
<circle cx="211.68" cy="275.07" r="0.5" fill="#4a52d0" opacity="0.42"/>
<circle cx="211.94" cy="264.74" r="0.5" fill="#4a52d0" opacity="0.42"/>
<circle cx="215.03" cy="269.25" r="0.5" fill="#4a52d0" opacity="0.42"/>
<circle cx="215.99" cy="267.86" r="0.5" fill="#4a52d0" opacity="0.42"/>
<circle cx="214.15" cy="272.51" r="0.5" fill="#4a52d0" opacity="0.42"/>
<circle cx="204.73" cy="263.83" r="0.5" fill="#4a52d0" opacity="0.42"/>
<circle cx="209.28" cy="277.75" r="0.5" fill="#4a52d0" opacity="0.42"/>
<circle cx="207.06" cy="275.39" r="0.5" fill="#4a52d0" opacity="0.42"/>
<circle cx="215.65" cy="273.38" r="0.5" fill="#4a52d0" opacity="0.42"/>
<circle cx="214.44" cy="268.62" r="0.5" fill="#4a52d0" opacity="0.42"/>
<circle cx="212.47" cy="272.08" r="0.5" fill="#4a52d0" opacity="0.42"/>
<circle cx="213.71" cy="274.39" r="0.5" fill="#4a52d0" opacity="0.42"/>
<circle cx="211.9" cy="267.63" r="0.5" fill="#4a52d0" opacity="0.42"/>
<circle cx="210.88" cy="272.97" r="0.5" fill="#4a52d0" opacity="0.42"/>
<circle cx="207.72" cy="264.98" r="0.5" fill="#4a52d0" opacity="0.42"/>
<circle cx="211.31" cy="268.35" r="0.5" fill="#4a52d0" opacity="0.42"/>
<circle cx="211.52" cy="269.79" r="0.5" fill="#4a52d0" opacity="0.42"/>
<circle cx="211.62" cy="273.28" r="0.5" fill="#4a52d0" opacity="0.42"/>
<circle cx="213.91" cy="276.74" r="0.5" fill="#4a52d0" opacity="0.42"/>
<circle cx="215.54" cy="265.96" r="0.5" fill="#4a52d0" opacity="0.42"/>
<circle cx="214.33" cy="269.39" r="0.5" fill="#4a52d0" opacity="0.42"/>
<circle cx="210.19" cy="278.37" r="0.5" fill="#4a52d0" opacity="0.42"/>
<circle cx="210.69" cy="266.9" r="0.5" fill="#4a52d0" opacity="0.42"/>
<circle cx="211.32" cy="266.91" r="0.5" fill="#4a52d0" opacity="0.42"/>
<circle cx="215.4" cy="272.83" r="0.5" fill="#4a52d0" opacity="0.42"/>
<circle cx="216.54" cy="272.98" r="0.5" fill="#4a52d0" opacity="0.42"/>
<circle cx="210.73" cy="276.04" r="0.5" fill="#4a52d0" opacity="0.42"/>
<circle cx="210.61" cy="268.78" r="0.5" fill="#4a52d0" opacity="0.42"/>
<circle cx="212.02" cy="271.19" r="0.5" fill="#4a52d0" opacity="0.42"/>
<circle cx="215.95" cy="268.09" r="0.5" fill="#4a52d0" opacity="0.42"/>
<circle cx="213.52" cy="270.87" r="0.5" fill="#4a52d0" opacity="0.42"/>
<circle cx="208.87" cy="265.73" r="0.5" fill="#4a52d0" opacity="0.42"/>
<circle cx="211.87" cy="272.95" r="0.5" fill="#4a52d0" opacity="0.42"/>
<circle cx="213.43" cy="273.31" r="0.5" fill="#4a52d0" opacity="0.42"/>
<circle cx="212.64" cy="268.84" r="0.5" fill="#4a52d0" opacity="0.42"/>
<circle cx="213.73" cy="266.17" r="0.5" fill="#4a52d0" opacity="0.42"/>
<circle cx="208.62" cy="269.4" r="0.5" fill="#4a52d0" opacity="0.42"/>
<circle cx="208.37" cy="268.52" r="0.5" fill="#4a52d0" opacity="0.42"/>
<circle cx="210.34" cy="268.33" r="0.5" fill="#4a52d0" opacity="0.42"/>
<circle cx="212.37" cy="267.14" r="0.5" fill="#4a52d0" opacity="0.42"/>
<circle cx="212.92" cy="266.76" r="0.5" fill="#4a52d0" opacity="0.42"/>
<circle cx="210.18" cy="272.17" r="0.5" fill="#4a52d0" opacity="0.42"/>
<circle cx="205.44" cy="269.26" r="0.5" fill="#4a52d0" opacity="0.42"/>
<circle cx="212.77" cy="271.5" r="0.5" fill="#4a52d0" opacity="0.42"/>
<circle cx="208.17" cy="272.11" r="0.5" fill="#4a52d0" opacity="0.42"/>
<circle cx="212.93" cy="266.31" r="0.5" fill="#4a52d0" opacity="0.42"/>
<circle cx="214.65" cy="270.76" r="0.5" fill="#4a52d0" opacity="0.42"/>
<circle cx="212.55" cy="268.83" r="0.5" fill="#4a52d0" opacity="0.42"/>
<circle cx="214.09" cy="271.47" r="0.5" fill="#4a52d0" opacity="0.42"/>
<circle cx="215.79" cy="273.18" r="0.5" fill="#4a52d0" opacity="0.42"/>
<circle cx="210.71" cy="269.92" r="0.5" fill="#4a52d0" opacity="0.42"/>
<circle cx="215.16" cy="269.24" r="0.5" fill="#4a52d0" opacity="0.42"/>
<circle cx="213.61" cy="273.52" r="0.5" fill="#4a52d0" opacity="0.42"/>
<circle cx="212.88" cy="272.03" r="0.5" fill="#4a52d0" opacity="0.42"/>
<circle cx="212.89" cy="267.33" r="0.5" fill="#4a52d0" opacity="0.42"/>
<circle cx="216.01" cy="270.35" r="0.5" fill="#4a52d0" opacity="0.42"/>
<circle cx="210.69" cy="267.53" r="0.5" fill="#4a52d0" opacity="0.42"/>
<circle cx="213.54" cy="265.73" r="0.5" fill="#4a52d0" opacity="0.42"/>
<circle cx="209.6" cy="280.67" r="0.5" fill="#4a52d0" opacity="0.42"/>
<circle cx="216.3" cy="276.1" r="0.5" fill="#4a52d0" opacity="0.42"/>
<circle cx="216.46" cy="273.88" r="0.5" fill="#4a52d0" opacity="0.42"/>
<circle cx="207.61" cy="276.78" r="0.5" fill="#4a52d0" opacity="0.42"/>
<circle cx="216.1" cy="273.37" r="0.5" fill="#4a52d0" opacity="0.42"/>
<circle cx="206.82" cy="277.01" r="0.5" fill="#4a52d0" opacity="0.42"/>
<circle cx="216.46" cy="268.62" r="0.5" fill="#4a52d0" opacity="0.42"/>
<circle cx="212.87" cy="274.76" r="0.5" fill="#4a52d0" opacity="0.42"/>
<circle cx="212.25" cy="276.32" r="0.5" fill="#4a52d0" opacity="0.42"/>
<circle cx="212.74" cy="274.35" r="0.5" fill="#4a52d0" opacity="0.42"/>
<circle cx="212.75" cy="263.84" r="0.5" fill="#4a52d0" opacity="0.42"/>
<circle cx="213.31" cy="277.35" r="0.5" fill="#4a52d0" opacity="0.42"/>
<circle cx="215.81" cy="279.31" r="0.5" fill="#4a52d0" opacity="0.42"/>
<circle cx="214.11" cy="268.11" r="0.5" fill="#4a52d0" opacity="0.42"/>
<circle cx="211.95" cy="275.39" r="0.5" fill="#4a52d0" opacity="0.42"/>
<circle cx="206.21" cy="271.95" r="0.5" fill="#4a52d0" opacity="0.42"/>
<circle cx="214.9" cy="277.44" r="0.5" fill="#4a52d0" opacity="0.42"/>
<circle cx="209.8" cy="267.84" r="0.5" fill="#4a52d0" opacity="0.42"/>
<rect x="202.5" y="263.3" width="18.3" height="22.4" fill="none" stroke="#2a2a2a" stroke-width="1" />
<text x="224" y="273.9" font-size="8.4" textLength="9.6" lengthAdjust="spacingAndGlyphs">1.4</text>
<g clip-path="url(#cpE2)">
<path d="M246.5 291 C247.42 290.83 250.02 290.1 252 290 C253.98 289.9 257.15 286.73 258.4 290.4 C259.65 294.07 261.48 308.4 259.5 312 C257.52 315.6 248.67 315.5 246.5 312 C244.33 308.5 246.5 294.5 246.5 291 Z" fill="#ccccf2" filter="url(#b15)" opacity="0.5"/>
<circle cx="248.44" cy="309.37" r="0.5" fill="#8c8cdc" opacity="0.28"/>
<circle cx="256.07" cy="296.64" r="0.5" fill="#8c8cdc" opacity="0.28"/>
<circle cx="253.67" cy="301.49" r="0.5" fill="#8c8cdc" opacity="0.28"/>
<circle cx="258.76" cy="309.28" r="0.5" fill="#8c8cdc" opacity="0.28"/>
<circle cx="256.49" cy="302.45" r="0.5" fill="#8c8cdc" opacity="0.28"/>
<circle cx="253.11" cy="297.22" r="0.5" fill="#8c8cdc" opacity="0.28"/>
<circle cx="255.28" cy="299.77" r="0.5" fill="#8c8cdc" opacity="0.28"/>
<circle cx="253.48" cy="298.19" r="0.5" fill="#8c8cdc" opacity="0.28"/>
<circle cx="250.37" cy="299.85" r="0.5" fill="#8c8cdc" opacity="0.28"/>
<circle cx="251.87" cy="301.39" r="0.5" fill="#8c8cdc" opacity="0.28"/>
<circle cx="258.2" cy="305.56" r="0.5" fill="#8c8cdc" opacity="0.28"/>
<circle cx="257.48" cy="305.58" r="0.5" fill="#8c8cdc" opacity="0.28"/>
<circle cx="257.28" cy="309.6" r="0.5" fill="#8c8cdc" opacity="0.28"/>
<circle cx="258.9" cy="309.18" r="0.5" fill="#8c8cdc" opacity="0.28"/>
<circle cx="251.56" cy="299.98" r="0.5" fill="#8c8cdc" opacity="0.28"/>
<circle cx="250.45" cy="306.52" r="0.5" fill="#8c8cdc" opacity="0.28"/>
<circle cx="258.04" cy="296.83" r="0.5" fill="#8c8cdc" opacity="0.28"/>
<circle cx="260.02" cy="292.4" r="0.5" fill="#8c8cdc" opacity="0.28"/>
<circle cx="253.55" cy="304.33" r="0.5" fill="#8c8cdc" opacity="0.28"/>
<circle cx="253.83" cy="302.63" r="0.5" fill="#8c8cdc" opacity="0.28"/>
<circle cx="259.74" cy="302.24" r="0.5" fill="#8c8cdc" opacity="0.28"/>
<circle cx="248.66" cy="304.87" r="0.5" fill="#8c8cdc" opacity="0.28"/>
<circle cx="253.53" cy="300.78" r="0.5" fill="#8c8cdc" opacity="0.28"/>
<circle cx="251.24" cy="290.57" r="0.5" fill="#8c8cdc" opacity="0.28"/>
<circle cx="247.93" cy="297.59" r="0.5" fill="#8c8cdc" opacity="0.28"/>
<circle cx="259.59" cy="292.08" r="0.5" fill="#8c8cdc" opacity="0.28"/>
<circle cx="250.47" cy="303.62" r="0.5" fill="#8c8cdc" opacity="0.28"/>
<circle cx="250.26" cy="304.5" r="0.5" fill="#8c8cdc" opacity="0.28"/>
<circle cx="251.65" cy="302.08" r="0.5" fill="#8c8cdc" opacity="0.28"/>
<circle cx="254.51" cy="299.99" r="0.5" fill="#8c8cdc" opacity="0.28"/>
<circle cx="253.8" cy="309.61" r="0.5" fill="#8c8cdc" opacity="0.28"/>
<circle cx="251.34" cy="303.63" r="0.5" fill="#8c8cdc" opacity="0.28"/>
<circle cx="254.79" cy="303.3" r="0.5" fill="#8c8cdc" opacity="0.28"/>
<circle cx="258.83" cy="289.78" r="0.5" fill="#8c8cdc" opacity="0.28"/>
<circle cx="255.34" cy="298.79" r="0.5" fill="#8c8cdc" opacity="0.28"/>
<circle cx="252.48" cy="294.18" r="0.5" fill="#8c8cdc" opacity="0.28"/>
<circle cx="250.17" cy="292.98" r="0.5" fill="#8c8cdc" opacity="0.28"/>
<circle cx="257.62" cy="293.34" r="0.5" fill="#8c8cdc" opacity="0.28"/>
<circle cx="254.69" cy="309.82" r="0.5" fill="#8c8cdc" opacity="0.28"/>
<circle cx="253.79" cy="293.17" r="0.5" fill="#8c8cdc" opacity="0.28"/>
<circle cx="252.82" cy="293.2" r="0.5" fill="#8c8cdc" opacity="0.28"/>
<circle cx="247.21" cy="298.42" r="0.5" fill="#8c8cdc" opacity="0.28"/>
<circle cx="252.05" cy="294.46" r="0.5" fill="#8c8cdc" opacity="0.28"/>
<circle cx="249.68" cy="293.66" r="0.5" fill="#8c8cdc" opacity="0.28"/>
<circle cx="255.15" cy="309.5" r="0.5" fill="#8c8cdc" opacity="0.28"/>
<circle cx="246.12" cy="301.87" r="0.5" fill="#8c8cdc" opacity="0.28"/>
<circle cx="248.36" cy="298.9" r="0.5" fill="#8c8cdc" opacity="0.28"/>
<circle cx="254.5" cy="303.81" r="0.5" fill="#8c8cdc" opacity="0.28"/>
<circle cx="259.51" cy="296.21" r="0.5" fill="#8c8cdc" opacity="0.28"/>
<circle cx="247.95" cy="298.72" r="0.5" fill="#8c8cdc" opacity="0.28"/>
<circle cx="255.43" cy="295.24" r="0.5" fill="#8c8cdc" opacity="0.28"/>
<circle cx="247.07" cy="302.47" r="0.5" fill="#8c8cdc" opacity="0.28"/>
<circle cx="255" cy="298.46" r="0.5" fill="#8c8cdc" opacity="0.28"/>
<circle cx="247.06" cy="308.98" r="0.5" fill="#8c8cdc" opacity="0.28"/>
<circle cx="255.06" cy="296.73" r="0.5" fill="#8c8cdc" opacity="0.28"/>
<circle cx="256.16" cy="304.38" r="0.5" fill="#8c8cdc" opacity="0.28"/>
<circle cx="257.75" cy="303.96" r="0.5" fill="#8c8cdc" opacity="0.28"/>
<circle cx="255.99" cy="291.97" r="0.5" fill="#8c8cdc" opacity="0.28"/>
<circle cx="251.95" cy="300.88" r="0.5" fill="#8c8cdc" opacity="0.28"/>
<circle cx="252.15" cy="292.81" r="0.5" fill="#8c8cdc" opacity="0.28"/>
<circle cx="254.16" cy="296.02" r="0.5" fill="#8c8cdc" opacity="0.28"/>
<circle cx="251.97" cy="293.94" r="0.5" fill="#8c8cdc" opacity="0.28"/>
<circle cx="250.35" cy="299.33" r="0.5" fill="#8c8cdc" opacity="0.28"/>
<circle cx="250.86" cy="304.63" r="0.5" fill="#8c8cdc" opacity="0.28"/>
<circle cx="253.31" cy="300.9" r="0.5" fill="#8c8cdc" opacity="0.28"/>
<circle cx="255.98" cy="308.67" r="0.5" fill="#8c8cdc" opacity="0.28"/>
<circle cx="256.93" cy="301.56" r="0.5" fill="#8c8cdc" opacity="0.28"/>
<circle cx="253.2" cy="294.5" r="0.5" fill="#8c8cdc" opacity="0.28"/>
<circle cx="252.33" cy="304.66" r="0.5" fill="#8c8cdc" opacity="0.28"/>
<circle cx="255.1" cy="297.35" r="0.5" fill="#8c8cdc" opacity="0.28"/>
<circle cx="247.51" cy="289.54" r="0.5" fill="#8c8cdc" opacity="0.28"/>
<circle cx="255.57" cy="307.01" r="0.5" fill="#8c8cdc" opacity="0.28"/>
<circle cx="255.82" cy="290.63" r="0.5" fill="#8c8cdc" opacity="0.28"/>
<circle cx="252.96" cy="301.51" r="0.5" fill="#8c8cdc" opacity="0.28"/>
<circle cx="249.53" cy="302.37" r="0.5" fill="#8c8cdc" opacity="0.28"/>
<circle cx="253.02" cy="294.31" r="0.5" fill="#8c8cdc" opacity="0.28"/>
<circle cx="247.95" cy="305.53" r="0.5" fill="#8c8cdc" opacity="0.28"/>
<circle cx="255.74" cy="293.95" r="0.5" fill="#8c8cdc" opacity="0.28"/>
<circle cx="249.06" cy="306.07" r="0.5" fill="#8c8cdc" opacity="0.28"/>
<circle cx="256.9" cy="297.92" r="0.5" fill="#8c8cdc" opacity="0.28"/>
<circle cx="261.76" cy="298.02" r="0.5" fill="#8c8cdc" opacity="0.28"/>
<circle cx="248.85" cy="307.45" r="0.5" fill="#8c8cdc" opacity="0.28"/>
<circle cx="253.08" cy="302.35" r="0.5" fill="#8c8cdc" opacity="0.28"/>
<circle cx="254.19" cy="293.17" r="0.5" fill="#8c8cdc" opacity="0.28"/>
<circle cx="248.22" cy="298.68" r="0.5" fill="#8c8cdc" opacity="0.28"/>
<circle cx="260.85" cy="293.16" r="0.5" fill="#8c8cdc" opacity="0.28"/>
<circle cx="260.62" cy="301.5" r="0.5" fill="#8c8cdc" opacity="0.28"/>
<circle cx="248.58" cy="301.82" r="0.5" fill="#8c8cdc" opacity="0.28"/>
<circle cx="256.76" cy="293.87" r="0.5" fill="#8c8cdc" opacity="0.28"/>
<circle cx="248.6" cy="303" r="0.5" fill="#8c8cdc" opacity="0.28"/>
<circle cx="250.06" cy="289.91" r="0.5" fill="#8c8cdc" opacity="0.28"/>
<circle cx="252.83" cy="301.17" r="0.5" fill="#8c8cdc" opacity="0.28"/>
<circle cx="251.29" cy="291.96" r="0.5" fill="#8c8cdc" opacity="0.28"/>
<circle cx="255.03" cy="288.09" r="0.5" fill="#8c8cdc" opacity="0.28"/>
<circle cx="256.6" cy="303.34" r="0.5" fill="#8c8cdc" opacity="0.28"/>
<circle cx="255.73" cy="301.79" r="0.5" fill="#8c8cdc" opacity="0.28"/>
<circle cx="254.13" cy="290.98" r="0.5" fill="#8c8cdc" opacity="0.28"/>
<circle cx="261.11" cy="303.58" r="0.5" fill="#8c8cdc" opacity="0.28"/>
<circle cx="252.61" cy="292.2" r="0.5" fill="#8c8cdc" opacity="0.28"/>
<circle cx="261.21" cy="303.62" r="0.5" fill="#8c8cdc" opacity="0.28"/>
<circle cx="248.24" cy="304.57" r="0.5" fill="#8c8cdc" opacity="0.28"/>
<circle cx="255.94" cy="297.17" r="0.5" fill="#8c8cdc" opacity="0.28"/>
<circle cx="250.95" cy="307.3" r="0.5" fill="#8c8cdc" opacity="0.28"/>
<circle cx="253.4" cy="305.4" r="0.5" fill="#8c8cdc" opacity="0.28"/>
<circle cx="252.52" cy="304.96" r="0.5" fill="#8c8cdc" opacity="0.28"/>
<circle cx="258.02" cy="293.09" r="0.5" fill="#8c8cdc" opacity="0.28"/>
<circle cx="248.79" cy="299.5" r="0.5" fill="#8c8cdc" opacity="0.28"/>
<circle cx="258.04" cy="301.88" r="0.5" fill="#8c8cdc" opacity="0.28"/>
<circle cx="260.03" cy="290.64" r="0.5" fill="#8c8cdc" opacity="0.28"/>
<circle cx="256.39" cy="295.77" r="0.5" fill="#8c8cdc" opacity="0.28"/>
<circle cx="254.49" cy="302.19" r="0.5" fill="#8c8cdc" opacity="0.28"/>
<circle cx="249.29" cy="298.45" r="0.5" fill="#8c8cdc" opacity="0.28"/>
<circle cx="248.35" cy="301.81" r="0.5" fill="#8c8cdc" opacity="0.28"/>
<circle cx="249.87" cy="296.64" r="0.5" fill="#8c8cdc" opacity="0.28"/>
<circle cx="255.06" cy="295.56" r="0.5" fill="#8c8cdc" opacity="0.28"/>
<circle cx="259.57" cy="295.67" r="0.5" fill="#8c8cdc" opacity="0.28"/>
<circle cx="258.12" cy="301.92" r="0.5" fill="#8c8cdc" opacity="0.28"/>
<circle cx="248.98" cy="298.52" r="0.5" fill="#8c8cdc" opacity="0.28"/>
<circle cx="249.94" cy="297.54" r="0.5" fill="#8c8cdc" opacity="0.28"/>
<circle cx="251.97" cy="310.65" r="0.5" fill="#8c8cdc" opacity="0.28"/>
<circle cx="256.17" cy="291.13" r="0.5" fill="#8c8cdc" opacity="0.28"/>
<circle cx="258.99" cy="302.65" r="0.5" fill="#8c8cdc" opacity="0.28"/>
<circle cx="252.98" cy="298.3" r="0.5" fill="#8c8cdc" opacity="0.28"/>
<circle cx="255.26" cy="297.94" r="0.5" fill="#8c8cdc" opacity="0.28"/>
<circle cx="251.41" cy="297.49" r="0.5" fill="#8c8cdc" opacity="0.28"/>
<circle cx="259.67" cy="295.79" r="0.5" fill="#8c8cdc" opacity="0.28"/>
<circle cx="255.84" cy="292.19" r="0.5" fill="#8c8cdc" opacity="0.28"/>
<circle cx="250.55" cy="290.68" r="0.5" fill="#8c8cdc" opacity="0.28"/>
<circle cx="253.04" cy="304.63" r="0.5" fill="#8c8cdc" opacity="0.28"/>
<circle cx="255.48" cy="296.66" r="0.5" fill="#8c8cdc" opacity="0.28"/>
<circle cx="256.96" cy="297.65" r="0.5" fill="#8c8cdc" opacity="0.28"/>
<circle cx="255.8" cy="301.85" r="0.5" fill="#8c8cdc" opacity="0.28"/>
<circle cx="247.7" cy="305.24" r="0.5" fill="#8c8cdc" opacity="0.28"/>
<circle cx="252.86" cy="296.26" r="0.5" fill="#8c8cdc" opacity="0.28"/>
<circle cx="261.23" cy="303.76" r="0.5" fill="#8c8cdc" opacity="0.28"/>
<circle cx="253.01" cy="304.9" r="0.5" fill="#8c8cdc" opacity="0.28"/>
<circle cx="250.19" cy="296.98" r="0.5" fill="#8c8cdc" opacity="0.28"/>
<circle cx="251.32" cy="298.5" r="0.5" fill="#8c8cdc" opacity="0.28"/>
<circle cx="257.77" cy="296.74" r="0.5" fill="#8c8cdc" opacity="0.28"/>
<circle cx="255.56" cy="296.63" r="0.5" fill="#8c8cdc" opacity="0.28"/>
<circle cx="253" cy="301.14" r="0.5" fill="#8c8cdc" opacity="0.28"/>
<circle cx="248.79" cy="306.86" r="0.5" fill="#8c8cdc" opacity="0.28"/>
<circle cx="255.05" cy="308.67" r="0.5" fill="#8c8cdc" opacity="0.28"/>
<circle cx="258.65" cy="304.34" r="0.5" fill="#8c8cdc" opacity="0.28"/>
<circle cx="253.28" cy="292.65" r="0.5" fill="#8c8cdc" opacity="0.28"/>
<circle cx="252.94" cy="296.89" r="0.5" fill="#8c8cdc" opacity="0.28"/>
<circle cx="255.21" cy="296.85" r="0.5" fill="#8c8cdc" opacity="0.28"/>
<circle cx="259.68" cy="296.82" r="0.5" fill="#8c8cdc" opacity="0.28"/>
<circle cx="252.83" cy="306.26" r="0.5" fill="#8c8cdc" opacity="0.28"/>
<circle cx="254.01" cy="291.8" r="0.5" fill="#8c8cdc" opacity="0.28"/>
<circle cx="256" cy="298.68" r="0.5" fill="#8c8cdc" opacity="0.28"/>
<circle cx="248.9" cy="294.97" r="0.5" fill="#8c8cdc" opacity="0.28"/>
<circle cx="256.33" cy="302.03" r="0.5" fill="#8c8cdc" opacity="0.28"/>
<circle cx="256.03" cy="295.85" r="0.5" fill="#8c8cdc" opacity="0.28"/>
<circle cx="255.14" cy="299.18" r="0.5" fill="#8c8cdc" opacity="0.28"/>
<circle cx="253.11" cy="298.13" r="0.5" fill="#8c8cdc" opacity="0.28"/>
<circle cx="251.27" cy="306.63" r="0.5" fill="#8c8cdc" opacity="0.28"/>
<circle cx="253.43" cy="302.53" r="0.5" fill="#8c8cdc" opacity="0.28"/>
<circle cx="251.91" cy="298.86" r="0.5" fill="#8c8cdc" opacity="0.28"/>
<circle cx="249.41" cy="295.6" r="0.5" fill="#8c8cdc" opacity="0.28"/>
<circle cx="259.87" cy="301.77" r="0.5" fill="#8c8cdc" opacity="0.28"/>
<circle cx="259.91" cy="305.79" r="0.5" fill="#8c8cdc" opacity="0.28"/>
<circle cx="258.44" cy="306.78" r="0.5" fill="#8c8cdc" opacity="0.28"/>
<circle cx="251.08" cy="305.42" r="0.5" fill="#8c8cdc" opacity="0.28"/>
<circle cx="252.45" cy="296.42" r="0.5" fill="#8c8cdc" opacity="0.28"/>
<circle cx="258" cy="294.28" r="0.5" fill="#8c8cdc" opacity="0.28"/>
<circle cx="255.32" cy="302.51" r="0.5" fill="#8c8cdc" opacity="0.28"/>
<circle cx="255.81" cy="297.59" r="0.5" fill="#8c8cdc" opacity="0.28"/>
<circle cx="247.81" cy="300.21" r="0.5" fill="#8c8cdc" opacity="0.28"/>
<circle cx="258.15" cy="305.29" r="0.5" fill="#8c8cdc" opacity="0.28"/>
<circle cx="257.18" cy="307.43" r="0.5" fill="#8c8cdc" opacity="0.28"/>
<circle cx="249.22" cy="299.71" r="0.5" fill="#8c8cdc" opacity="0.28"/>
<circle cx="255.64" cy="306.74" r="0.5" fill="#8c8cdc" opacity="0.28"/>
<circle cx="254.75" cy="303.5" r="0.5" fill="#8c8cdc" opacity="0.28"/>
<circle cx="247.09" cy="295.42" r="0.5" fill="#8c8cdc" opacity="0.28"/>
<circle cx="256.23" cy="304.51" r="0.5" fill="#8c8cdc" opacity="0.28"/>
<circle cx="258.9" cy="301.35" r="0.5" fill="#8c8cdc" opacity="0.28"/>
<circle cx="249.87" cy="299.34" r="0.5" fill="#8c8cdc" opacity="0.28"/>
<circle cx="255.62" cy="298.13" r="0.5" fill="#8c8cdc" opacity="0.28"/>
<circle cx="250.79" cy="297.58" r="0.5" fill="#8c8cdc" opacity="0.28"/>
<circle cx="246.77" cy="293.09" r="0.5" fill="#8c8cdc" opacity="0.28"/>
<circle cx="253.56" cy="297.57" r="0.5" fill="#8c8cdc" opacity="0.28"/>
<circle cx="254.18" cy="309.46" r="0.5" fill="#8c8cdc" opacity="0.28"/>
<circle cx="255.44" cy="299.78" r="0.5" fill="#8c8cdc" opacity="0.28"/>
<circle cx="248.35" cy="292.73" r="0.5" fill="#8c8cdc" opacity="0.28"/>
<circle cx="255.81" cy="294.12" r="0.5" fill="#8c8cdc" opacity="0.28"/>
<circle cx="256.07" cy="292.77" r="0.5" fill="#8c8cdc" opacity="0.28"/>
<circle cx="254.65" cy="299.51" r="0.5" fill="#8c8cdc" opacity="0.28"/>
<circle cx="258.79" cy="297.36" r="0.5" fill="#8c8cdc" opacity="0.28"/>
<circle cx="252.21" cy="301.66" r="0.5" fill="#8c8cdc" opacity="0.28"/>
<circle cx="252.76" cy="296.39" r="0.5" fill="#8c8cdc" opacity="0.28"/>
<circle cx="252.46" cy="303.19" r="0.5" fill="#8c8cdc" opacity="0.28"/>
<circle cx="255.13" cy="304.67" r="0.5" fill="#8c8cdc" opacity="0.28"/>
<circle cx="248.18" cy="301.04" r="0.5" fill="#8c8cdc" opacity="0.28"/>
<circle cx="254.07" cy="290.04" r="0.5" fill="#8c8cdc" opacity="0.28"/>
<circle cx="256.2" cy="309.31" r="0.5" fill="#8c8cdc" opacity="0.28"/>
<circle cx="258.97" cy="289.86" r="0.5" fill="#8c8cdc" opacity="0.28"/>
<circle cx="260.65" cy="306.1" r="0.5" fill="#8c8cdc" opacity="0.28"/>
<circle cx="252.26" cy="303.38" r="0.5" fill="#8c8cdc" opacity="0.28"/>
<circle cx="261.3" cy="297.77" r="0.5" fill="#8c8cdc" opacity="0.28"/>
<circle cx="253.92" cy="296.23" r="0.5" fill="#8c8cdc" opacity="0.28"/>
<circle cx="260.83" cy="293.48" r="0.5" fill="#8c8cdc" opacity="0.28"/>
<circle cx="258.46" cy="289.05" r="0.5" fill="#8c8cdc" opacity="0.28"/>
<circle cx="249.49" cy="295.97" r="0.5" fill="#8c8cdc" opacity="0.28"/>
<circle cx="257.99" cy="289.08" r="0.5" fill="#8c8cdc" opacity="0.28"/>
<circle cx="256.9" cy="295.72" r="0.5" fill="#8c8cdc" opacity="0.28"/>
<circle cx="260.99" cy="297.9" r="0.5" fill="#4048d8" opacity="0.3"/>
<circle cx="259.17" cy="298.84" r="0.5" fill="#4048d8" opacity="0.3"/>
<circle cx="258.19" cy="304.62" r="0.5" fill="#4048d8" opacity="0.3"/>
<circle cx="256.23" cy="301.34" r="0.5" fill="#4048d8" opacity="0.3"/>
<circle cx="252.54" cy="300.71" r="0.5" fill="#4048d8" opacity="0.3"/>
<circle cx="256.44" cy="289.88" r="0.5" fill="#4048d8" opacity="0.3"/>
<circle cx="254.59" cy="307.69" r="0.5" fill="#4048d8" opacity="0.3"/>
<circle cx="259.03" cy="289.79" r="0.5" fill="#4048d8" opacity="0.3"/>
<circle cx="257.11" cy="301.66" r="0.5" fill="#4048d8" opacity="0.3"/>
<circle cx="255.26" cy="289.11" r="0.5" fill="#4048d8" opacity="0.3"/>
<circle cx="256.21" cy="307.96" r="0.5" fill="#4048d8" opacity="0.3"/>
<circle cx="260.29" cy="289.36" r="0.5" fill="#4048d8" opacity="0.3"/>
<circle cx="260.9" cy="300.23" r="0.5" fill="#4048d8" opacity="0.3"/>
<circle cx="259.2" cy="300.35" r="0.5" fill="#4048d8" opacity="0.3"/>
<circle cx="258.99" cy="293.26" r="0.5" fill="#4048d8" opacity="0.3"/>
<circle cx="255.81" cy="295.26" r="0.5" fill="#4048d8" opacity="0.3"/>
<circle cx="257.11" cy="304.17" r="0.5" fill="#4048d8" opacity="0.3"/>
<circle cx="255.07" cy="310.74" r="0.5" fill="#4048d8" opacity="0.3"/>
<circle cx="256.48" cy="296.04" r="0.5" fill="#4048d8" opacity="0.3"/>
<circle cx="259.69" cy="302.92" r="0.5" fill="#4048d8" opacity="0.3"/>
<circle cx="257.18" cy="292.79" r="0.5" fill="#4048d8" opacity="0.3"/>
<circle cx="255.59" cy="289.23" r="0.5" fill="#4048d8" opacity="0.3"/>
<circle cx="260.75" cy="307.3" r="0.5" fill="#4048d8" opacity="0.3"/>
<circle cx="258.8" cy="305.1" r="0.5" fill="#4048d8" opacity="0.3"/>
<circle cx="260.29" cy="298.26" r="0.5" fill="#4048d8" opacity="0.3"/>
<circle cx="253.92" cy="290.53" r="0.5" fill="#4048d8" opacity="0.3"/>
<circle cx="255.68" cy="305.08" r="0.5" fill="#4048d8" opacity="0.3"/>
<circle cx="260.86" cy="297.72" r="0.5" fill="#4048d8" opacity="0.3"/>
<circle cx="259.62" cy="299.67" r="0.5" fill="#4048d8" opacity="0.3"/>
<circle cx="258.72" cy="296.36" r="0.5" fill="#4048d8" opacity="0.3"/>
<circle cx="257.93" cy="299.97" r="0.5" fill="#4048d8" opacity="0.3"/>
<circle cx="253.63" cy="303.59" r="0.5" fill="#4048d8" opacity="0.3"/>
<circle cx="257.99" cy="306.52" r="0.5" fill="#4048d8" opacity="0.3"/>
<circle cx="260.55" cy="305.26" r="0.5" fill="#4048d8" opacity="0.3"/>
<circle cx="259.95" cy="293.6" r="0.5" fill="#4048d8" opacity="0.3"/>
<circle cx="260.91" cy="293.58" r="0.5" fill="#4048d8" opacity="0.3"/>
<circle cx="261.11" cy="304.49" r="0.5" fill="#4048d8" opacity="0.3"/>
<circle cx="252.09" cy="306.06" r="0.5" fill="#4048d8" opacity="0.3"/>
<circle cx="255.62" cy="307.86" r="0.5" fill="#4048d8" opacity="0.3"/>
<circle cx="256.36" cy="294.99" r="0.5" fill="#4048d8" opacity="0.3"/>
<circle cx="254.28" cy="298.54" r="0.5" fill="#4048d8" opacity="0.3"/>
<circle cx="260.45" cy="295.47" r="0.5" fill="#4048d8" opacity="0.3"/>
<circle cx="256.71" cy="291.83" r="0.5" fill="#4048d8" opacity="0.3"/>
<circle cx="254.05" cy="303.77" r="0.5" fill="#4048d8" opacity="0.3"/>
<circle cx="261.13" cy="292.85" r="0.5" fill="#4048d8" opacity="0.3"/>
<circle cx="258" cy="298.13" r="0.5" fill="#4048d8" opacity="0.3"/>
<circle cx="257.38" cy="303.38" r="0.5" fill="#4048d8" opacity="0.3"/>
<circle cx="260.05" cy="307.34" r="0.5" fill="#4048d8" opacity="0.3"/>
<circle cx="257.32" cy="299" r="0.5" fill="#4048d8" opacity="0.3"/>
<circle cx="254.77" cy="307.28" r="0.5" fill="#4048d8" opacity="0.3"/>
<path d="M257.4 291.4 C258 290.93 259.57 289.27 261 288.6 C262.43 287.93 264.33 287.63 266 287.4 C267.67 287.17 269.57 287.13 271 287.2 C272.43 287.27 273.83 287.17 274.6 287.8 C275.37 288.43 275.5 289.3 275.6 291 C275.7 292.7 275.37 295.67 275.2 298 C275.03 300.33 274.77 302.67 274.6 305 C274.43 307.33 276.87 310.83 274.2 312 C271.53 313.17 261.37 313.67 258.6 312 C255.83 310.33 257.8 305.43 257.6 302 C257.4 298.57 257.43 293.17 257.4 291.4 Z" fill="#a8a8ee" filter="url(#b10)" opacity="0.6"/>
<path d="M258.2 291.7 C258.88 291.3 260.68 289.88 262.3 289.3 C263.92 288.72 266.2 288.38 267.9 288.2 C269.6 288.02 271.42 288.03 272.5 288.2 C273.58 288.37 274.05 288.57 274.4 289.2 C274.75 289.83 274.65 290.2 274.6 292 C274.55 293.8 274.33 296.67 274.1 300 C273.87 303.33 275.65 310 273.2 312 C270.75 314 261.8 313.67 259.4 312 C257 310.33 259 305.38 258.8 302 C258.6 298.62 258.3 293.42 258.2 291.7 Z" fill="#1410c8" filter="url(#b06)"/>
<path d="M260.4 292.6 C260.93 292.33 262.33 291.4 263.6 291 C264.87 290.6 266.63 290.32 268 290.2 C269.37 290.08 271 290.07 271.8 290.3 C272.6 290.53 272.7 289.98 272.8 291.6 C272.9 293.22 272.6 296.6 272.4 300 C272.2 303.4 273.43 310 271.6 312 C269.77 314 263.2 313.67 261.4 312 C259.6 310.33 260.97 305.23 260.8 302 C260.63 298.77 260.47 294.17 260.4 292.6 Z" fill="#1238f8" filter="url(#b06)"/>
<path d="M263.8 293.2 C264.25 292.9 265.47 291.75 266.5 291.4 C267.53 291.05 269.02 290.93 270 291.1 C270.98 291.27 272.1 291.42 272.4 292.4 C272.7 293.38 272.07 295.4 271.8 297 C271.53 298.6 270.97 299.5 270.8 302 C270.63 304.5 271.7 310.33 270.8 312 C269.9 313.67 266.3 313.67 265.4 312 C264.5 310.33 265.53 304.5 265.4 302 C265.27 299.5 264.87 298.47 264.6 297 C264.33 295.53 263.93 293.83 263.8 293.2 Z" fill="#18c4ec" filter="url(#b06)"/>
<path d="M264.7 293.4 C265.08 293.17 266.08 292.27 267 292 C267.92 291.73 269.42 291.63 270.2 291.8 C270.98 291.97 271.57 292.13 271.7 293 C271.83 293.87 271.28 295.67 271 297 C270.72 298.33 270.23 299.5 270 301 C269.77 302.5 270.1 305.17 269.6 306 C269.1 306.83 267.5 306.83 267 306 C266.5 305.17 266.87 302.5 266.6 301 C266.33 299.5 265.72 298.27 265.4 297 C265.08 295.73 264.82 294 264.7 293.4 Z" fill="#40dc50" filter="url(#b06)"/>
<ellipse cx="268.5" cy="295.4" rx="2" ry="3" fill="#e2e41e" filter="url(#b06)"/>
</g>
<circle cx="264.96" cy="269.85" r="0.5" fill="#5a62d4" opacity="0.38"/>
<circle cx="266.69" cy="268.86" r="0.5" fill="#5a62d4" opacity="0.38"/>
<circle cx="263.49" cy="271.56" r="0.5" fill="#5a62d4" opacity="0.38"/>
<circle cx="270.8" cy="272.01" r="0.5" fill="#5a62d4" opacity="0.38"/>
<circle cx="268.02" cy="265.93" r="0.5" fill="#5a62d4" opacity="0.38"/>
<circle cx="260.87" cy="281.76" r="0.5" fill="#5a62d4" opacity="0.38"/>
<circle cx="265.35" cy="265.58" r="0.5" fill="#5a62d4" opacity="0.38"/>
<circle cx="266.19" cy="275.93" r="0.5" fill="#5a62d4" opacity="0.38"/>
<circle cx="261.5" cy="268.75" r="0.5" fill="#5a62d4" opacity="0.38"/>
<circle cx="267.25" cy="268.55" r="0.5" fill="#5a62d4" opacity="0.38"/>
<circle cx="268.81" cy="277.64" r="0.5" fill="#5a62d4" opacity="0.38"/>
<circle cx="267.78" cy="270.93" r="0.5" fill="#5a62d4" opacity="0.38"/>
<circle cx="266.37" cy="269.95" r="0.5" fill="#5a62d4" opacity="0.38"/>
<circle cx="266.12" cy="274.53" r="0.5" fill="#5a62d4" opacity="0.38"/>
<circle cx="265.63" cy="277.7" r="0.5" fill="#5a62d4" opacity="0.38"/>
<circle cx="274.01" cy="270.36" r="0.5" fill="#5a62d4" opacity="0.38"/>
<circle cx="267.49" cy="276.97" r="0.5" fill="#5a62d4" opacity="0.38"/>
<circle cx="268.37" cy="271.85" r="0.5" fill="#5a62d4" opacity="0.38"/>
<circle cx="265.11" cy="277.85" r="0.5" fill="#5a62d4" opacity="0.38"/>
<circle cx="268.31" cy="275.44" r="0.5" fill="#5a62d4" opacity="0.38"/>
<circle cx="264.17" cy="276.05" r="0.5" fill="#5a62d4" opacity="0.38"/>
<circle cx="268.8" cy="272.11" r="0.5" fill="#5a62d4" opacity="0.38"/>
<circle cx="268.37" cy="283.49" r="0.5" fill="#5a62d4" opacity="0.38"/>
<circle cx="261.06" cy="275.93" r="0.5" fill="#5a62d4" opacity="0.38"/>
<circle cx="263.11" cy="266.41" r="0.5" fill="#5a62d4" opacity="0.38"/>
<circle cx="265.82" cy="275.64" r="0.5" fill="#5a62d4" opacity="0.38"/>
<circle cx="266.65" cy="267.37" r="0.5" fill="#5a62d4" opacity="0.38"/>
<circle cx="262.33" cy="270.31" r="0.5" fill="#5a62d4" opacity="0.38"/>
<circle cx="266.54" cy="268.99" r="0.5" fill="#5a62d4" opacity="0.38"/>
<circle cx="262.14" cy="281.48" r="0.5" fill="#5a62d4" opacity="0.38"/>
<circle cx="264.07" cy="272.24" r="0.5" fill="#5a62d4" opacity="0.38"/>
<circle cx="264.91" cy="270.17" r="0.5" fill="#5a62d4" opacity="0.38"/>
<circle cx="266.62" cy="271.56" r="0.5" fill="#5a62d4" opacity="0.38"/>
<circle cx="268.3" cy="267.27" r="0.5" fill="#5a62d4" opacity="0.38"/>
<circle cx="262.19" cy="282.43" r="0.5" fill="#5a62d4" opacity="0.38"/>
<circle cx="266.28" cy="276.72" r="0.5" fill="#5a62d4" opacity="0.38"/>
<circle cx="269.92" cy="275.68" r="0.5" fill="#5a62d4" opacity="0.38"/>
<circle cx="266.61" cy="265.47" r="0.5" fill="#5a62d4" opacity="0.38"/>
<circle cx="261.85" cy="277.73" r="0.5" fill="#5a62d4" opacity="0.38"/>
<circle cx="268.47" cy="275.76" r="0.5" fill="#5a62d4" opacity="0.38"/>
<circle cx="263.43" cy="267.28" r="0.5" fill="#5a62d4" opacity="0.38"/>
<circle cx="266.96" cy="268.05" r="0.5" fill="#5a62d4" opacity="0.38"/>
<circle cx="271.1" cy="269.99" r="0.5" fill="#5a62d4" opacity="0.38"/>
<circle cx="264.87" cy="277.19" r="0.5" fill="#5a62d4" opacity="0.38"/>
<circle cx="267.45" cy="268.64" r="0.5" fill="#5a62d4" opacity="0.38"/>
<circle cx="268.89" cy="282.32" r="0.5" fill="#5a62d4" opacity="0.38"/>
<circle cx="262.93" cy="271.8" r="0.5" fill="#5a62d4" opacity="0.38"/>
<circle cx="263.37" cy="263.59" r="0.5" fill="#5a62d4" opacity="0.38"/>
<circle cx="268.32" cy="276.38" r="0.5" fill="#5a62d4" opacity="0.38"/>
<circle cx="269.34" cy="275.08" r="0.5" fill="#5a62d4" opacity="0.38"/>
<circle cx="260.64" cy="272.87" r="0.5" fill="#5a62d4" opacity="0.38"/>
<circle cx="264.55" cy="267.29" r="0.5" fill="#5a62d4" opacity="0.38"/>
<circle cx="263.28" cy="276.71" r="0.5" fill="#5a62d4" opacity="0.38"/>
<circle cx="265.64" cy="282.54" r="0.5" fill="#5a62d4" opacity="0.38"/>
<circle cx="267.87" cy="263.73" r="0.5" fill="#5a62d4" opacity="0.38"/>
<circle cx="269.1" cy="279.07" r="0.5" fill="#5a62d4" opacity="0.38"/>
<circle cx="266.59" cy="267.11" r="0.5" fill="#5a62d4" opacity="0.38"/>
<circle cx="271.66" cy="266.62" r="0.5" fill="#5a62d4" opacity="0.38"/>
<circle cx="266.26" cy="263.73" r="0.5" fill="#5a62d4" opacity="0.38"/>
<circle cx="262.84" cy="264.74" r="0.5" fill="#5a62d4" opacity="0.38"/>
<circle cx="269.68" cy="278.73" r="0.5" fill="#5a62d4" opacity="0.38"/>
<circle cx="265.32" cy="266.4" r="0.5" fill="#5a62d4" opacity="0.38"/>
<circle cx="266.32" cy="274.84" r="0.5" fill="#5a62d4" opacity="0.38"/>
<circle cx="262.04" cy="267.36" r="0.5" fill="#5a62d4" opacity="0.38"/>
<circle cx="266.2" cy="276.43" r="0.5" fill="#5a62d4" opacity="0.38"/>
<circle cx="266.72" cy="275.19" r="0.5" fill="#5a62d4" opacity="0.38"/>
<circle cx="267.41" cy="268.53" r="0.5" fill="#5a62d4" opacity="0.38"/>
<circle cx="266.14" cy="271.16" r="0.5" fill="#5a62d4" opacity="0.38"/>
<circle cx="267.91" cy="269.24" r="0.5" fill="#5a62d4" opacity="0.38"/>
<circle cx="270.73" cy="273.15" r="0.5" fill="#5a62d4" opacity="0.38"/>
<circle cx="268.05" cy="276.07" r="0.5" fill="#5a62d4" opacity="0.38"/>
<circle cx="269.54" cy="274.97" r="0.5" fill="#5a62d4" opacity="0.38"/>
<circle cx="261.38" cy="269.93" r="0.5" fill="#5a62d4" opacity="0.38"/>
<circle cx="271.95" cy="275.31" r="0.5" fill="#5a62d4" opacity="0.38"/>
<circle cx="268.14" cy="275.28" r="0.5" fill="#5a62d4" opacity="0.38"/>
<circle cx="264.62" cy="269.69" r="0.5" fill="#5a62d4" opacity="0.38"/>
<circle cx="264.6" cy="278.66" r="0.5" fill="#5a62d4" opacity="0.38"/>
<circle cx="267.57" cy="281.7" r="0.5" fill="#5a62d4" opacity="0.38"/>
<circle cx="267.96" cy="282.25" r="0.5" fill="#5a62d4" opacity="0.38"/>
<circle cx="267.84" cy="267.21" r="0.5" fill="#5a62d4" opacity="0.38"/>
<circle cx="271.61" cy="274.65" r="0.5" fill="#5a62d4" opacity="0.38"/>
<circle cx="270" cy="274.05" r="0.5" fill="#5a62d4" opacity="0.38"/>
<circle cx="265.54" cy="273.83" r="0.5" fill="#5a62d4" opacity="0.38"/>
<circle cx="263.2" cy="267.15" r="0.5" fill="#5a62d4" opacity="0.38"/>
<circle cx="263.89" cy="270.43" r="0.5" fill="#5a62d4" opacity="0.38"/>
<circle cx="262.51" cy="272.49" r="0.5" fill="#5a62d4" opacity="0.38"/>
<circle cx="267.4" cy="282.94" r="0.5" fill="#5a62d4" opacity="0.38"/>
<circle cx="271.92" cy="272.76" r="0.5" fill="#5a62d4" opacity="0.38"/>
<circle cx="269.1" cy="271.92" r="0.5" fill="#5a62d4" opacity="0.38"/>
<circle cx="267.65" cy="272.83" r="0.5" fill="#5a62d4" opacity="0.38"/>
<circle cx="264.91" cy="273.37" r="0.5" fill="#5a62d4" opacity="0.38"/>
<circle cx="262.14" cy="275.16" r="0.5" fill="#5a62d4" opacity="0.38"/>
<circle cx="265.65" cy="267.68" r="0.5" fill="#5a62d4" opacity="0.38"/>
<circle cx="265.44" cy="275.72" r="0.5" fill="#5a62d4" opacity="0.38"/>
<circle cx="264.5" cy="275.34" r="0.5" fill="#5a62d4" opacity="0.38"/>
<circle cx="268.18" cy="280.66" r="0.5" fill="#5a62d4" opacity="0.38"/>
<circle cx="263.29" cy="272.45" r="0.5" fill="#5a62d4" opacity="0.38"/>
<circle cx="268.01" cy="280.38" r="0.5" fill="#5a62d4" opacity="0.38"/>
<circle cx="267.27" cy="276.71" r="0.5" fill="#5a62d4" opacity="0.38"/>
<circle cx="262.17" cy="270.13" r="0.5" fill="#5a62d4" opacity="0.38"/>
<circle cx="271.41" cy="271.6" r="0.5" fill="#5a62d4" opacity="0.38"/>
<circle cx="272.89" cy="269.41" r="0.5" fill="#5a62d4" opacity="0.38"/>
<circle cx="265.68" cy="265.15" r="0.5" fill="#5a62d4" opacity="0.38"/>
<circle cx="268.38" cy="274.3" r="0.5" fill="#5a62d4" opacity="0.38"/>
<circle cx="272.47" cy="273.82" r="0.5" fill="#5a62d4" opacity="0.38"/>
<circle cx="265.76" cy="266.06" r="0.5" fill="#5a62d4" opacity="0.38"/>
<circle cx="266.26" cy="277.67" r="0.5" fill="#5a62d4" opacity="0.38"/>
<circle cx="268.69" cy="279.06" r="0.5" fill="#5a62d4" opacity="0.38"/>
<rect x="257.3" y="263.3" width="18.5" height="22.4" fill="none" stroke="#2a2a2a" stroke-width="1" />
<text x="279.2" y="273.9" font-size="8.4" textLength="11.1" lengthAdjust="spacingAndGlyphs">0.4</text>
<rect x="135.1" y="263.1" width="48" height="47.2" fill="none" stroke="#222" stroke-width="1.1" />
<line x1="133.5" y1="268.1" x2="135.1" y2="268.1" stroke="#333" stroke-width="0.8" />
<line x1="133.5" y1="278.6" x2="135.1" y2="278.6" stroke="#333" stroke-width="0.8" />
<line x1="133.5" y1="288.6" x2="135.1" y2="288.6" stroke="#333" stroke-width="0.8" />
<line x1="133.5" y1="300.6" x2="135.1" y2="300.6" stroke="#333" stroke-width="0.8" />
<line x1="133.5" y1="305.6" x2="135.1" y2="305.6" stroke="#333" stroke-width="0.8" />
<line x1="137.6" y1="310.3" x2="137.6" y2="311.9" stroke="#333" stroke-width="0.8" />
<line x1="140.1" y1="310.3" x2="140.1" y2="311.9" stroke="#333" stroke-width="0.8" />
<line x1="143.1" y1="310.3" x2="143.1" y2="311.9" stroke="#333" stroke-width="0.8" />
<line x1="151.1" y1="310.3" x2="151.1" y2="311.9" stroke="#333" stroke-width="0.8" />
<line x1="159.1" y1="310.3" x2="159.1" y2="311.9" stroke="#333" stroke-width="0.8" />
<line x1="168.1" y1="310.3" x2="168.1" y2="311.9" stroke="#333" stroke-width="0.8" />
<line x1="175.1" y1="310.3" x2="175.1" y2="311.9" stroke="#333" stroke-width="0.8" />
<rect x="189.9" y="263.1" width="48" height="47.2" fill="none" stroke="#222" stroke-width="1.1" />
<line x1="188.3" y1="268.1" x2="189.9" y2="268.1" stroke="#333" stroke-width="0.8" />
<line x1="188.3" y1="278.6" x2="189.9" y2="278.6" stroke="#333" stroke-width="0.8" />
<line x1="188.3" y1="288.6" x2="189.9" y2="288.6" stroke="#333" stroke-width="0.8" />
<line x1="188.3" y1="300.6" x2="189.9" y2="300.6" stroke="#333" stroke-width="0.8" />
<line x1="188.3" y1="305.6" x2="189.9" y2="305.6" stroke="#333" stroke-width="0.8" />
<line x1="192.4" y1="310.3" x2="192.4" y2="311.9" stroke="#333" stroke-width="0.8" />
<line x1="194.9" y1="310.3" x2="194.9" y2="311.9" stroke="#333" stroke-width="0.8" />
<line x1="197.9" y1="310.3" x2="197.9" y2="311.9" stroke="#333" stroke-width="0.8" />
<line x1="205.9" y1="310.3" x2="205.9" y2="311.9" stroke="#333" stroke-width="0.8" />
<line x1="213.9" y1="310.3" x2="213.9" y2="311.9" stroke="#333" stroke-width="0.8" />
<line x1="222.9" y1="310.3" x2="222.9" y2="311.9" stroke="#333" stroke-width="0.8" />
<line x1="229.9" y1="310.3" x2="229.9" y2="311.9" stroke="#333" stroke-width="0.8" />
<rect x="245.3" y="263.1" width="48" height="47.2" fill="none" stroke="#222" stroke-width="1.1" />
<line x1="243.7" y1="268.1" x2="245.3" y2="268.1" stroke="#333" stroke-width="0.8" />
<line x1="243.7" y1="278.6" x2="245.3" y2="278.6" stroke="#333" stroke-width="0.8" />
<line x1="243.7" y1="288.6" x2="245.3" y2="288.6" stroke="#333" stroke-width="0.8" />
<line x1="243.7" y1="300.6" x2="245.3" y2="300.6" stroke="#333" stroke-width="0.8" />
<line x1="243.7" y1="305.6" x2="245.3" y2="305.6" stroke="#333" stroke-width="0.8" />
<line x1="247.8" y1="310.3" x2="247.8" y2="311.9" stroke="#333" stroke-width="0.8" />
<line x1="250.3" y1="310.3" x2="250.3" y2="311.9" stroke="#333" stroke-width="0.8" />
<line x1="253.3" y1="310.3" x2="253.3" y2="311.9" stroke="#333" stroke-width="0.8" />
<line x1="261.3" y1="310.3" x2="261.3" y2="311.9" stroke="#333" stroke-width="0.8" />
<line x1="269.3" y1="310.3" x2="269.3" y2="311.9" stroke="#333" stroke-width="0.8" />
<line x1="278.3" y1="310.3" x2="278.3" y2="311.9" stroke="#333" stroke-width="0.8" />
<line x1="285.3" y1="310.3" x2="285.3" y2="311.9" stroke="#333" stroke-width="0.8" />
<text font-size="12.2" font-weight="bold" style="stroke-width:0.55px" transform="translate(110 243.4) scale(0.86 1)" x="0" y="0">E</text>
<text x="158.9" y="257.9" font-size="10.2" text-anchor="middle" font-weight="bold" textLength="46.2" lengthAdjust="spacingAndGlyphs">Untreated</text>
<text x="214.35" y="257.9" font-size="10.2" text-anchor="middle" font-weight="bold" textLength="45.7" lengthAdjust="spacingAndGlyphs">BM Alone</text>
<text x="269.45" y="257.9" font-size="10.2" text-anchor="middle" font-weight="bold" textLength="28.9" lengthAdjust="spacingAndGlyphs">GVHD</text>
<text font-size="9.6" transform="translate(127.3 313.0) rotate(-90)" textLength="20.6" lengthAdjust="spacingAndGlyphs" x="0" y="0" fill="#141414">IL-22</text>
<line x1="123.6" y1="288" x2="123.6" y2="276.9" stroke="#141414" stroke-width="1.9" />
<path d="M120.8 277.4 L123.6 272.4 L126.4 277.4 Z" fill="#141414"/>
<text x="135.1" y="325.4" font-size="9.8" textLength="31" lengthAdjust="spacingAndGlyphs">ROR&#947;(t)</text>
<line x1="170.4" y1="323" x2="182" y2="323" stroke="#141414" stroke-width="1.9" />
<path d="M181.5 320.2 L186.5 323 L181.5 325.8 Z" fill="#141414"/>
<text font-size="12.2" font-weight="bold" style="stroke-width:0.55px" transform="translate(7.4 243.4) scale(0.86 1)" x="0" y="0">D</text>
<text font-size="10.4" transform="translate(19.9 306.9) rotate(-90)" textLength="41.3" lengthAdjust="spacingAndGlyphs" x="0" y="0">ILCs x 10<tspan font-size="7.9" dy="-4.16">3</tspan></text>
<line x1="41" y1="322.6" x2="41" y2="250.8" stroke="#141414" stroke-width="1.5" />
<line x1="37.8" y1="322" x2="41" y2="322" stroke="#141414" stroke-width="1.2" />
<text x="34.6" y="325.4" font-size="8.6" text-anchor="end">0</text>
<line x1="37.8" y1="299.07" x2="41" y2="299.07" stroke="#141414" stroke-width="1.2" />
<text x="34.6" y="302.47" font-size="8.6" text-anchor="end">5</text>
<line x1="37.8" y1="276.13" x2="41" y2="276.13" stroke="#141414" stroke-width="1.2" />
<text x="34.6" y="279.53" font-size="8.6" text-anchor="end">10</text>
<line x1="37.8" y1="253.2" x2="41" y2="253.2" stroke="#141414" stroke-width="1.2" />
<text x="34.6" y="256.6" font-size="8.6" text-anchor="end">15</text>
<line x1="50.45" y1="282.4" x2="50.45" y2="275.7" stroke="#141414" stroke-width="1.3" />
<line x1="47.75" y1="275.7" x2="53.15" y2="275.7" stroke="#141414" stroke-width="1.7" />
<rect x="44.92" y="283.02" width="11.05" height="38.98" fill="#ffffff" stroke="#141414" stroke-width="1.25" />
<line x1="50.45" y1="322" x2="50.45" y2="324.8" stroke="#141414" stroke-width="1.1" />
<line x1="68.3" y1="296" x2="68.3" y2="290.5" stroke="#141414" stroke-width="1.3" />
<line x1="65.6" y1="290.5" x2="71" y2="290.5" stroke="#141414" stroke-width="1.7" />
<rect x="62.8" y="296.4" width="11" height="25.6" fill="#2c4c8c" stroke="#1b2f5e" stroke-width="0.8" />
<line x1="68.3" y1="322" x2="68.3" y2="324.8" stroke="#141414" stroke-width="1.1" />
<line x1="86.4" y1="315" x2="86.4" y2="313.9" stroke="#141414" stroke-width="1.3" />
<line x1="83.7" y1="313.9" x2="89.1" y2="313.9" stroke="#141414" stroke-width="1.7" />
<rect x="80.2" y="315.4" width="12.4" height="6.6" fill="#cdced3" stroke="#c2c2c2" stroke-width="0.8" />
<line x1="86.4" y1="322" x2="86.4" y2="324.8" stroke="#141414" stroke-width="1.1" />
<line x1="40.35" y1="322" x2="96.5" y2="322" stroke="#141414" stroke-width="1.5" />
<line x1="50.2" y1="263.5" x2="62.3" y2="263.5" stroke="#141414" stroke-width="1.2" />
<line x1="75.3" y1="263.5" x2="86.3" y2="263.5" stroke="#141414" stroke-width="1.2" />
<circle cx="63.95" cy="263.6" r="1.2" fill="#141414"/>
<circle cx="67.95" cy="263.6" r="1.2" fill="#141414"/>
<circle cx="71.95" cy="263.6" r="1.2" fill="#141414"/>
<text x="50.2" y="273.9" font-size="8.2" text-anchor="middle">ns</text>
<line x1="55.3" y1="270.5" x2="68.4" y2="270.5" stroke="#141414" stroke-width="1.1" />
<line x1="68" y1="286.5" x2="84" y2="286.5" stroke="#141414" stroke-width="1.2" />
<circle cx="85.8" cy="286.7" r="1.15" fill="#141414"/>
<text font-size="12.2" font-weight="bold" style="stroke-width:0.55px" transform="translate(307.4 243.4) scale(0.86 1)" x="0" y="0">F</text>
<text font-size="9.8" transform="translate(327.1 317.5) rotate(-90)" textLength="64.8" lengthAdjust="spacingAndGlyphs" x="0" y="0">IL-22+ ILC (10<tspan font-size="7.45" dy="-3.92">3</tspan><tspan dy="3.92">)</tspan></text>
<line x1="350.3" y1="322.8" x2="350.3" y2="251.5" stroke="#141414" stroke-width="1.5" />
<line x1="347.1" y1="322.2" x2="350.3" y2="322.2" stroke="#141414" stroke-width="1.2" />
<text x="343.9" y="325.6" font-size="8.6" text-anchor="end">0</text>
<line x1="347.1" y1="299.43" x2="350.3" y2="299.43" stroke="#141414" stroke-width="1.2" />
<text x="343.9" y="302.83" font-size="8.6" text-anchor="end">0.5</text>
<line x1="347.1" y1="276.67" x2="350.3" y2="276.67" stroke="#141414" stroke-width="1.2" />
<text x="343.9" y="280.07" font-size="8.6" text-anchor="end">1.0</text>
<line x1="347.1" y1="253.9" x2="350.3" y2="253.9" stroke="#141414" stroke-width="1.2" />
<text x="343.9" y="257.3" font-size="8.6" text-anchor="end">1.5</text>
<rect x="354.7" y="321.6" width="12.5" height="0.6" fill="#ffffff" stroke="#141414" stroke-width="0.8" />
<line x1="360.95" y1="322.2" x2="360.95" y2="325" stroke="#141414" stroke-width="1.1" />
<line x1="377.45" y1="285.5" x2="377.45" y2="276.2" stroke="#141414" stroke-width="1.3" />
<line x1="374.75" y1="276.2" x2="380.15" y2="276.2" stroke="#141414" stroke-width="1.7" />
<rect x="371.5" y="285.9" width="11.9" height="36.3" fill="#2c4c8c" stroke="#1b2f5e" stroke-width="0.8" />
<line x1="377.45" y1="322.2" x2="377.45" y2="325" stroke="#141414" stroke-width="1.1" />
<line x1="393.25" y1="317.9" x2="393.25" y2="316.5" stroke="#141414" stroke-width="1.3" />
<line x1="390.55" y1="316.5" x2="395.95" y2="316.5" stroke="#141414" stroke-width="1.7" />
<rect x="387.6" y="318.3" width="11.3" height="3.9" fill="#e0e0e0" stroke="#d0d0d0" stroke-width="0.8" />
<line x1="393.25" y1="322.2" x2="393.25" y2="325" stroke="#141414" stroke-width="1.1" />
<line x1="349.65" y1="322.2" x2="404.5" y2="322.2" stroke="#141414" stroke-width="1.5" />
<line x1="358.8" y1="261.5" x2="372.3" y2="261.5" stroke="#141414" stroke-width="1.2" />
<line x1="383.2" y1="261.5" x2="396" y2="261.5" stroke="#141414" stroke-width="1.2" />
<text x="377.45" y="263.9" font-size="7.4" text-anchor="middle" textLength="8.1" lengthAdjust="spacingAndGlyphs">ns</text>
<circle cx="353.85" cy="269.8" r="1.2" fill="#141414"/>
<circle cx="357.7" cy="269.8" r="1.2" fill="#141414"/>
<circle cx="361.55" cy="269.8" r="1.2" fill="#141414"/>
<line x1="364.4" y1="270.5" x2="377.4" y2="270.5" stroke="#141414" stroke-width="1.2" />
<line x1="377.9" y1="267.5" x2="390.4" y2="267.5" stroke="#141414" stroke-width="1.2" />
<circle cx="394.2" cy="267" r="1.2" fill="#141414"/>
<text font-size="12.2" font-weight="bold" style="stroke-width:0.55px" transform="translate(418.8 243.6) scale(0.86 1)" x="0" y="0">G</text>
<text font-size="9.8" transform="translate(434.6 320.6) rotate(-90)" textLength="70.5" lengthAdjust="spacingAndGlyphs" x="0" y="0">IL-23 (ng/thymus)</text>
<line x1="457.9" y1="322.5" x2="457.9" y2="251.8" stroke="#141414" stroke-width="1.5" />
<line x1="454.7" y1="321.9" x2="457.9" y2="321.9" stroke="#141414" stroke-width="1.2" />
<text x="451.5" y="325.3" font-size="8.6" text-anchor="end">0</text>
<line x1="454.7" y1="304.97" x2="457.9" y2="304.97" stroke="#141414" stroke-width="1.2" />
<text x="451.5" y="308.37" font-size="8.6" text-anchor="end">0.5</text>
<line x1="454.7" y1="288.05" x2="457.9" y2="288.05" stroke="#141414" stroke-width="1.2" />
<text x="451.5" y="291.45" font-size="8.6" text-anchor="end">1.0</text>
<line x1="454.7" y1="271.12" x2="457.9" y2="271.12" stroke="#141414" stroke-width="1.2" />
<text x="451.5" y="274.52" font-size="8.6" text-anchor="end">1.5</text>
<line x1="454.7" y1="254.2" x2="457.9" y2="254.2" stroke="#141414" stroke-width="1.2" />
<text x="451.5" y="257.6" font-size="8.6" text-anchor="end">2.0</text>
<line x1="467.4" y1="313.6" x2="467.4" y2="312.7" stroke="#141414" stroke-width="1.3" />
<line x1="464.7" y1="312.7" x2="470.1" y2="312.7" stroke="#141414" stroke-width="1.7" />
<rect x="461.43" y="314.23" width="11.95" height="7.67" fill="#ffffff" stroke="#141414" stroke-width="1.25" />
<line x1="467.4" y1="321.9" x2="467.4" y2="324.7" stroke="#141414" stroke-width="1.1" />
<line x1="485.6" y1="281.5" x2="485.6" y2="277.6" stroke="#141414" stroke-width="1.3" />
<line x1="482.9" y1="277.6" x2="488.3" y2="277.6" stroke="#141414" stroke-width="1.7" />
<rect x="479.7" y="281.9" width="11.8" height="40" fill="#2c4c8c" stroke="#1b2f5e" stroke-width="0.8" />
<line x1="485.6" y1="321.9" x2="485.6" y2="324.7" stroke="#141414" stroke-width="1.1" />
<line x1="503.45" y1="315.6" x2="503.45" y2="314.5" stroke="#141414" stroke-width="1.3" />
<line x1="500.75" y1="314.5" x2="506.15" y2="314.5" stroke="#141414" stroke-width="1.7" />
<rect x="497.5" y="316" width="11.9" height="5.9" fill="#cdced3" stroke="#c2c2c2" stroke-width="0.8" />
<line x1="503.45" y1="321.9" x2="503.45" y2="324.7" stroke="#141414" stroke-width="1.1" />
<line x1="457.25" y1="321.9" x2="512.7" y2="321.9" stroke="#141414" stroke-width="1.5" />
<line x1="467.3" y1="261.5" x2="479.8" y2="261.5" stroke="#141414" stroke-width="1.2" />
<line x1="491" y1="261.5" x2="503.7" y2="261.5" stroke="#141414" stroke-width="1.2" />
<text x="485.3" y="263.6" font-size="7.4" text-anchor="middle" textLength="7.8" lengthAdjust="spacingAndGlyphs">ns</text>
<circle cx="461.5" cy="274.8" r="1.2" fill="#141414"/>
<circle cx="465.4" cy="274.8" r="1.2" fill="#141414"/>
<circle cx="469.3" cy="274.8" r="1.2" fill="#141414"/>
<line x1="473.1" y1="274.5" x2="485.5" y2="274.5" stroke="#141414" stroke-width="1.2" />
<line x1="486" y1="269.5" x2="498" y2="269.5" stroke="#141414" stroke-width="1.2" />
<circle cx="500.3" cy="269.2" r="1.2" fill="#141414"/>
<circle cx="504.3" cy="269.2" r="1.2" fill="#141414"/>
<circle cx="508.3" cy="269.2" r="1.2" fill="#141414"/>
<text font-size="12.2" font-weight="bold" style="stroke-width:0.55px" transform="translate(7.4 353.4) scale(0.86 1)" x="0" y="0">H</text>
<text font-size="9.8" transform="translate(15.4 434.8) rotate(-90)" textLength="63.3" lengthAdjust="spacingAndGlyphs" x="0" y="0">% reconstituted</text>
<line x1="40.9" y1="438.6" x2="40.9" y2="367.5" stroke="#141414" stroke-width="1.5" />
<line x1="37.7" y1="438" x2="40.9" y2="438" stroke="#141414" stroke-width="1.2" />
<text x="34.5" y="441.4" font-size="8.6" text-anchor="end">0</text>
<line x1="37.7" y1="426.65" x2="40.9" y2="426.65" stroke="#141414" stroke-width="1.2" />
<text x="34.5" y="430.05" font-size="8.6" text-anchor="end">20</text>
<line x1="37.7" y1="415.3" x2="40.9" y2="415.3" stroke="#141414" stroke-width="1.2" />
<text x="34.5" y="418.7" font-size="8.6" text-anchor="end">40</text>
<line x1="37.7" y1="403.95" x2="40.9" y2="403.95" stroke="#141414" stroke-width="1.2" />
<text x="34.5" y="407.35" font-size="8.6" text-anchor="end">60</text>
<line x1="37.7" y1="392.6" x2="40.9" y2="392.6" stroke="#141414" stroke-width="1.2" />
<text x="34.5" y="396" font-size="8.6" text-anchor="end">80</text>
<line x1="37.7" y1="381.25" x2="40.9" y2="381.25" stroke="#141414" stroke-width="1.2" />
<text x="34.5" y="384.65" font-size="8.6" text-anchor="end">100</text>
<line x1="37.7" y1="369.9" x2="40.9" y2="369.9" stroke="#141414" stroke-width="1.2" />
<text x="34.5" y="373.3" font-size="8.6" text-anchor="end">120</text>
<line x1="40.25" y1="438" x2="93" y2="438" stroke="#141414" stroke-width="1.5" />
<rect x="44.4" y="381.2" width="10.5" height="56.8" fill="#fff" stroke="#141414" stroke-width="1.2" />
<rect x="44.8" y="429.4" width="9.7" height="8.6" fill="#54296e" />
<line x1="46.95" y1="381.2" x2="52.35" y2="381.2" stroke="#141414" stroke-width="2.4" />
<line x1="46.95" y1="429.8" x2="52.35" y2="429.8" stroke="#141414" stroke-width="1.6" />
<line x1="49.65" y1="438" x2="49.65" y2="441" stroke="#141414" stroke-width="1.1" />
<rect x="61.8" y="381.2" width="10.5" height="56.8" fill="#fff" stroke="#141414" stroke-width="1.2" />
<rect x="62.2" y="432.5" width="9.7" height="5.5" fill="#54296e" />
<line x1="64.35" y1="381.2" x2="69.75" y2="381.2" stroke="#141414" stroke-width="2.4" />
<line x1="64.35" y1="432.9" x2="69.75" y2="432.9" stroke="#141414" stroke-width="1.6" />
<line x1="67.05" y1="438" x2="67.05" y2="441" stroke="#141414" stroke-width="1.1" />
<rect x="79.2" y="381.2" width="10.6" height="56.8" fill="#fff" stroke="#141414" stroke-width="1.2" />
<rect x="79.6" y="432.5" width="9.8" height="5.5" fill="#54296e" />
<line x1="81.8" y1="381.2" x2="87.2" y2="381.2" stroke="#141414" stroke-width="2.4" />
<line x1="81.8" y1="432.9" x2="87.2" y2="432.9" stroke="#141414" stroke-width="1.6" />
<line x1="84.5" y1="438" x2="84.5" y2="441" stroke="#141414" stroke-width="1.1" />
<line x1="40.3" y1="438" x2="93" y2="438" stroke="#141414" stroke-width="1.3" />
<text font-size="8.3" text-anchor="end" transform="translate(54.2 447.6) rotate(-45)" x="0" y="0">BM</text>
<text font-size="8.3" text-anchor="end" transform="translate(71.6 447.6) rotate(-45)" x="0" y="0">Spleen</text>
<text font-size="8.3" text-anchor="end" transform="translate(89.1 447.6) rotate(-45)" x="0" y="0">Thymus</text>
<text font-size="10.4" transform="translate(111.6 412.1) rotate(-90)" textLength="18.4" lengthAdjust="spacingAndGlyphs" x="0" y="0">Cells</text>
<line x1="142.9" y1="438.6" x2="142.9" y2="368" stroke="#141414" stroke-width="1.5" />
<line x1="139.7" y1="438" x2="142.9" y2="438" stroke="#141414" stroke-width="1.2" />
<text x="136.5" y="441.4" font-size="8.6" text-anchor="end">0</text>
<line x1="139.7" y1="421.1" x2="142.9" y2="421.1" stroke="#141414" stroke-width="1.2" />
<text x="136.5" y="424.5" font-size="8.6" text-anchor="end">2000</text>
<line x1="139.7" y1="404.2" x2="142.9" y2="404.2" stroke="#141414" stroke-width="1.2" />
<text x="136.5" y="407.6" font-size="8.6" text-anchor="end">4000</text>
<line x1="139.7" y1="387.3" x2="142.9" y2="387.3" stroke="#141414" stroke-width="1.2" />
<text x="136.5" y="390.7" font-size="8.6" text-anchor="end">6000</text>
<line x1="139.7" y1="370.4" x2="142.9" y2="370.4" stroke="#141414" stroke-width="1.2" />
<text x="136.5" y="373.8" font-size="8.6" text-anchor="end">8000</text>
<line x1="151.55" y1="422.7" x2="151.55" y2="417.5" stroke="#141414" stroke-width="1.3" />
<line x1="148.85" y1="417.5" x2="154.25" y2="417.5" stroke="#141414" stroke-width="1.7" />
<rect x="145.93" y="423.32" width="11.25" height="14.68" fill="#ffffff" stroke="#141414" stroke-width="1.25" />
<line x1="151.55" y1="438" x2="151.55" y2="440.8" stroke="#141414" stroke-width="1.1" />
<line x1="168.9" y1="435.4" x2="168.9" y2="434.6" stroke="#141414" stroke-width="1.3" />
<line x1="166.2" y1="434.6" x2="171.6" y2="434.6" stroke="#141414" stroke-width="1.7" />
<rect x="163.62" y="436.02" width="10.55" height="1.98" fill="#ffffff" stroke="#141414" stroke-width="1.25" />
<line x1="168.9" y1="438" x2="168.9" y2="440.8" stroke="#141414" stroke-width="1.1" />
<line x1="186.5" y1="389.2" x2="186.5" y2="381.2" stroke="#141414" stroke-width="1.3" />
<line x1="183.8" y1="381.2" x2="189.2" y2="381.2" stroke="#141414" stroke-width="1.7" />
<rect x="181.03" y="389.82" width="10.95" height="48.18" fill="#ffffff" stroke="#141414" stroke-width="1.25" />
<line x1="186.5" y1="438" x2="186.5" y2="440.8" stroke="#141414" stroke-width="1.1" />
<line x1="142.25" y1="438" x2="196" y2="438" stroke="#141414" stroke-width="1.5" />
<text font-size="8.3" text-anchor="end" transform="translate(156 448.2) rotate(-45)" x="0" y="0">BM</text>
<text font-size="8.3" text-anchor="end" transform="translate(173.5 448.2) rotate(-45)" x="0" y="0">Spleen</text>
<text font-size="8.3" text-anchor="end" transform="translate(191.2 448.2) rotate(-45)" x="0" y="0">Thymus</text>
<text font-size="10.4" transform="translate(213.5 412.1) rotate(-90)" textLength="18.6" lengthAdjust="spacingAndGlyphs" x="0" y="0">Cells</text>
<line x1="240" y1="438.6" x2="240" y2="368.2" stroke="#141414" stroke-width="1.5" />
<line x1="236.8" y1="438" x2="240" y2="438" stroke="#141414" stroke-width="1.2" />
<text x="233.6" y="441.4" font-size="8.6" text-anchor="end">0</text>
<line x1="236.8" y1="421.15" x2="240" y2="421.15" stroke="#141414" stroke-width="1.2" />
<text x="233.6" y="424.55" font-size="8.6" text-anchor="end">200</text>
<line x1="236.8" y1="404.3" x2="240" y2="404.3" stroke="#141414" stroke-width="1.2" />
<text x="233.6" y="407.7" font-size="8.6" text-anchor="end">400</text>
<line x1="236.8" y1="387.45" x2="240" y2="387.45" stroke="#141414" stroke-width="1.2" />
<text x="233.6" y="390.85" font-size="8.6" text-anchor="end">600</text>
<line x1="236.8" y1="370.6" x2="240" y2="370.6" stroke="#141414" stroke-width="1.2" />
<text x="233.6" y="374" font-size="8.6" text-anchor="end">800</text>
<line x1="248.75" y1="417" x2="248.75" y2="411.6" stroke="#141414" stroke-width="1.3" />
<line x1="246.05" y1="411.6" x2="251.45" y2="411.6" stroke="#141414" stroke-width="1.7" />
<rect x="243.6" y="417.4" width="10.3" height="20.6" fill="#54296e" stroke="#3a1a50" stroke-width="0.8" />
<line x1="248.75" y1="438" x2="248.75" y2="440.8" stroke="#141414" stroke-width="1.1" />
<line x1="265.9" y1="436" x2="265.9" y2="434.2" stroke="#141414" stroke-width="1.3" />
<line x1="263.2" y1="434.2" x2="268.6" y2="434.2" stroke="#141414" stroke-width="1.7" />
<rect x="260.6" y="436.4" width="10.6" height="1.6" fill="#54296e" stroke="#3a1a50" stroke-width="0.8" />
<line x1="265.9" y1="438" x2="265.9" y2="440.8" stroke="#141414" stroke-width="1.1" />
<line x1="283.55" y1="394.6" x2="283.55" y2="385.5" stroke="#141414" stroke-width="1.3" />
<line x1="280.85" y1="385.5" x2="286.25" y2="385.5" stroke="#141414" stroke-width="1.7" />
<rect x="278.2" y="395" width="10.7" height="43" fill="#54296e" stroke="#3a1a50" stroke-width="0.8" />
<line x1="283.55" y1="438" x2="283.55" y2="440.8" stroke="#141414" stroke-width="1.1" />
<line x1="239.35" y1="438" x2="292.5" y2="438" stroke="#141414" stroke-width="1.5" />
<text font-size="8.3" text-anchor="end" transform="translate(253.3 448.1) rotate(-45)" x="0" y="0">BM</text>
<text font-size="8.3" text-anchor="end" transform="translate(270.7 448.1) rotate(-45)" x="0" y="0">Spleen</text>
<text font-size="8.3" text-anchor="end" transform="translate(287.9 448.1) rotate(-45)" x="0" y="0">Thymus</text>
<rect x="294.1" y="372" width="7.6" height="7.6" fill="#fff" stroke="#141414" stroke-width="1.2" />
<text x="305.6" y="378.6" font-size="8.6" textLength="15.8" lengthAdjust="spacingAndGlyphs">Host</text>
<rect x="293.6" y="383.2" width="8.7" height="8.6" fill="#54296e" stroke="#3a1a50" stroke-width="0.5" />
<text x="305.6" y="389.8" font-size="8.6" textLength="20.6" lengthAdjust="spacingAndGlyphs">Donor</text>
<text font-size="12.2" font-weight="bold" style="stroke-width:0.55px" transform="translate(343 353.4) scale(0.86 1)" x="0" y="0">I</text>
<text x="401.1" y="362" font-size="10.2" text-anchor="middle" font-weight="bold" textLength="22" lengthAdjust="spacingAndGlyphs">Host</text>
<text x="481.75" y="362" font-size="10.2" text-anchor="middle" font-weight="bold" textLength="27.9" lengthAdjust="spacingAndGlyphs">Donor</text>
<text font-size="10.4" transform="translate(362.3 423.7) rotate(-90)" textLength="42.2" lengthAdjust="spacingAndGlyphs" x="0" y="0">Cells x 10<tspan font-size="7.9" dy="-4.16">3</tspan></text>
<line x1="383" y1="438.8" x2="383" y2="368" stroke="#141414" stroke-width="1.5" />
<line x1="379.8" y1="438.2" x2="383" y2="438.2" stroke="#141414" stroke-width="1.2" />
<text x="376.6" y="441.6" font-size="8.6" text-anchor="end">0</text>
<line x1="379.8" y1="415.6" x2="383" y2="415.6" stroke="#141414" stroke-width="1.2" />
<text x="376.6" y="419" font-size="8.6" text-anchor="end">4</text>
<line x1="379.8" y1="393" x2="383" y2="393" stroke="#141414" stroke-width="1.2" />
<text x="376.6" y="396.4" font-size="8.6" text-anchor="end">8</text>
<line x1="379.8" y1="370.4" x2="383" y2="370.4" stroke="#141414" stroke-width="1.2" />
<text x="376.6" y="373.8" font-size="8.6" text-anchor="end">12</text>
<line x1="392.15" y1="394.5" x2="392.15" y2="387.8" stroke="#141414" stroke-width="1.3" />
<line x1="389.45" y1="387.8" x2="394.85" y2="387.8" stroke="#141414" stroke-width="1.7" />
<rect x="386.7" y="394.9" width="10.9" height="43.3" fill="#2c4c8c" stroke="#1b2f5e" stroke-width="0.8" />
<line x1="392.15" y1="438.2" x2="392.15" y2="441" stroke="#141414" stroke-width="1.1" />
<line x1="409.9" y1="437" x2="409.9" y2="436" stroke="#141414" stroke-width="1.3" />
<line x1="407.2" y1="436" x2="412.6" y2="436" stroke="#141414" stroke-width="1.7" />
<rect x="405.2" y="437.4" width="9.4" height="0.8" fill="#cdced3" stroke="#c2c2c2" stroke-width="0.8" />
<line x1="409.9" y1="438.2" x2="409.9" y2="441" stroke="#141414" stroke-width="1.1" />
<line x1="382.35" y1="438.2" x2="418.5" y2="438.2" stroke="#141414" stroke-width="1.5" />
<circle cx="405.65" cy="431.6" r="1.15" fill="#141414"/>
<circle cx="409.6" cy="431.6" r="1.15" fill="#141414"/>
<circle cx="413.55" cy="431.6" r="1.15" fill="#141414"/>
<text font-size="10.4" transform="translate(440 422.2) rotate(-90)" textLength="41" lengthAdjust="spacingAndGlyphs" x="0" y="0">Cells x 10<tspan font-size="7.9" dy="-4.16">3</tspan></text>
<line x1="464.2" y1="438.8" x2="464.2" y2="368" stroke="#141414" stroke-width="1.5" />
<line x1="461" y1="438.2" x2="464.2" y2="438.2" stroke="#141414" stroke-width="1.2" />
<text x="457.8" y="441.6" font-size="8.6" text-anchor="end">0</text>
<line x1="461" y1="424.64" x2="464.2" y2="424.64" stroke="#141414" stroke-width="1.2" />
<text x="457.8" y="428.04" font-size="8.6" text-anchor="end">0.2</text>
<line x1="461" y1="411.08" x2="464.2" y2="411.08" stroke="#141414" stroke-width="1.2" />
<text x="457.8" y="414.48" font-size="8.6" text-anchor="end">0.4</text>
<line x1="461" y1="397.52" x2="464.2" y2="397.52" stroke="#141414" stroke-width="1.2" />
<text x="457.8" y="400.92" font-size="8.6" text-anchor="end">0.6</text>
<line x1="461" y1="383.96" x2="464.2" y2="383.96" stroke="#141414" stroke-width="1.2" />
<text x="457.8" y="387.36" font-size="8.6" text-anchor="end">0.8</text>
<line x1="461" y1="370.4" x2="464.2" y2="370.4" stroke="#141414" stroke-width="1.2" />
<text x="457.8" y="373.8" font-size="8.6" text-anchor="end">1.0</text>
<line x1="473.1" y1="396.6" x2="473.1" y2="389.8" stroke="#141414" stroke-width="1.3" />
<line x1="470.4" y1="389.8" x2="475.8" y2="389.8" stroke="#141414" stroke-width="1.7" />
<rect x="467.9" y="397" width="10.4" height="41.2" fill="#2c4c8c" stroke="#1b2f5e" stroke-width="0.8" />
<line x1="473.1" y1="438.2" x2="473.1" y2="441" stroke="#141414" stroke-width="1.1" />
<line x1="490.95" y1="431.2" x2="490.95" y2="429.4" stroke="#141414" stroke-width="1.3" />
<line x1="488.25" y1="429.4" x2="493.65" y2="429.4" stroke="#141414" stroke-width="1.7" />
<rect x="485.5" y="431.6" width="10.9" height="6.6" fill="#cdced3" stroke="#c2c2c2" stroke-width="0.8" />
<line x1="490.95" y1="438.2" x2="490.95" y2="441" stroke="#141414" stroke-width="1.1" />
<line x1="463.55" y1="438.2" x2="500" y2="438.2" stroke="#141414" stroke-width="1.5" />
<circle cx="488.3" cy="424.6" r="1.1" fill="#141414"/>
<circle cx="492.4" cy="424.6" r="1.1" fill="#141414"/>
</svg>
</body></html>
